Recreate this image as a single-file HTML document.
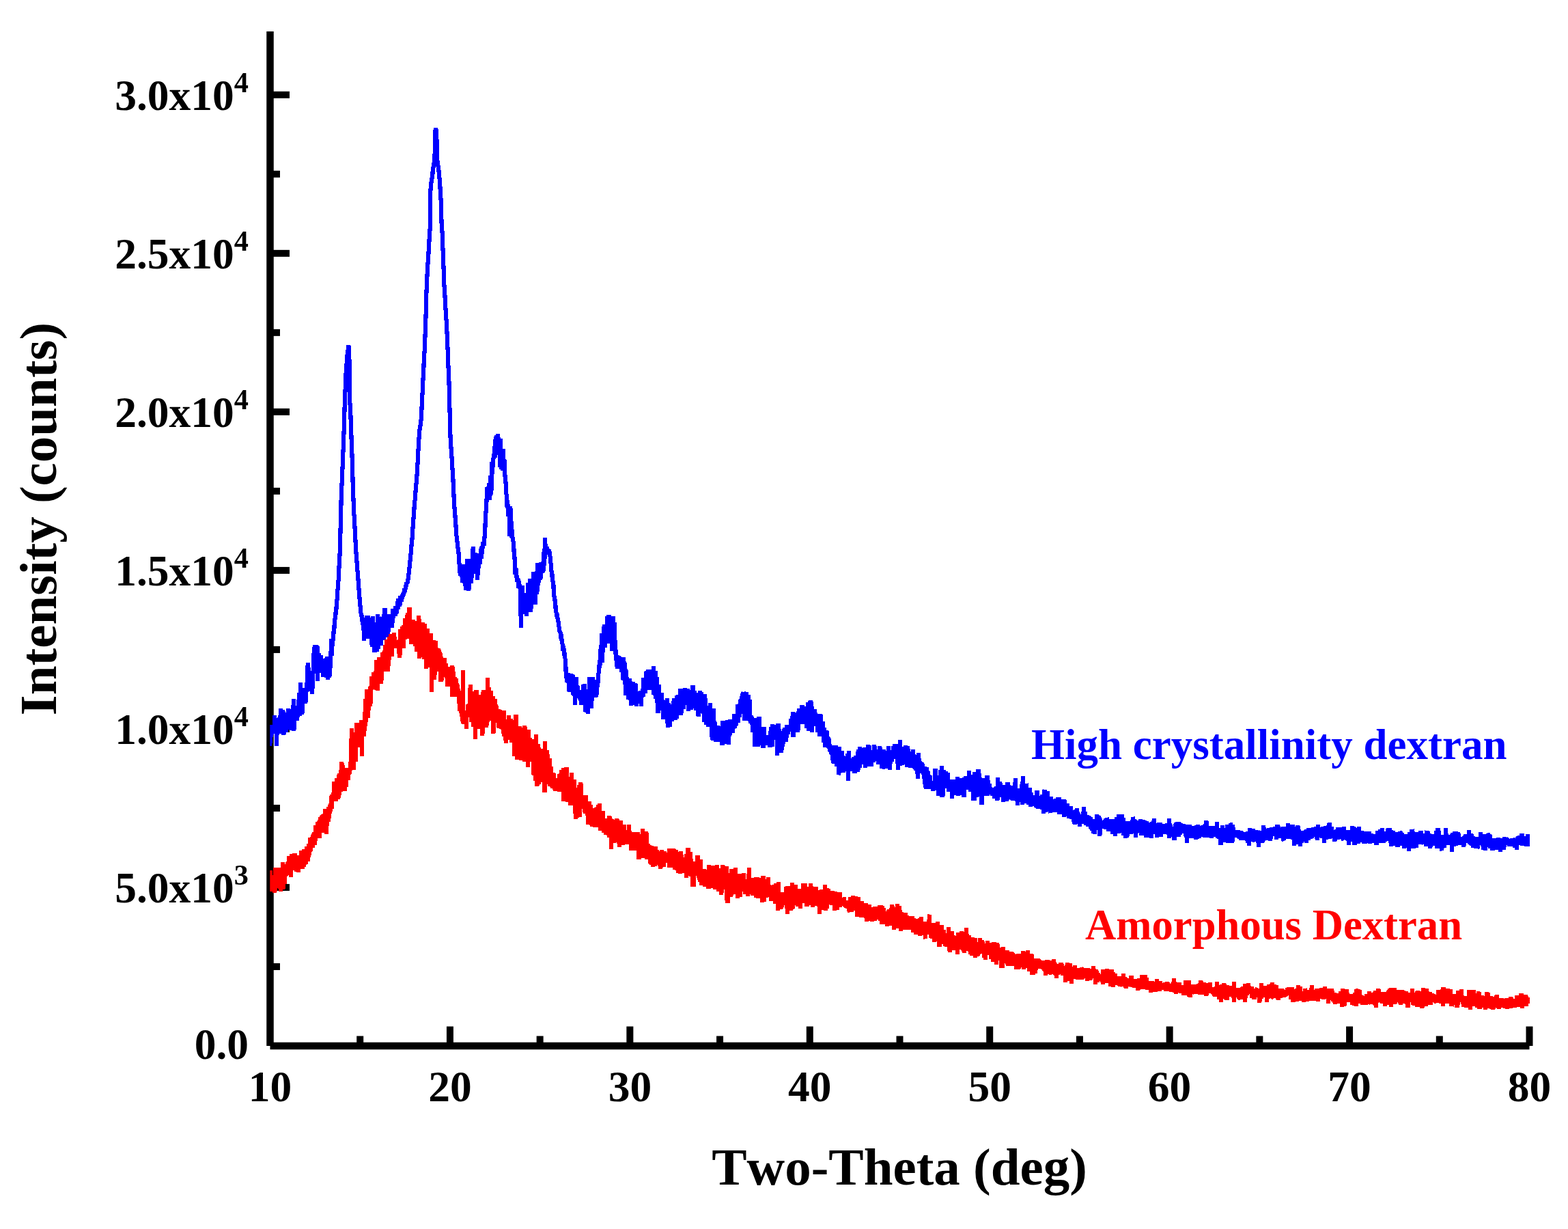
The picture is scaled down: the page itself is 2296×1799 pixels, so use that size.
<!DOCTYPE html>
<html><head><meta charset="utf-8"><title>XRD</title>
<style>
html,body{margin:0;padding:0;background:#fff;}
body{width:2296px;height:1799px;overflow:hidden;}
svg{display:block;}
text{font-family:"Liberation Serif","Times New Roman",serif;font-weight:bold;font-kerning:none;}
</style></head><body>
<svg width="2296" height="1799" viewBox="0 0 2296 1799">
<rect width="2296" height="1799" fill="#fff"/>

<g fill="#000">
<rect x="390.25" y="46" width="10.5" height="1485.00"/>
<rect x="395.50" y="1525.75" width="1844.00" height="10.5"/>
<rect x="395.50" y="1409.98" width="14.5" height="10.0"/>
<rect x="395.50" y="1293.97" width="28.5" height="10.0"/>
<rect x="395.50" y="1177.95" width="14.5" height="10.0"/>
<rect x="395.50" y="1061.94" width="28.5" height="10.0"/>
<rect x="395.50" y="945.92" width="14.5" height="10.0"/>
<rect x="395.50" y="829.91" width="28.5" height="10.0"/>
<rect x="395.50" y="713.89" width="14.5" height="10.0"/>
<rect x="395.50" y="597.87" width="28.5" height="10.0"/>
<rect x="395.50" y="481.86" width="14.5" height="10.0"/>
<rect x="395.50" y="365.84" width="28.5" height="10.0"/>
<rect x="395.50" y="249.83" width="14.5" height="10.0"/>
<rect x="395.50" y="133.81" width="28.5" height="10.0"/>
<rect x="522.21" y="1516.50" width="10.0" height="14.5"/>
<rect x="653.93" y="1502.50" width="10.0" height="28.5"/>
<rect x="785.64" y="1516.50" width="10.0" height="14.5"/>
<rect x="917.36" y="1502.50" width="10.0" height="28.5"/>
<rect x="1049.07" y="1516.50" width="10.0" height="14.5"/>
<rect x="1180.79" y="1502.50" width="10.0" height="28.5"/>
<rect x="1312.50" y="1516.50" width="10.0" height="14.5"/>
<rect x="1444.21" y="1502.50" width="10.0" height="28.5"/>
<rect x="1575.93" y="1516.50" width="10.0" height="14.5"/>
<rect x="1707.64" y="1502.50" width="10.0" height="28.5"/>
<rect x="1839.36" y="1516.50" width="10.0" height="14.5"/>
<rect x="1971.07" y="1502.50" width="10.0" height="28.5"/>
<rect x="2102.79" y="1516.50" width="10.0" height="14.5"/>
<rect x="2234.50" y="1502.50" width="10.0" height="28.5"/>
</g>
<defs><clipPath id="pc"><rect x="395.3" y="0" width="1844.7" height="1799"/></clipPath></defs><g clip-path="url(#pc)">
<path d="M395.0 1081.7L395.3 1092.2L395.6 1080.1L395.9 1061.5L396.1 1085.0L396.4 1079.3L396.7 1068.6L397.0 1079.2L397.3 1076.4L397.6 1075.0L397.9 1071.9L398.1 1075.9L398.4 1064.2L398.7 1068.6L399.0 1065.5L399.3 1073.4L399.6 1068.4L399.9 1065.4L400.1 1061.5L400.4 1064.6L400.7 1065.8L401.0 1063.5L401.3 1072.2L401.6 1073.0L401.9 1048.9L402.1 1047.6L402.4 1061.4L402.7 1059.7L403.0 1062.0L403.3 1061.3L403.6 1067.8L403.9 1055.4L404.1 1057.5L404.4 1066.8L404.7 1060.2L405.0 1058.5L405.3 1091.9L405.6 1051.9L405.9 1057.6L406.1 1057.6L406.4 1051.6L406.7 1053.9L407.0 1057.4L407.3 1051.8L407.6 1057.5L407.9 1059.2L408.1 1058.9L408.4 1054.3L408.7 1064.7L409.0 1068.2L409.3 1062.9L409.6 1050.4L409.9 1068.5L410.1 1053.8L410.4 1071.8L410.7 1037.1L411.0 1073.7L411.3 1060.6L411.6 1042.5L411.9 1056.3L412.1 1061.6L412.4 1064.7L412.7 1047.1L413.0 1045.5L413.3 1063.5L413.6 1054.5L413.9 1063.9L414.1 1070.8L414.4 1039.3L414.7 1064.0L415.0 1076.2L415.3 1057.0L415.6 1050.7L415.9 1075.3L416.1 1063.7L416.4 1071.3L416.7 1054.2L417.0 1043.7L417.3 1059.4L417.6 1055.7L417.9 1069.1L418.1 1062.7L418.4 1043.3L418.7 1048.1L419.0 1069.6L419.3 1071.5L419.6 1054.2L419.9 1060.5L420.1 1064.8L420.4 1064.9L420.7 1068.3L421.0 1062.0L421.3 1058.3L421.6 1056.3L421.9 1068.3L422.1 1036.6L422.4 1056.2L422.7 1057.4L423.0 1043.1L423.3 1061.2L423.6 1049.6L423.9 1063.5L424.1 1053.7L424.4 1060.9L424.7 1065.6L425.0 1057.3L425.3 1044.9L425.6 1038.4L425.9 1069.1L426.1 1050.9L426.4 1045.0L426.7 1052.5L427.0 1048.8L427.3 1063.2L427.6 1050.1L427.9 1049.5L428.1 1042.2L428.4 1053.0L428.7 1038.2L429.0 1054.1L429.3 1061.8L429.6 1032.3L429.9 1023.2L430.1 1052.3L430.4 1070.1L430.7 1036.8L431.0 1034.3L431.3 1051.1L431.6 1037.8L431.9 1040.7L432.1 1042.0L432.4 1049.6L432.7 1041.1L433.0 1046.9L433.3 1042.8L433.6 1036.9L433.9 1041.2L434.1 1035.7L434.4 1043.6L434.7 1034.0L435.0 1034.2L435.3 1054.9L435.6 1042.4L435.9 1041.4L436.1 1045.4L436.4 1036.3L436.7 1036.8L437.0 1041.8L437.3 1039.5L437.6 1024.1L437.9 1048.2L438.1 1023.6L438.4 1014.2L438.7 1021.4L439.0 1023.2L439.3 1048.2L439.6 1014.1L439.9 1029.1L440.1 999.2L440.4 1024.9L440.7 1035.7L441.0 1019.6L441.3 1013.1L441.6 1023.9L441.9 1029.7L442.1 1028.9L442.4 1045.5L442.7 1022.7L443.0 1009.2L443.3 1019.0L443.6 1019.8L443.9 1021.7L444.1 1020.5L444.4 1022.4L444.7 1007.5L445.0 1027.3L445.3 1017.3L445.6 1014.0L445.9 1025.1L446.1 1028.3L446.4 1023.9L446.7 1022.5L447.0 1018.9L447.3 1029.8L447.6 1024.1L447.9 1019.5L448.1 1015.7L448.4 1013.4L448.7 1004.4L449.0 1005.5L449.3 999.0L449.6 1002.1L449.9 997.2L450.1 974.2L450.4 984.6L450.7 970.2L451.0 985.2L451.3 981.0L451.6 985.1L451.9 977.3L452.1 1002.2L452.4 998.5L452.7 983.2L453.0 992.8L453.3 989.1L453.6 994.3L453.9 986.4L454.1 1012.0L454.4 995.4L454.7 999.6L455.0 1005.6L455.3 1002.6L455.6 1006.1L455.9 1006.8L456.1 1010.2L456.4 1008.5L456.7 1012.9L457.0 1015.5L457.3 1009.2L457.6 1004.6L457.9 997.6L458.1 995.4L458.4 985.8L458.7 980.6L459.0 972.8L459.3 967.5L459.6 955.8L459.9 959.9L460.1 947.4L460.4 952.5L460.7 960.4L461.0 960.6L461.3 956.1L461.6 944.1L461.9 966.4L462.1 964.0L462.4 948.6L462.7 971.5L463.0 956.4L463.3 943.8L463.6 967.3L463.9 964.6L464.1 970.7L464.4 945.3L464.7 997.4L465.0 960.9L465.3 945.8L465.6 983.1L465.9 966.8L466.1 980.0L466.4 968.1L466.7 973.2L467.0 978.4L467.3 955.8L467.6 984.8L467.9 968.1L468.1 963.1L468.4 976.0L468.7 980.5L469.0 972.6L469.3 966.2L469.6 981.6L469.9 959.3L470.1 966.9L470.4 976.2L470.7 966.3L471.0 976.4L471.3 975.7L471.6 980.8L471.9 972.6L472.1 974.4L472.4 977.9L472.7 964.5L473.0 990.6L473.3 973.7L473.6 973.4L473.9 982.4L474.1 977.3L474.4 966.0L474.7 982.3L475.0 984.3L475.3 974.7L475.6 976.0L475.9 982.6L476.1 970.4L476.4 982.9L476.7 980.9L477.0 972.1L477.3 964.3L477.6 976.8L477.9 963.4L478.1 991.5L478.4 981.1L478.7 987.8L479.0 979.2L479.3 979.9L479.6 961.3L479.9 982.8L480.1 994.7L480.4 969.9L480.7 965.8L481.0 969.9L481.3 965.5L481.6 962.3L481.9 970.6L482.1 965.2L482.4 992.1L482.7 966.6L483.0 971.2L483.3 974.8L483.6 961.0L483.9 977.8L484.1 956.0L484.4 953.3L484.7 955.8L485.0 956.2L485.3 934.9L485.6 952.9L485.9 937.0L486.1 960.4L486.4 946.4L486.7 940.1L487.0 936.3L487.3 938.2L487.6 936.6L487.9 928.5L488.1 926.4L488.4 927.4L488.7 922.7L489.0 928.3L489.3 923.0L489.6 915.5L489.9 913.6L490.1 905.8L490.4 907.0L490.7 903.7L491.0 902.8L491.3 902.5L491.6 896.1L491.9 897.3L492.1 894.5L492.4 892.3L492.7 886.4L493.0 883.7L493.3 880.4L493.6 876.8L493.9 872.5L494.1 867.9L494.4 864.1L494.7 861.5L495.0 856.8L495.3 851.5L495.6 849.4L495.9 843.5L496.1 838.4L496.4 831.9L496.7 827.4L497.0 820.3L497.3 816.5L497.6 809.8L497.9 805.3L498.1 796.5L498.4 781.7L498.7 769.8L499.0 757.1L499.3 745.2L499.6 731.9L499.9 722.8L500.1 717.4L500.4 710.8L500.7 705.1L501.0 694.9L501.3 689.1L501.6 683.9L501.9 674.6L502.1 667.9L502.4 662.6L502.7 655.7L503.0 646.2L503.3 639.3L503.6 630.9L503.9 622.9L504.1 612.2L504.4 603.6L504.7 592.6L505.0 583.7L505.3 576.4L505.6 570.1L505.9 562.1L506.1 553.1L506.4 548.8L506.7 545.0L507.0 540.4L507.3 536.3L507.6 532.5L507.9 527.3L508.1 525.0L508.4 521.3L508.7 517.8L509.0 517.3L509.3 513.5L509.6 512.3L509.9 510.4L510.1 510.6L510.4 505.6L510.7 509.1L511.0 516.3L511.3 522.7L511.6 530.3L511.9 556.9L512.1 582.8L512.4 590.4L512.7 593.7L513.0 599.5L513.3 603.7L513.6 613.5L513.9 621.2L514.1 627.8L514.4 637.2L514.7 644.5L515.0 652.3L515.3 660.9L515.6 670.0L515.9 680.0L516.1 689.3L516.4 697.9L516.7 708.4L517.0 716.4L517.3 726.5L517.6 733.9L517.9 740.3L518.1 744.5L518.4 752.7L518.7 756.4L519.0 761.9L519.3 767.2L519.6 773.9L519.9 779.2L520.1 784.0L520.4 789.7L520.7 795.9L521.0 801.5L521.3 806.6L521.6 810.7L521.9 814.1L522.1 817.5L522.4 820.7L522.7 824.9L523.0 829.7L523.3 834.1L523.6 837.0L523.9 839.9L524.1 843.9L524.4 847.4L524.7 850.9L525.0 855.0L525.3 858.9L525.6 863.7L525.9 866.1L526.1 870.6L526.4 874.5L526.7 877.1L527.0 881.7L527.3 884.8L527.6 887.7L527.9 891.9L528.1 895.3L528.4 896.9L528.7 898.2L529.0 900.0L529.3 902.6L529.6 900.3L529.9 903.8L530.1 900.2L530.4 907.6L530.7 910.5L531.0 910.0L531.3 912.1L531.6 915.2L531.9 909.5L532.1 913.3L532.4 919.4L532.7 924.4L533.0 921.7L533.3 937.7L533.6 917.6L533.9 926.1L534.1 928.1L534.4 917.5L534.7 912.1L535.0 903.8L535.3 919.5L535.6 926.8L535.9 920.3L536.1 920.3L536.4 915.0L536.7 925.1L537.0 900.8L537.3 919.7L537.6 918.0L537.9 906.5L538.1 935.4L538.4 906.2L538.7 908.6L539.0 901.5L539.3 926.6L539.6 909.8L539.9 922.9L540.1 925.2L540.4 919.3L540.7 905.8L541.0 911.7L541.3 931.4L541.6 905.6L541.9 905.1L542.1 915.3L542.4 924.5L542.7 920.1L543.0 929.6L543.3 908.7L543.6 928.9L543.9 925.9L544.1 904.5L544.4 937.6L544.7 946.5L545.0 914.3L545.3 923.9L545.6 939.7L545.9 907.4L546.1 901.8L546.4 910.2L546.7 919.4L547.0 919.8L547.3 935.2L547.6 931.6L547.9 912.6L548.1 936.9L548.4 955.2L548.7 946.9L549.0 944.9L549.3 932.1L549.6 946.5L549.9 919.0L550.1 944.7L550.4 932.9L550.7 952.0L551.0 942.6L551.3 919.1L551.6 937.6L551.9 953.5L552.1 917.8L552.4 925.9L552.7 922.5L553.0 899.2L553.3 946.0L553.6 950.0L553.9 942.3L554.1 936.2L554.4 929.9L554.7 933.1L555.0 914.9L555.3 940.0L555.6 941.1L555.9 939.0L556.1 921.4L556.4 927.9L556.7 923.6L557.0 945.4L557.3 927.4L557.6 905.4L557.9 929.2L558.1 944.7L558.4 931.9L558.7 933.8L559.0 924.8L559.3 903.5L559.6 905.0L559.9 902.9L560.1 922.4L560.4 926.8L560.7 930.7L561.0 919.7L561.3 933.2L561.6 918.2L561.9 915.4L562.1 937.0L562.4 912.8L562.7 893.5L563.0 911.0L563.3 923.0L563.6 890.2L563.9 917.9L564.1 918.0L564.4 906.3L564.7 905.5L565.0 916.1L565.3 911.2L565.6 932.2L565.9 922.5L566.1 903.0L566.4 909.4L566.7 923.0L567.0 932.6L567.3 918.5L567.6 917.0L567.9 928.7L568.1 912.8L568.4 908.5L568.7 901.1L569.0 907.1L569.3 924.9L569.6 900.0L569.9 909.3L570.1 899.5L570.4 909.3L570.7 913.8L571.0 906.0L571.3 911.9L571.6 911.4L571.9 909.2L572.1 916.6L572.4 910.4L572.7 903.4L573.0 900.7L573.3 899.4L573.6 906.8L573.9 901.7L574.1 918.9L574.4 913.3L574.7 901.2L575.0 900.2L575.3 910.9L575.6 891.0L575.9 896.9L576.1 905.4L576.4 895.3L576.7 897.2L577.0 897.4L577.3 902.1L577.6 899.1L577.9 899.9L578.1 900.4L578.4 897.4L578.7 901.9L579.0 893.1L579.3 889.6L579.6 887.7L579.9 888.2L580.1 892.3L580.4 898.3L580.7 894.0L581.0 890.1L581.3 887.5L581.6 889.1L581.9 888.9L582.1 887.6L582.4 880.2L582.7 886.6L583.0 891.6L583.3 875.8L583.6 885.4L583.9 877.9L584.1 885.6L584.4 881.6L584.7 876.3L585.0 883.4L585.3 888.3L585.6 882.0L585.9 884.6L586.1 879.9L586.4 872.6L586.7 880.2L587.0 876.7L587.3 872.9L587.6 880.3L587.9 876.8L588.1 873.8L588.4 876.9L588.7 871.6L589.0 874.8L589.3 870.2L589.6 873.1L589.9 868.6L590.1 873.8L590.4 870.3L590.7 872.1L591.0 866.7L591.3 866.8L591.6 868.6L591.9 861.3L592.1 863.7L592.4 866.6L592.7 864.8L593.0 864.8L593.3 861.9L593.6 862.5L593.9 859.7L594.1 858.1L594.4 856.9L594.7 857.7L595.0 856.9L595.3 856.0L595.6 852.6L595.9 853.0L596.1 853.8L596.4 853.9L596.7 852.3L597.0 851.2L597.3 847.7L597.6 849.0L597.9 844.2L598.1 843.9L598.4 841.5L598.7 838.2L599.0 835.3L599.3 833.5L599.6 830.4L599.9 828.4L600.1 825.2L600.4 822.4L600.7 819.8L601.0 816.9L601.3 812.6L601.6 810.3L601.9 806.1L602.1 802.7L602.4 800.0L602.7 796.4L603.0 794.7L603.3 791.6L603.6 787.4L603.9 782.6L604.1 778.7L604.4 774.1L604.7 769.6L605.0 766.5L605.3 762.3L605.6 757.3L605.9 754.4L606.1 748.7L606.4 745.7L606.7 741.3L607.0 737.7L607.3 733.9L607.6 732.0L607.9 728.2L608.1 725.8L608.4 721.1L608.7 716.6L609.0 713.8L609.3 709.8L609.6 707.6L609.9 704.7L610.1 700.6L610.4 696.5L610.7 693.1L611.0 688.2L611.3 681.5L611.6 677.3L611.9 671.9L612.1 666.0L612.4 660.6L612.7 655.7L613.0 649.5L613.3 644.1L613.6 639.9L613.9 634.8L614.1 633.9L614.4 629.5L614.7 627.3L615.0 627.4L615.3 625.5L615.6 622.2L615.9 619.7L616.1 618.8L616.4 615.5L616.7 614.4L617.0 607.0L617.3 602.5L617.6 595.1L617.9 590.5L618.1 585.8L618.4 578.5L618.7 573.3L619.0 566.2L619.3 560.0L619.6 552.9L619.9 549.5L620.1 542.8L620.4 538.0L620.7 530.0L621.0 524.6L621.3 519.0L621.6 514.0L621.9 508.3L622.1 500.5L622.4 494.2L622.7 486.8L623.0 480.3L623.3 469.6L623.6 459.6L623.9 450.4L624.1 438.9L624.4 429.9L624.7 422.3L625.0 412.3L625.3 407.3L625.6 401.6L625.9 398.0L626.1 394.1L626.4 387.0L626.7 383.2L627.0 378.0L627.3 373.8L627.6 368.8L627.9 363.8L628.1 358.5L628.4 354.3L628.7 349.1L629.0 344.6L629.3 339.9L629.6 335.6L629.9 315.0L630.1 292.3L630.4 279.3L630.7 275.0L631.0 271.6L631.3 269.1L631.6 265.8L631.9 264.4L632.1 263.2L632.4 260.8L632.7 260.8L633.0 259.6L633.3 256.5L633.6 251.5L633.9 251.0L634.1 247.1L634.4 245.4L634.7 243.7L635.0 240.8L635.3 241.4L635.6 238.0L635.9 236.7L636.1 234.8L636.4 233.4L636.7 221.5L637.0 204.4L637.3 194.3L637.6 190.4L637.9 189.2L638.1 188.0L638.4 189.5L638.7 192.1L639.0 193.1L639.3 199.2L639.6 212.2L639.9 226.3L640.1 234.2L640.4 234.8L640.7 239.4L641.0 239.2L641.3 241.0L641.6 243.7L641.9 245.9L642.1 247.8L642.4 249.0L642.7 253.2L643.0 255.0L643.3 259.0L643.6 262.0L643.9 263.9L644.1 268.1L644.4 272.5L644.7 278.6L645.0 283.5L645.3 288.8L645.6 293.1L645.9 301.9L646.1 312.8L646.4 320.9L646.7 329.4L647.0 333.5L647.3 337.0L647.6 340.7L647.9 346.9L648.1 354.7L648.4 362.4L648.7 369.0L649.0 379.7L649.3 386.4L649.6 393.7L649.9 402.0L650.1 410.0L650.4 417.5L650.7 421.0L651.0 425.8L651.3 429.0L651.6 436.1L651.9 439.7L652.1 444.6L652.4 450.8L652.7 454.6L653.0 460.8L653.3 465.9L653.6 468.6L653.9 474.8L654.1 478.6L654.4 484.7L654.7 490.4L655.0 496.1L655.3 505.8L655.6 511.6L655.9 517.8L656.1 526.5L656.4 534.5L656.7 540.3L657.0 548.7L657.3 555.0L657.6 564.3L657.9 573.2L658.1 584.2L658.4 597.1L658.7 606.4L659.0 619.3L659.3 632.6L659.6 641.0L659.9 646.5L660.1 650.0L660.4 653.7L660.7 658.3L661.0 663.1L661.3 667.1L661.6 671.1L661.9 675.6L662.1 679.4L662.4 685.0L662.7 689.6L663.0 694.2L663.3 698.1L663.6 706.3L663.9 711.1L664.1 715.9L664.4 722.8L664.7 729.2L665.0 734.8L665.3 740.7L665.6 744.8L665.9 748.6L666.1 751.8L666.4 754.0L666.7 758.9L667.0 763.5L667.3 766.7L667.6 771.4L667.9 775.3L668.1 778.6L668.4 783.8L668.7 785.5L669.0 789.8L669.3 791.1L669.6 793.2L669.9 796.8L670.1 797.6L670.4 801.9L670.7 802.2L671.0 805.8L671.3 807.2L671.6 810.3L671.9 814.2L672.1 816.8L672.4 824.0L672.7 826.1L673.0 830.7L673.3 837.2L673.6 838.2L673.9 839.0L674.1 838.3L674.4 842.9L674.7 835.6L675.0 836.9L675.3 836.4L675.6 842.5L675.9 841.1L676.1 844.6L676.4 844.7L676.7 840.5L677.0 838.2L677.3 837.7L677.6 853.4L677.9 848.0L678.1 846.7L678.4 842.0L678.7 843.2L679.0 842.7L679.3 843.1L679.6 826.0L679.9 845.6L680.1 842.1L680.4 849.0L680.7 849.7L681.0 858.3L681.3 848.0L681.6 855.1L681.9 827.2L682.1 833.9L682.4 864.3L682.7 837.6L683.0 845.4L683.3 853.7L683.6 838.8L683.9 856.6L684.1 832.6L684.4 817.7L684.7 832.3L685.0 828.6L685.3 843.2L685.6 839.8L685.9 845.3L686.1 831.9L686.4 865.1L686.7 839.6L687.0 839.5L687.3 843.7L687.6 836.4L687.9 832.1L688.1 838.5L688.4 846.0L688.7 843.0L689.0 845.2L689.3 829.8L689.6 827.1L689.9 854.2L690.1 831.3L690.4 840.7L690.7 840.0L691.0 846.3L691.3 817.7L691.6 822.9L691.9 825.8L692.1 824.7L692.4 803.3L692.7 828.2L693.0 800.0L693.3 831.9L693.6 834.1L693.9 834.6L694.1 817.1L694.4 837.6L694.7 820.3L695.0 816.9L695.3 819.2L695.6 820.4L695.9 830.4L696.1 835.1L696.4 809.4L696.7 822.9L697.0 839.7L697.3 829.1L697.6 831.5L697.9 814.9L698.1 834.7L698.4 814.5L698.7 828.3L699.0 837.2L699.3 849.4L699.6 830.3L699.9 832.9L700.1 821.3L700.4 821.1L700.7 832.1L701.0 822.4L701.3 820.3L701.6 809.7L701.9 820.1L702.1 822.6L702.4 810.9L702.7 811.9L703.0 826.2L703.3 815.5L703.6 810.1L703.9 802.7L704.1 805.4L704.4 805.9L704.7 817.8L705.0 803.0L705.3 818.0L705.6 799.9L705.9 802.7L706.1 808.5L706.4 801.9L706.7 798.4L707.0 800.9L707.3 802.5L707.6 793.5L707.9 797.7L708.1 797.9L708.4 796.4L708.7 798.3L709.0 794.7L709.3 789.9L709.6 785.4L709.9 781.6L710.1 774.5L710.4 772.7L710.7 762.8L711.0 761.8L711.3 752.4L711.6 748.6L711.9 744.4L712.1 742.4L712.4 736.0L712.7 727.2L713.0 725.3L713.3 717.2L713.6 713.5L713.9 718.6L714.1 716.4L714.4 722.3L714.7 712.0L715.0 719.9L715.3 723.1L715.6 720.0L715.9 716.6L716.1 707.3L716.4 731.1L716.7 719.7L717.0 731.8L717.3 711.1L717.6 718.2L717.9 695.7L718.1 716.2L718.4 725.7L718.7 710.2L719.0 719.4L719.3 707.2L719.6 718.1L719.9 694.3L720.1 675.7L720.4 694.9L720.7 686.3L721.0 677.7L721.3 685.7L721.6 680.8L721.9 677.4L722.1 672.1L722.4 670.9L722.7 670.0L723.0 672.1L723.3 664.4L723.6 664.9L723.9 665.6L724.1 655.2L724.4 653.6L724.7 669.5L725.0 643.2L725.3 659.6L725.6 649.9L725.9 645.8L726.1 638.9L726.4 644.3L726.7 655.1L727.0 637.0L727.3 651.4L727.6 647.7L727.9 661.8L728.1 640.2L728.4 657.2L728.7 655.1L729.0 645.8L729.3 634.8L729.6 664.4L729.9 640.1L730.1 649.3L730.4 662.6L730.7 665.9L731.0 650.0L731.3 658.4L731.6 657.7L731.9 671.5L732.1 684.3L732.4 648.0L732.7 673.0L733.0 641.8L733.3 667.8L733.6 658.9L733.9 686.7L734.1 671.0L734.4 663.3L734.7 665.9L735.0 665.6L735.3 674.5L735.6 670.5L735.9 679.3L736.1 689.0L736.4 685.4L736.7 661.1L737.0 657.0L737.3 666.9L737.6 687.5L737.9 672.4L738.1 672.1L738.4 684.5L738.7 672.9L739.0 679.9L739.3 698.3L739.6 695.2L739.9 697.9L740.1 707.0L740.4 704.9L740.7 708.4L741.0 713.5L741.3 722.0L741.6 723.2L741.9 723.0L742.1 729.6L742.4 734.7L742.7 744.4L743.0 731.8L743.3 739.7L743.6 738.3L743.9 746.6L744.1 746.2L744.4 756.3L744.7 750.9L745.0 742.9L745.3 744.2L745.6 755.8L745.9 757.7L746.1 784.7L746.4 778.6L746.7 741.5L747.0 767.7L747.3 745.0L747.6 744.4L747.9 774.8L748.1 774.4L748.4 760.9L748.7 787.3L749.0 767.5L749.3 769.1L749.6 783.5L749.9 782.8L750.1 783.1L750.4 785.7L750.7 788.8L751.0 790.0L751.3 792.4L751.6 792.3L751.9 795.9L752.1 803.3L752.4 802.9L752.7 809.6L753.0 815.1L753.3 812.7L753.6 818.9L753.9 829.0L754.1 826.3L754.4 840.7L754.7 837.2L755.0 836.4L755.3 834.6L755.6 833.1L755.9 833.4L756.1 844.2L756.4 845.0L756.7 842.4L757.0 848.9L757.3 842.4L757.6 851.9L757.9 847.7L758.1 848.3L758.4 849.6L758.7 850.2L759.0 861.1L759.3 846.9L759.6 854.3L759.9 858.7L760.1 857.9L760.4 856.0L760.7 862.2L761.0 856.4L761.3 857.2L761.6 862.0L761.9 859.6L762.1 859.6L762.4 865.2L762.7 919.2L763.0 866.6L763.3 864.6L763.6 866.8L763.9 864.2L764.1 873.1L764.4 870.9L764.7 871.6L765.0 857.4L765.3 873.6L765.6 877.6L765.9 880.8L766.1 876.0L766.4 872.5L766.7 871.2L767.0 877.4L767.3 876.8L767.6 876.6L767.9 873.5L768.1 895.6L768.4 868.2L768.7 877.3L769.0 870.7L769.3 887.3L769.6 899.1L769.9 891.1L770.1 887.5L770.4 867.9L770.7 902.2L771.0 887.7L771.3 881.6L771.6 882.5L771.9 878.3L772.1 885.8L772.4 884.1L772.7 876.7L773.0 852.9L773.3 879.1L773.6 884.1L773.9 887.5L774.1 876.5L774.4 882.5L774.7 888.3L775.0 868.6L775.3 892.2L775.6 854.5L775.9 861.5L776.1 864.9L776.4 847.4L776.7 862.9L777.0 895.7L777.3 886.9L777.6 873.6L777.9 891.4L778.1 873.9L778.4 864.8L778.7 872.2L779.0 867.1L779.3 875.9L779.6 850.3L779.9 877.0L780.1 860.1L780.4 873.6L780.7 836.6L781.0 858.0L781.3 862.5L781.6 870.4L781.9 846.9L782.1 876.8L782.4 863.3L782.7 848.4L783.0 869.2L783.3 856.6L783.6 866.8L783.9 885.0L784.1 860.9L784.4 846.6L784.7 847.0L785.0 856.7L785.3 853.2L785.6 841.8L785.9 843.1L786.1 855.1L786.4 869.8L786.7 824.5L787.0 853.8L787.3 845.2L787.6 856.9L787.9 853.1L788.1 846.0L788.4 837.2L788.7 834.0L789.0 830.2L789.3 852.5L789.6 841.7L789.9 839.0L790.1 840.4L790.4 833.1L790.7 843.2L791.0 848.8L791.3 847.0L791.6 830.9L791.9 846.9L792.1 834.8L792.4 823.0L792.7 831.8L793.0 832.8L793.3 836.9L793.6 831.5L793.9 822.9L794.1 830.8L794.4 839.3L794.7 822.3L795.0 828.3L795.3 824.3L795.6 836.2L795.9 809.2L796.1 823.9L796.4 808.2L796.7 810.1L797.0 811.0L797.3 828.2L797.6 802.7L797.9 793.2L798.1 787.1L798.4 796.0L798.7 800.4L799.0 802.1L799.3 803.2L799.6 802.0L799.9 804.7L800.1 805.6L800.4 810.7L800.7 802.3L801.0 801.3L801.3 800.5L801.6 807.6L801.9 805.4L802.1 807.8L802.4 808.0L802.7 811.5L803.0 807.5L803.3 809.1L803.6 805.1L803.9 805.9L804.1 807.8L804.4 807.0L804.7 810.7L805.0 810.7L805.3 815.0L805.6 814.1L805.9 818.5L806.1 822.1L806.4 824.8L806.7 824.8L807.0 830.6L807.3 834.7L807.6 836.7L807.9 836.8L808.1 839.4L808.4 839.3L808.7 847.1L809.0 851.5L809.3 849.8L809.6 850.0L809.9 856.7L810.1 860.4L810.4 855.9L810.7 864.5L811.0 872.9L811.3 871.1L811.6 873.2L811.9 875.6L812.1 879.5L812.4 877.2L812.7 881.1L813.0 886.1L813.3 886.8L813.6 890.9L813.9 886.5L814.1 894.9L814.4 896.7L814.7 896.8L815.0 898.6L815.3 902.8L815.6 898.3L815.9 901.4L816.1 902.6L816.4 904.9L816.7 905.9L817.0 909.4L817.3 909.7L817.6 909.9L817.9 911.3L818.1 917.8L818.4 917.1L818.7 918.4L819.0 920.4L819.3 921.7L819.6 924.9L819.9 926.1L820.1 925.6L820.4 926.5L820.7 926.0L821.0 928.1L821.3 934.6L821.6 931.3L821.9 928.3L822.1 933.9L822.4 935.2L822.7 938.9L823.0 937.5L823.3 941.9L823.6 942.8L823.9 946.1L824.1 949.5L824.4 952.5L824.7 950.3L825.0 945.4L825.3 948.5L825.6 951.4L825.9 957.4L826.1 955.1L826.4 959.7L826.7 955.1L827.0 959.7L827.3 964.1L827.6 964.0L827.9 972.3L828.1 977.6L828.4 976.1L828.7 985.6L829.0 993.1L829.3 988.5L829.6 991.9L829.9 993.8L830.1 993.4L830.4 998.5L830.7 994.4L831.0 994.9L831.3 991.2L831.6 984.9L831.9 989.3L832.1 999.6L832.4 986.5L832.7 990.9L833.0 1011.7L833.3 1007.2L833.6 989.6L833.9 1002.3L834.1 989.5L834.4 1013.2L834.7 989.7L835.0 996.8L835.3 1011.4L835.6 986.1L835.9 1011.0L836.1 985.6L836.4 998.4L836.7 992.5L837.0 995.7L837.3 999.3L837.6 997.2L837.9 987.1L838.1 1009.0L838.4 1007.9L838.7 1014.6L839.0 1016.0L839.3 987.8L839.6 1015.8L839.9 1016.3L840.1 998.5L840.4 1014.6L840.7 1019.1L841.0 1000.7L841.3 993.7L841.6 1003.8L841.9 1032.4L842.1 1011.6L842.4 998.6L842.7 1007.5L843.0 1002.0L843.3 1007.2L843.6 1011.5L843.9 991.0L844.1 1014.1L844.4 1022.4L844.7 1010.5L845.0 1009.4L845.3 1020.5L845.6 1003.8L845.9 1004.4L846.1 1003.8L846.4 1012.7L846.7 1016.8L847.0 1013.8L847.3 1018.3L847.6 1020.4L847.9 1018.5L848.1 1010.6L848.4 1014.3L848.7 1023.7L849.0 1010.4L849.3 1014.6L849.6 1014.8L849.9 1016.5L850.1 1012.0L850.4 1010.9L850.7 1032.0L851.0 1023.7L851.3 1012.1L851.6 1018.4L851.9 1023.0L852.1 1016.9L852.4 1023.1L852.7 1015.2L853.0 1017.0L853.3 1018.9L853.6 1016.4L853.9 1001.8L854.1 1020.1L854.4 1022.0L854.7 1023.9L855.0 1012.3L855.3 1023.3L855.6 1022.4L855.9 1005.5L856.1 1001.5L856.4 1025.2L856.7 1012.4L857.0 1030.5L857.3 1041.6L857.6 1012.5L857.9 1014.8L858.1 1021.6L858.4 1028.7L858.7 1010.2L859.0 1042.6L859.3 1032.4L859.6 1029.0L859.9 1016.3L860.1 1032.0L860.4 1031.5L860.7 1009.1L861.0 1045.4L861.3 1019.0L861.6 1026.6L861.9 1016.5L862.1 1027.0L862.4 1036.0L862.7 1013.2L863.0 991.5L863.3 1017.4L863.6 1007.0L863.9 1012.7L864.1 1019.0L864.4 1018.6L864.7 1032.2L865.0 1006.6L865.3 1019.8L865.6 1010.1L865.9 1027.3L866.1 1036.9L866.4 1014.7L866.7 1025.8L867.0 1005.3L867.3 995.4L867.6 991.3L867.9 994.3L868.1 998.4L868.4 1002.8L868.7 1012.2L869.0 1009.4L869.3 1008.1L869.6 1002.2L869.9 1000.5L870.1 1006.2L870.4 1007.4L870.7 1008.6L871.0 1009.7L871.3 1006.8L871.6 994.7L871.9 1000.7L872.1 1003.1L872.4 1020.7L872.7 1006.6L873.0 1014.5L873.3 1020.2L873.6 1012.9L873.9 1007.9L874.1 1006.1L874.4 999.4L874.7 1005.5L875.0 1006.0L875.3 1000.3L875.6 998.4L875.9 995.3L876.1 997.1L876.4 985.3L876.7 985.2L877.0 983.9L877.3 982.2L877.6 972.9L877.9 973.4L878.1 971.6L878.4 966.0L878.7 973.5L879.0 966.2L879.3 960.3L879.6 949.6L879.9 948.3L880.1 947.6L880.4 957.0L880.7 939.3L881.0 927.4L881.3 930.2L881.6 937.2L881.9 961.7L882.1 969.7L882.4 936.0L882.7 950.5L883.0 954.4L883.3 952.1L883.6 936.6L883.9 923.6L884.1 931.1L884.4 916.6L884.7 936.6L885.0 941.0L885.3 914.4L885.6 931.2L885.9 935.1L886.1 948.3L886.4 941.5L886.7 939.6L887.0 920.9L887.3 922.4L887.6 934.3L887.9 918.1L888.1 921.2L888.4 932.5L888.7 920.2L889.0 901.9L889.3 914.5L889.6 919.8L889.9 912.8L890.1 920.3L890.4 919.6L890.7 906.3L891.0 906.0L891.3 907.1L891.6 899.8L891.9 908.0L892.1 907.1L892.4 917.4L892.7 907.3L893.0 905.7L893.3 941.6L893.6 908.0L893.9 913.8L894.1 912.9L894.4 922.2L894.7 912.0L895.0 931.8L895.3 919.1L895.6 927.5L895.9 946.9L896.1 953.2L896.4 946.0L896.7 919.3L897.0 941.3L897.3 930.1L897.6 929.3L897.9 902.1L898.1 939.0L898.4 925.8L898.7 948.3L899.0 932.8L899.3 912.6L899.6 911.4L899.9 944.3L900.1 924.5L900.4 940.6L900.7 936.9L901.0 956.3L901.3 946.9L901.6 958.1L901.9 960.1L902.1 955.6L902.4 960.0L902.7 969.2L903.0 968.6L903.3 970.7L903.6 975.6L903.9 978.9L904.1 972.7L904.4 976.9L904.7 971.5L905.0 977.3L905.3 970.4L905.6 977.8L905.9 973.8L906.1 969.4L906.4 971.6L906.7 966.1L907.0 961.3L907.3 961.0L907.6 969.2L907.9 961.7L908.1 974.0L908.4 975.2L908.7 977.8L909.0 967.9L909.3 973.4L909.6 972.6L909.9 984.3L910.1 967.0L910.4 970.9L910.7 972.7L911.0 973.9L911.3 969.1L911.6 970.5L911.9 985.4L912.1 971.3L912.4 990.8L912.7 996.1L913.0 989.8L913.3 962.3L913.6 986.2L913.9 984.7L914.1 987.1L914.4 968.2L914.7 992.7L915.0 970.4L915.3 1001.5L915.6 1001.2L915.9 1018.0L916.1 989.8L916.4 979.5L916.7 1008.2L917.0 1008.1L917.3 996.3L917.6 1017.1L917.9 1011.5L918.1 991.0L918.4 1003.2L918.7 1003.8L919.0 1009.3L919.3 1014.5L919.6 1005.7L919.9 1013.2L920.1 1024.1L920.4 1015.8L920.7 1013.1L921.0 1012.4L921.3 1014.5L921.6 992.7L921.9 1017.0L922.1 1002.7L922.4 1015.7L922.7 997.0L923.0 1024.5L923.3 1016.2L923.6 997.6L923.9 1015.5L924.1 999.1L924.4 1032.6L924.7 1021.2L925.0 1002.6L925.3 1015.7L925.6 1010.8L925.9 1023.9L926.1 1014.2L926.4 1015.6L926.7 997.9L927.0 1024.2L927.3 1032.4L927.6 1017.8L927.9 1011.6L928.1 1014.0L928.4 1004.4L928.7 1015.1L929.0 1004.8L929.3 1014.8L929.6 1012.0L929.9 1009.3L930.1 1020.1L930.4 1000.5L930.7 1016.7L931.0 1009.2L931.3 1028.7L931.6 1029.5L931.9 1023.4L932.1 1034.0L932.4 1022.7L932.7 1022.8L933.0 1019.2L933.3 1017.1L933.6 1021.3L933.9 1018.5L934.1 1018.8L934.4 1023.9L934.7 1020.0L935.0 1013.5L935.3 1019.5L935.6 1016.9L935.9 1019.0L936.1 1012.2L936.4 1026.2L936.7 1029.7L937.0 1014.7L937.3 1023.5L937.6 1025.3L937.9 1011.4L938.1 1020.6L938.4 1027.5L938.7 1024.5L939.0 1034.2L939.3 1013.4L939.6 1015.4L939.9 1020.1L940.1 1019.4L940.4 1016.3L940.7 1012.7L941.0 1010.0L941.3 1008.9L941.6 1014.5L941.9 992.4L942.1 1020.0L942.4 1002.7L942.7 997.2L943.0 1009.7L943.3 994.8L943.6 1006.4L943.9 999.5L944.1 1005.8L944.4 1006.2L944.7 1015.2L945.0 994.1L945.3 994.5L945.6 995.5L945.9 982.9L946.1 998.9L946.4 994.7L946.7 982.6L947.0 1002.6L947.3 1003.4L947.6 982.0L947.9 996.4L948.1 1001.3L948.4 1001.7L948.7 983.5L949.0 980.0L949.3 989.3L949.6 986.2L949.9 989.5L950.1 988.4L950.4 992.6L950.7 984.4L951.0 987.0L951.3 1010.2L951.6 987.6L951.9 994.5L952.1 991.3L952.4 991.0L952.7 981.6L953.0 994.2L953.3 989.2L953.6 997.5L953.9 1009.5L954.1 992.2L954.4 998.1L954.7 980.5L955.0 992.2L955.3 1007.6L955.6 990.6L955.9 984.7L956.1 994.2L956.4 990.0L956.7 989.5L957.0 975.1L957.3 1016.8L957.6 982.4L957.9 989.3L958.1 988.4L958.4 1013.6L958.7 994.7L959.0 1017.8L959.3 1003.4L959.6 1002.0L959.9 982.2L960.1 1023.1L960.4 1019.7L960.7 1013.9L961.0 1007.1L961.3 1003.5L961.6 990.7L961.9 1028.6L962.1 1018.7L962.4 1009.3L962.7 1005.6L963.0 1019.0L963.3 1016.1L963.6 1043.6L963.9 1030.3L964.1 1010.6L964.4 1004.5L964.7 1017.2L965.0 1002.5L965.3 1022.3L965.6 1026.7L965.9 1029.5L966.1 1027.4L966.4 1021.7L966.7 1029.8L967.0 1016.9L967.3 1024.6L967.6 1032.1L967.9 1028.4L968.1 1013.7L968.4 1020.5L968.7 1014.0L969.0 1037.4L969.3 1021.6L969.6 1028.9L969.9 1040.1L970.1 1036.9L970.4 1039.1L970.7 1028.8L971.0 1037.2L971.3 1052.9L971.6 1033.3L971.9 1037.1L972.1 1031.0L972.4 1035.1L972.7 1038.8L973.0 1047.8L973.3 1029.2L973.6 1024.8L973.9 1038.2L974.1 1040.5L974.4 1052.7L974.7 1046.8L975.0 1030.3L975.3 1046.7L975.6 1053.3L975.9 1045.0L976.1 1038.6L976.4 1050.8L976.7 1037.2L977.0 1021.9L977.3 1059.4L977.6 1029.3L977.9 1040.4L978.1 1064.9L978.4 1038.7L978.7 1041.5L979.0 1029.1L979.3 1050.5L979.6 1045.7L979.9 1045.5L980.1 1056.4L980.4 1056.7L980.7 1059.1L981.0 1064.2L981.3 1050.3L981.6 1030.9L981.9 1048.1L982.1 1046.3L982.4 1047.0L982.7 1040.9L983.0 1038.5L983.3 1053.9L983.6 1055.5L983.9 1037.2L984.1 1051.8L984.4 1045.9L984.7 1043.6L985.0 1052.1L985.3 1045.2L985.6 1040.3L985.9 1044.9L986.1 1026.4L986.4 1038.0L986.7 1038.7L987.0 1022.3L987.3 1042.9L987.6 1043.2L987.9 1034.7L988.1 1038.0L988.4 1045.0L988.7 1053.8L989.0 1030.7L989.3 1040.2L989.6 1046.0L989.9 1035.5L990.1 1028.0L990.4 1027.4L990.7 1030.9L991.0 1017.8L991.3 1051.8L991.6 1026.7L991.9 1035.1L992.1 1032.6L992.4 1036.5L992.7 1026.3L993.0 1017.3L993.3 1044.8L993.6 1028.2L993.9 1029.6L994.1 1030.1L994.4 1039.5L994.7 1034.6L995.0 1037.9L995.3 1034.3L995.6 1027.8L995.9 1028.3L996.1 1019.0L996.4 1007.9L996.7 1022.8L997.0 1015.0L997.3 1047.1L997.6 1037.6L997.9 1039.9L998.1 1018.3L998.4 1040.7L998.7 1007.7L999.0 1011.7L999.3 1015.0L999.6 1013.2L999.9 1022.1L1000.1 1022.6L1000.4 1037.9L1000.7 1030.4L1001.0 1032.9L1001.3 1026.1L1001.6 1021.2L1001.9 1016.4L1002.1 1008.7L1002.4 1015.1L1002.7 1020.1L1003.0 1031.9L1003.3 1007.3L1003.6 1010.7L1003.9 1027.5L1004.1 1014.3L1004.4 1029.5L1004.7 1021.6L1005.0 1013.1L1005.3 1011.7L1005.6 1026.0L1005.9 1013.9L1006.1 1016.2L1006.4 1015.9L1006.7 1030.7L1007.0 1030.5L1007.3 1007.8L1007.6 1027.3L1007.9 1034.1L1008.1 1041.2L1008.4 1037.1L1008.7 1029.6L1009.0 1013.4L1009.3 1017.2L1009.6 1035.1L1009.9 1017.0L1010.1 1034.4L1010.4 1035.9L1010.7 1012.1L1011.0 1026.0L1011.3 1020.1L1011.6 1038.6L1011.9 1027.1L1012.1 1014.8L1012.4 1021.8L1012.7 1010.5L1013.0 1016.0L1013.3 1017.9L1013.6 1016.8L1013.9 1017.2L1014.1 1008.5L1014.4 1002.9L1014.7 1013.6L1015.0 1010.9L1015.3 1013.1L1015.6 1033.8L1015.9 1028.1L1016.1 1019.5L1016.4 1011.3L1016.7 1013.1L1017.0 1026.3L1017.3 1032.7L1017.6 1023.3L1017.9 1027.5L1018.1 1029.4L1018.4 1036.9L1018.7 1014.1L1019.0 1031.6L1019.3 1034.6L1019.6 1040.1L1019.9 1036.5L1020.1 1024.6L1020.4 1030.0L1020.7 1022.3L1021.0 1037.1L1021.3 1037.0L1021.6 1039.6L1021.9 1026.9L1022.1 1025.4L1022.4 1047.5L1022.7 1036.2L1023.0 1048.9L1023.3 1038.1L1023.6 1022.6L1023.9 1040.7L1024.1 1043.9L1024.4 1030.5L1024.7 1010.6L1025.0 1042.0L1025.3 1032.6L1025.6 1035.7L1025.9 1013.3L1026.1 1036.7L1026.4 1012.9L1026.7 1026.7L1027.0 1039.4L1027.3 1019.8L1027.6 1019.5L1027.9 1029.5L1028.1 1044.0L1028.4 1043.5L1028.7 1028.1L1029.0 1038.9L1029.3 1035.9L1029.6 1033.6L1029.9 1035.0L1030.1 1028.1L1030.4 1040.0L1030.7 1043.0L1031.0 1057.2L1031.3 1043.9L1031.6 1016.1L1031.9 1027.2L1032.1 1043.4L1032.4 1040.0L1032.7 1022.1L1033.0 1039.4L1033.3 1037.9L1033.6 1041.8L1033.9 1041.8L1034.1 1054.0L1034.4 1061.2L1034.7 1053.3L1035.0 1032.9L1035.3 1036.3L1035.6 1039.4L1035.9 1047.6L1036.1 1043.4L1036.4 1044.8L1036.7 1037.7L1037.0 1062.5L1037.3 1061.6L1037.6 1063.4L1037.9 1050.2L1038.1 1057.6L1038.4 1039.9L1038.7 1038.9L1039.0 1041.1L1039.3 1061.0L1039.6 1051.5L1039.9 1029.1L1040.1 1055.6L1040.4 1060.5L1040.7 1057.3L1041.0 1046.3L1041.3 1056.7L1041.6 1050.4L1041.9 1052.1L1042.1 1055.7L1042.4 1068.0L1042.7 1083.2L1043.0 1079.9L1043.3 1073.1L1043.6 1056.5L1043.9 1056.7L1044.1 1060.5L1044.4 1084.3L1044.7 1037.4L1045.0 1069.2L1045.3 1049.4L1045.6 1068.7L1045.9 1080.7L1046.1 1063.8L1046.4 1055.4L1046.7 1081.7L1047.0 1083.4L1047.3 1077.9L1047.6 1082.7L1047.9 1073.4L1048.1 1083.2L1048.4 1085.7L1048.7 1082.4L1049.0 1081.7L1049.3 1084.7L1049.6 1084.1L1049.9 1076.8L1050.1 1084.9L1050.4 1082.2L1050.7 1079.3L1051.0 1084.6L1051.3 1085.4L1051.6 1081.4L1051.9 1074.1L1052.1 1084.6L1052.4 1069.3L1052.7 1075.0L1053.0 1063.9L1053.3 1063.0L1053.6 1077.9L1053.9 1073.6L1054.1 1074.9L1054.4 1078.3L1054.7 1076.1L1055.0 1065.0L1055.3 1073.0L1055.6 1071.3L1055.9 1066.6L1056.1 1069.9L1056.4 1067.1L1056.7 1063.7L1057.0 1066.9L1057.3 1072.7L1057.6 1091.3L1057.9 1062.0L1058.1 1078.6L1058.4 1055.5L1058.7 1086.0L1059.0 1066.8L1059.3 1071.5L1059.6 1082.6L1059.9 1079.7L1060.1 1055.4L1060.4 1075.4L1060.7 1067.7L1061.0 1075.8L1061.3 1071.3L1061.6 1076.8L1061.9 1089.4L1062.1 1068.4L1062.4 1080.8L1062.7 1055.3L1063.0 1065.6L1063.3 1060.8L1063.6 1068.3L1063.9 1065.6L1064.1 1068.2L1064.4 1065.0L1064.7 1065.0L1065.0 1054.4L1065.3 1068.4L1065.6 1071.2L1065.9 1063.2L1066.1 1062.5L1066.4 1062.4L1066.7 1090.1L1067.0 1068.9L1067.3 1070.3L1067.6 1064.5L1067.9 1062.7L1068.1 1055.3L1068.4 1078.3L1068.7 1052.8L1069.0 1068.0L1069.3 1065.3L1069.6 1063.3L1069.9 1053.4L1070.1 1055.7L1070.4 1071.7L1070.7 1059.4L1071.0 1070.3L1071.3 1068.6L1071.6 1070.0L1071.9 1068.6L1072.1 1055.0L1072.4 1059.5L1072.7 1066.8L1073.0 1053.2L1073.3 1072.7L1073.6 1057.0L1073.9 1060.0L1074.1 1052.9L1074.4 1062.0L1074.7 1054.0L1075.0 1056.9L1075.3 1045.5L1075.6 1066.0L1075.9 1045.9L1076.1 1061.8L1076.4 1058.0L1076.7 1058.9L1077.0 1048.2L1077.3 1062.2L1077.6 1061.3L1077.9 1055.2L1078.1 1055.8L1078.4 1052.0L1078.7 1057.3L1079.0 1046.4L1079.3 1055.7L1079.6 1054.2L1079.9 1040.7L1080.1 1031.5L1080.4 1049.1L1080.7 1048.3L1081.0 1057.9L1081.3 1048.5L1081.6 1043.2L1081.9 1036.0L1082.1 1043.5L1082.4 1038.9L1082.7 1029.9L1083.0 1039.4L1083.3 1049.5L1083.6 1038.1L1083.9 1029.9L1084.1 1036.8L1084.4 1027.2L1084.7 1023.4L1085.0 1033.7L1085.3 1026.7L1085.6 1034.2L1085.9 1028.6L1086.1 1019.2L1086.4 1025.5L1086.7 1029.2L1087.0 1020.9L1087.3 1015.7L1087.6 1016.2L1087.9 1015.9L1088.1 1014.3L1088.4 1013.9L1088.7 1025.9L1089.0 1032.3L1089.3 1022.1L1089.6 1033.0L1089.9 1035.6L1090.1 1055.2L1090.4 1027.1L1090.7 1026.2L1091.0 1036.2L1091.3 1033.4L1091.6 1039.6L1091.9 1052.2L1092.1 1029.1L1092.4 1039.6L1092.7 1021.8L1093.0 1012.6L1093.3 1028.1L1093.6 1027.7L1093.9 1034.7L1094.1 1034.0L1094.4 1046.1L1094.7 1052.1L1095.0 1023.0L1095.3 1054.5L1095.6 1017.4L1095.9 1046.1L1096.1 1051.1L1096.4 1038.1L1096.7 1042.7L1097.0 1038.7L1097.3 1052.8L1097.6 1024.5L1097.9 1036.4L1098.1 1029.0L1098.4 1048.8L1098.7 1058.4L1099.0 1053.8L1099.3 1051.6L1099.6 1050.4L1099.9 1047.1L1100.1 1054.3L1100.4 1052.6L1100.7 1050.5L1101.0 1049.8L1101.3 1052.6L1101.6 1060.6L1101.9 1063.2L1102.1 1072.4L1102.4 1054.8L1102.7 1058.2L1103.0 1071.8L1103.3 1064.6L1103.6 1070.5L1103.9 1053.2L1104.1 1062.8L1104.4 1067.3L1104.7 1062.5L1105.0 1065.0L1105.3 1051.2L1105.6 1092.7L1105.9 1075.2L1106.1 1054.2L1106.4 1089.5L1106.7 1075.1L1107.0 1083.9L1107.3 1071.0L1107.6 1062.6L1107.9 1062.7L1108.1 1077.6L1108.4 1089.7L1108.7 1079.0L1109.0 1080.8L1109.3 1088.1L1109.6 1075.4L1109.9 1093.1L1110.1 1085.9L1110.4 1077.2L1110.7 1069.5L1111.0 1061.2L1111.3 1054.0L1111.6 1049.1L1111.9 1086.8L1112.1 1069.0L1112.4 1061.7L1112.7 1089.3L1113.0 1081.1L1113.3 1068.9L1113.6 1089.2L1113.9 1066.7L1114.1 1073.9L1114.4 1090.9L1114.7 1082.4L1115.0 1068.6L1115.3 1079.0L1115.6 1083.9L1115.9 1072.2L1116.1 1070.3L1116.4 1089.7L1116.7 1072.8L1117.0 1066.2L1117.3 1077.3L1117.6 1095.3L1117.9 1081.2L1118.1 1083.3L1118.4 1063.6L1118.7 1076.9L1119.0 1087.9L1119.3 1079.2L1119.6 1085.2L1119.9 1083.0L1120.1 1083.1L1120.4 1085.7L1120.7 1082.1L1121.0 1081.9L1121.3 1083.1L1121.6 1083.3L1121.9 1078.0L1122.1 1086.4L1122.4 1083.4L1122.7 1081.9L1123.0 1084.9L1123.3 1080.8L1123.6 1091.2L1123.9 1082.6L1124.1 1088.3L1124.4 1077.6L1124.7 1080.6L1125.0 1085.9L1125.3 1076.4L1125.6 1077.9L1125.9 1081.5L1126.1 1089.3L1126.4 1087.0L1126.7 1088.2L1127.0 1083.9L1127.3 1088.5L1127.6 1093.8L1127.9 1082.7L1128.1 1084.7L1128.4 1085.7L1128.7 1064.1L1129.0 1079.6L1129.3 1083.7L1129.6 1086.3L1129.9 1077.0L1130.1 1087.8L1130.4 1073.8L1130.7 1077.6L1131.0 1093.3L1131.3 1060.5L1131.6 1077.7L1131.9 1076.7L1132.1 1077.1L1132.4 1073.0L1132.7 1083.2L1133.0 1062.5L1133.3 1065.1L1133.6 1081.0L1133.9 1065.7L1134.1 1079.7L1134.4 1076.2L1134.7 1069.5L1135.0 1072.7L1135.3 1075.6L1135.6 1081.5L1135.9 1071.8L1136.1 1075.8L1136.4 1065.1L1136.7 1077.2L1137.0 1061.0L1137.3 1080.8L1137.6 1077.2L1137.9 1104.8L1138.1 1105.8L1138.4 1082.3L1138.7 1095.1L1139.0 1088.5L1139.3 1073.0L1139.6 1058.9L1139.9 1100.2L1140.1 1092.5L1140.4 1065.5L1140.7 1097.0L1141.0 1101.1L1141.3 1082.3L1141.6 1101.2L1141.9 1070.4L1142.1 1089.2L1142.4 1091.6L1142.7 1099.8L1143.0 1094.3L1143.3 1091.4L1143.6 1094.3L1143.9 1080.2L1144.1 1102.3L1144.4 1082.3L1144.7 1098.0L1145.0 1084.2L1145.3 1081.1L1145.6 1088.2L1145.9 1086.0L1146.1 1093.0L1146.4 1089.6L1146.7 1075.0L1147.0 1082.9L1147.3 1079.5L1147.6 1071.5L1147.9 1068.7L1148.1 1077.6L1148.4 1071.6L1148.7 1065.5L1149.0 1073.0L1149.3 1075.1L1149.6 1073.2L1149.9 1065.5L1150.1 1068.8L1150.4 1079.2L1150.7 1067.4L1151.0 1069.4L1151.3 1085.9L1151.6 1072.3L1151.9 1067.8L1152.1 1060.8L1152.4 1071.0L1152.7 1063.1L1153.0 1068.9L1153.3 1065.0L1153.6 1061.5L1153.9 1074.7L1154.1 1067.4L1154.4 1071.0L1154.7 1069.9L1155.0 1064.3L1155.3 1066.9L1155.6 1065.1L1155.9 1069.1L1156.1 1067.0L1156.4 1064.3L1156.7 1070.9L1157.0 1066.9L1157.3 1066.6L1157.6 1060.9L1157.9 1066.1L1158.1 1051.7L1158.4 1066.1L1158.7 1057.9L1159.0 1064.2L1159.3 1061.0L1159.6 1065.1L1159.9 1064.9L1160.1 1061.6L1160.4 1061.3L1160.7 1042.0L1161.0 1045.0L1161.3 1078.9L1161.6 1066.0L1161.9 1046.3L1162.1 1079.1L1162.4 1048.3L1162.7 1065.1L1163.0 1064.1L1163.3 1060.4L1163.6 1065.8L1163.9 1042.9L1164.1 1057.1L1164.4 1054.4L1164.7 1057.5L1165.0 1053.2L1165.3 1049.0L1165.6 1043.4L1165.9 1062.8L1166.1 1045.8L1166.4 1056.5L1166.7 1055.7L1167.0 1051.2L1167.3 1055.0L1167.6 1055.3L1167.9 1046.0L1168.1 1052.3L1168.4 1071.7L1168.7 1040.8L1169.0 1045.9L1169.3 1042.2L1169.6 1059.9L1169.9 1037.4L1170.1 1045.8L1170.4 1050.6L1170.7 1039.8L1171.0 1044.2L1171.3 1040.8L1171.6 1036.9L1171.9 1044.9L1172.1 1048.6L1172.4 1042.9L1172.7 1046.8L1173.0 1050.5L1173.3 1054.2L1173.6 1037.3L1173.9 1050.6L1174.1 1038.9L1174.4 1032.2L1174.7 1040.6L1175.0 1054.6L1175.3 1049.2L1175.6 1038.1L1175.9 1060.1L1176.1 1052.4L1176.4 1046.6L1176.7 1042.7L1177.0 1051.1L1177.3 1044.2L1177.6 1057.8L1177.9 1050.7L1178.1 1053.7L1178.4 1045.3L1178.7 1034.2L1179.0 1053.6L1179.3 1038.7L1179.6 1047.7L1179.9 1048.8L1180.1 1041.0L1180.4 1058.6L1180.7 1034.2L1181.0 1065.8L1181.3 1043.3L1181.6 1060.7L1181.9 1064.7L1182.1 1040.3L1182.4 1041.8L1182.7 1061.7L1183.0 1053.0L1183.3 1051.9L1183.6 1028.5L1183.9 1030.7L1184.1 1058.1L1184.4 1069.9L1184.7 1042.5L1185.0 1040.5L1185.3 1056.4L1185.6 1062.1L1185.9 1060.0L1186.1 1046.4L1186.4 1025.6L1186.7 1028.7L1187.0 1045.9L1187.3 1068.7L1187.6 1027.2L1187.9 1056.4L1188.1 1045.9L1188.4 1032.4L1188.7 1061.4L1189.0 1071.6L1189.3 1045.2L1189.6 1056.4L1189.9 1041.3L1190.1 1045.2L1190.4 1048.1L1190.7 1045.8L1191.0 1053.6L1191.3 1037.8L1191.6 1054.2L1191.9 1053.5L1192.1 1047.7L1192.4 1043.7L1192.7 1038.3L1193.0 1050.2L1193.3 1047.3L1193.6 1052.7L1193.9 1042.7L1194.1 1053.0L1194.4 1053.2L1194.7 1054.3L1195.0 1057.8L1195.3 1057.4L1195.6 1062.8L1195.9 1051.1L1196.1 1062.6L1196.4 1059.1L1196.7 1055.3L1197.0 1051.2L1197.3 1071.7L1197.6 1062.4L1197.9 1056.6L1198.1 1062.3L1198.4 1062.3L1198.7 1058.1L1199.0 1050.5L1199.3 1065.6L1199.6 1062.5L1199.9 1061.3L1200.1 1078.2L1200.4 1045.0L1200.7 1055.3L1201.0 1065.0L1201.3 1070.5L1201.6 1068.5L1201.9 1069.2L1202.1 1045.7L1202.4 1067.0L1202.7 1066.2L1203.0 1068.1L1203.3 1057.8L1203.6 1066.4L1203.9 1069.7L1204.1 1074.6L1204.4 1066.5L1204.7 1056.1L1205.0 1067.7L1205.3 1073.7L1205.6 1074.2L1205.9 1087.3L1206.1 1071.0L1206.4 1065.1L1206.7 1069.6L1207.0 1082.7L1207.3 1070.5L1207.6 1069.3L1207.9 1072.5L1208.1 1094.2L1208.4 1085.8L1208.7 1081.2L1209.0 1094.1L1209.3 1092.6L1209.6 1076.6L1209.9 1094.2L1210.1 1089.0L1210.4 1069.3L1210.7 1077.6L1211.0 1090.0L1211.3 1092.0L1211.6 1086.5L1211.9 1081.9L1212.1 1091.0L1212.4 1078.0L1212.7 1093.4L1213.0 1089.5L1213.3 1090.6L1213.6 1087.8L1213.9 1095.4L1214.1 1081.6L1214.4 1088.7L1214.7 1094.7L1215.0 1090.6L1215.3 1099.6L1215.6 1096.5L1215.9 1092.6L1216.1 1100.9L1216.4 1096.8L1216.7 1100.5L1217.0 1096.2L1217.3 1097.0L1217.6 1103.7L1217.9 1101.7L1218.1 1098.5L1218.4 1098.6L1218.7 1106.9L1219.0 1113.3L1219.3 1101.0L1219.6 1109.6L1219.9 1091.5L1220.1 1100.2L1220.4 1112.2L1220.7 1118.1L1221.0 1109.3L1221.3 1112.0L1221.6 1110.0L1221.9 1115.0L1222.1 1099.9L1222.4 1112.3L1222.7 1103.7L1223.0 1104.1L1223.3 1106.5L1223.6 1104.4L1223.9 1094.8L1224.1 1103.2L1224.4 1090.6L1224.7 1120.3L1225.0 1112.2L1225.3 1099.9L1225.6 1122.1L1225.9 1118.8L1226.1 1109.4L1226.4 1096.7L1226.7 1106.2L1227.0 1110.1L1227.3 1120.9L1227.6 1099.6L1227.9 1093.9L1228.1 1133.8L1228.4 1133.1L1228.7 1110.7L1229.0 1092.8L1229.3 1115.1L1229.6 1119.2L1229.9 1115.3L1230.1 1116.5L1230.4 1108.5L1230.7 1128.2L1231.0 1103.3L1231.3 1105.8L1231.6 1103.5L1231.9 1105.6L1232.1 1129.3L1232.4 1098.7L1232.7 1115.5L1233.0 1106.7L1233.3 1100.7L1233.6 1116.4L1233.9 1106.1L1234.1 1116.6L1234.4 1131.4L1234.7 1117.9L1235.0 1121.6L1235.3 1114.5L1235.6 1121.1L1235.9 1110.6L1236.1 1119.0L1236.4 1117.1L1236.7 1128.5L1237.0 1116.6L1237.3 1114.9L1237.6 1113.6L1237.9 1110.1L1238.1 1119.8L1238.4 1122.9L1238.7 1113.4L1239.0 1118.5L1239.3 1112.9L1239.6 1116.4L1239.9 1116.3L1240.1 1106.6L1240.4 1109.6L1240.7 1117.8L1241.0 1103.4L1241.3 1112.6L1241.6 1110.5L1241.9 1107.4L1242.1 1142.9L1242.4 1113.3L1242.7 1114.6L1243.0 1099.3L1243.3 1120.7L1243.6 1110.4L1243.9 1118.0L1244.1 1112.3L1244.4 1110.6L1244.7 1113.4L1245.0 1128.5L1245.3 1121.8L1245.6 1112.7L1245.9 1115.7L1246.1 1120.3L1246.4 1117.9L1246.7 1115.8L1247.0 1114.7L1247.3 1110.6L1247.6 1119.7L1247.9 1121.6L1248.1 1127.3L1248.4 1114.2L1248.7 1122.1L1249.0 1117.1L1249.3 1123.6L1249.6 1116.7L1249.9 1113.7L1250.1 1108.0L1250.4 1120.0L1250.7 1116.8L1251.0 1121.7L1251.3 1112.3L1251.6 1131.7L1251.9 1110.6L1252.1 1117.3L1252.4 1116.4L1252.7 1120.3L1253.0 1111.7L1253.3 1107.4L1253.6 1106.5L1253.9 1117.6L1254.1 1112.7L1254.4 1114.0L1254.7 1106.0L1255.0 1112.0L1255.3 1112.2L1255.6 1114.7L1255.9 1099.8L1256.1 1104.3L1256.4 1129.5L1256.7 1106.2L1257.0 1107.8L1257.3 1105.5L1257.6 1096.7L1257.9 1099.7L1258.1 1110.8L1258.4 1102.7L1258.7 1123.5L1259.0 1096.3L1259.3 1092.8L1259.6 1104.7L1259.9 1098.4L1260.1 1118.3L1260.4 1104.3L1260.7 1111.5L1261.0 1096.6L1261.3 1112.6L1261.6 1112.3L1261.9 1116.9L1262.1 1109.0L1262.4 1111.3L1262.7 1108.5L1263.0 1118.6L1263.3 1103.9L1263.6 1111.3L1263.9 1100.0L1264.1 1112.5L1264.4 1104.8L1264.7 1101.9L1265.0 1101.6L1265.3 1118.2L1265.6 1094.7L1265.9 1095.3L1266.1 1111.7L1266.4 1099.1L1266.7 1103.2L1267.0 1103.1L1267.3 1124.3L1267.6 1101.8L1267.9 1101.5L1268.1 1102.3L1268.4 1108.8L1268.7 1110.9L1269.0 1096.1L1269.3 1110.5L1269.6 1121.8L1269.9 1094.0L1270.1 1111.6L1270.4 1113.0L1270.7 1108.5L1271.0 1105.1L1271.3 1090.3L1271.6 1121.5L1271.9 1105.2L1272.1 1105.2L1272.4 1116.5L1272.7 1090.9L1273.0 1107.2L1273.3 1112.0L1273.6 1112.9L1273.9 1112.1L1274.1 1122.3L1274.4 1109.9L1274.7 1119.4L1275.0 1113.4L1275.3 1097.7L1275.6 1102.7L1275.9 1122.3L1276.1 1106.1L1276.4 1107.4L1276.7 1099.0L1277.0 1105.5L1277.3 1099.1L1277.6 1103.7L1277.9 1113.2L1278.1 1099.0L1278.4 1103.5L1278.7 1115.6L1279.0 1110.1L1279.3 1110.3L1279.6 1113.0L1279.9 1103.8L1280.1 1104.7L1280.4 1089.6L1280.7 1111.0L1281.0 1105.6L1281.3 1106.6L1281.6 1100.6L1281.9 1109.9L1282.1 1109.8L1282.4 1107.3L1282.7 1098.0L1283.0 1099.3L1283.3 1106.0L1283.6 1101.9L1283.9 1107.9L1284.1 1110.8L1284.4 1102.3L1284.7 1104.9L1285.0 1102.5L1285.3 1113.6L1285.6 1110.2L1285.9 1119.4L1286.1 1106.0L1286.4 1100.9L1286.7 1108.4L1287.0 1104.8L1287.3 1107.4L1287.6 1118.6L1287.9 1104.6L1288.1 1111.2L1288.4 1092.4L1288.7 1113.9L1289.0 1107.6L1289.3 1105.0L1289.6 1103.1L1289.9 1117.6L1290.1 1100.7L1290.4 1117.1L1290.7 1103.0L1291.0 1107.6L1291.3 1110.3L1291.6 1124.8L1291.9 1109.6L1292.1 1109.7L1292.4 1107.0L1292.7 1104.9L1293.0 1102.0L1293.3 1125.4L1293.6 1122.3L1293.9 1101.5L1294.1 1109.9L1294.4 1097.4L1294.7 1117.6L1295.0 1119.2L1295.3 1110.2L1295.6 1102.1L1295.9 1116.4L1296.1 1118.6L1296.4 1108.4L1296.7 1116.5L1297.0 1098.9L1297.3 1105.5L1297.6 1102.9L1297.9 1112.5L1298.1 1124.6L1298.4 1111.7L1298.7 1120.5L1299.0 1111.5L1299.3 1108.8L1299.6 1124.4L1299.9 1116.3L1300.1 1122.9L1300.4 1119.7L1300.7 1107.1L1301.0 1092.0L1301.3 1114.2L1301.6 1105.5L1301.9 1104.3L1302.1 1104.1L1302.4 1109.9L1302.7 1113.0L1303.0 1114.5L1303.3 1126.5L1303.6 1105.4L1303.9 1112.2L1304.1 1103.8L1304.4 1100.9L1304.7 1110.5L1305.0 1112.0L1305.3 1100.6L1305.6 1115.0L1305.9 1097.9L1306.1 1112.4L1306.4 1105.4L1306.7 1110.6L1307.0 1107.8L1307.3 1101.7L1307.6 1105.8L1307.9 1093.7L1308.1 1093.2L1308.4 1098.4L1308.7 1108.4L1309.0 1094.5L1309.3 1092.4L1309.6 1108.1L1309.9 1097.4L1310.1 1096.2L1310.4 1088.9L1310.7 1095.1L1311.0 1097.7L1311.3 1093.0L1311.6 1101.2L1311.9 1096.3L1312.1 1101.9L1312.4 1101.3L1312.7 1095.1L1313.0 1103.3L1313.3 1111.4L1313.6 1100.5L1313.9 1088.8L1314.1 1102.0L1314.4 1098.4L1314.7 1127.2L1315.0 1108.3L1315.3 1091.9L1315.6 1101.0L1315.9 1117.7L1316.1 1092.6L1316.4 1099.8L1316.7 1105.5L1317.0 1104.6L1317.3 1100.4L1317.6 1108.9L1317.9 1082.7L1318.1 1102.1L1318.4 1102.4L1318.7 1106.0L1319.0 1106.0L1319.3 1109.4L1319.6 1105.4L1319.9 1104.6L1320.1 1113.3L1320.4 1119.1L1320.7 1119.6L1321.0 1096.6L1321.3 1113.1L1321.6 1116.9L1321.9 1106.1L1322.1 1113.7L1322.4 1106.5L1322.7 1112.6L1323.0 1093.3L1323.3 1113.2L1323.6 1100.9L1323.9 1101.4L1324.1 1105.6L1324.4 1117.9L1324.7 1117.3L1325.0 1110.7L1325.3 1116.3L1325.6 1104.5L1325.9 1097.0L1326.1 1091.5L1326.4 1107.8L1326.7 1106.8L1327.0 1108.3L1327.3 1108.5L1327.6 1118.1L1327.9 1100.2L1328.1 1101.5L1328.4 1123.1L1328.7 1113.8L1329.0 1105.4L1329.3 1092.3L1329.6 1101.4L1329.9 1103.3L1330.1 1107.0L1330.4 1108.9L1330.7 1106.0L1331.0 1119.5L1331.3 1099.8L1331.6 1105.6L1331.9 1103.2L1332.1 1112.0L1332.4 1108.9L1332.7 1111.8L1333.0 1107.7L1333.3 1123.5L1333.6 1111.0L1333.9 1103.4L1334.1 1107.2L1334.4 1104.0L1334.7 1112.6L1335.0 1111.4L1335.3 1108.7L1335.6 1105.8L1335.9 1104.4L1336.1 1116.7L1336.4 1111.1L1336.7 1096.8L1337.0 1107.3L1337.3 1104.3L1337.6 1105.8L1337.9 1114.0L1338.1 1104.5L1338.4 1105.4L1338.7 1124.5L1339.0 1108.1L1339.3 1112.3L1339.6 1123.1L1339.9 1112.2L1340.1 1116.7L1340.4 1119.6L1340.7 1127.6L1341.0 1104.7L1341.3 1110.9L1341.6 1116.4L1341.9 1124.3L1342.1 1112.9L1342.4 1121.2L1342.7 1114.2L1343.0 1115.3L1343.3 1133.1L1343.6 1116.8L1343.9 1140.2L1344.1 1121.4L1344.4 1126.9L1344.7 1124.4L1345.0 1108.4L1345.3 1102.3L1345.6 1123.0L1345.9 1112.2L1346.1 1116.2L1346.4 1117.8L1346.7 1114.1L1347.0 1128.4L1347.3 1125.8L1347.6 1122.6L1347.9 1126.8L1348.1 1115.1L1348.4 1126.9L1348.7 1115.9L1349.0 1131.6L1349.3 1117.4L1349.6 1116.2L1349.9 1129.5L1350.1 1126.9L1350.4 1117.4L1350.7 1127.9L1351.0 1124.7L1351.3 1125.5L1351.6 1129.9L1351.9 1130.6L1352.1 1133.8L1352.4 1131.0L1352.7 1131.9L1353.0 1128.5L1353.3 1139.5L1353.6 1122.4L1353.9 1143.6L1354.1 1146.0L1354.4 1146.6L1354.7 1131.6L1355.0 1153.4L1355.3 1141.9L1355.6 1142.1L1355.9 1155.4L1356.1 1138.4L1356.4 1140.7L1356.7 1129.2L1357.0 1123.4L1357.3 1140.8L1357.6 1142.4L1357.9 1144.9L1358.1 1142.8L1358.4 1128.0L1358.7 1144.6L1359.0 1150.3L1359.3 1154.0L1359.6 1133.7L1359.9 1138.4L1360.1 1140.1L1360.4 1140.8L1360.7 1134.9L1361.0 1141.2L1361.3 1155.4L1361.6 1139.7L1361.9 1135.4L1362.1 1145.0L1362.4 1144.0L1362.7 1150.8L1363.0 1143.4L1363.3 1146.7L1363.6 1143.6L1363.9 1143.3L1364.1 1150.2L1364.4 1149.3L1364.7 1148.7L1365.0 1151.5L1365.3 1146.0L1365.6 1149.8L1365.9 1150.9L1366.1 1157.7L1366.4 1143.5L1366.7 1149.6L1367.0 1152.7L1367.3 1149.4L1367.6 1152.0L1367.9 1155.3L1368.1 1153.6L1368.4 1144.6L1368.7 1149.5L1369.0 1145.7L1369.3 1154.9L1369.6 1125.0L1369.9 1156.7L1370.1 1153.1L1370.4 1149.4L1370.7 1155.6L1371.0 1147.8L1371.3 1151.7L1371.6 1150.7L1371.9 1154.1L1372.1 1154.4L1372.4 1148.7L1372.7 1147.0L1373.0 1149.5L1373.3 1146.8L1373.6 1156.8L1373.9 1150.9L1374.1 1156.1L1374.4 1164.8L1374.7 1140.1L1375.0 1144.1L1375.3 1150.3L1375.6 1149.6L1375.9 1144.5L1376.1 1135.0L1376.4 1163.5L1376.7 1146.4L1377.0 1137.1L1377.3 1127.4L1377.6 1155.6L1377.9 1147.1L1378.1 1144.3L1378.4 1135.4L1378.7 1142.8L1379.0 1140.0L1379.3 1121.1L1379.6 1166.6L1379.9 1148.8L1380.1 1136.9L1380.4 1132.5L1380.7 1135.6L1381.0 1165.1L1381.3 1144.8L1381.6 1126.8L1381.9 1149.5L1382.1 1145.4L1382.4 1146.0L1382.7 1139.5L1383.0 1139.5L1383.3 1143.7L1383.6 1138.6L1383.9 1128.8L1384.1 1133.2L1384.4 1143.0L1384.7 1128.8L1385.0 1142.4L1385.3 1141.2L1385.6 1150.7L1385.9 1146.1L1386.1 1142.6L1386.4 1143.0L1386.7 1149.2L1387.0 1153.4L1387.3 1138.2L1387.6 1135.3L1387.9 1141.6L1388.1 1130.9L1388.4 1142.3L1388.7 1153.9L1389.0 1155.1L1389.3 1158.9L1389.6 1149.6L1389.9 1151.1L1390.1 1146.3L1390.4 1145.3L1390.7 1152.3L1391.0 1156.1L1391.3 1153.6L1391.6 1140.9L1391.9 1154.5L1392.1 1152.1L1392.4 1149.0L1392.7 1152.9L1393.0 1157.0L1393.3 1153.0L1393.6 1148.4L1393.9 1168.7L1394.1 1148.9L1394.4 1155.0L1394.7 1159.6L1395.0 1147.6L1395.3 1155.7L1395.6 1147.6L1395.9 1151.1L1396.1 1148.2L1396.4 1163.3L1396.7 1144.5L1397.0 1156.0L1397.3 1153.1L1397.6 1140.6L1397.9 1163.8L1398.1 1149.4L1398.4 1151.4L1398.7 1154.5L1399.0 1147.2L1399.3 1145.0L1399.6 1153.0L1399.9 1147.4L1400.1 1154.3L1400.4 1161.9L1400.7 1146.5L1401.0 1142.6L1401.3 1152.6L1401.6 1157.9L1401.9 1158.3L1402.1 1145.8L1402.4 1136.8L1402.7 1160.0L1403.0 1158.9L1403.3 1164.8L1403.6 1146.7L1403.9 1158.0L1404.1 1161.4L1404.4 1140.1L1404.7 1161.7L1405.0 1164.3L1405.3 1157.8L1405.6 1157.4L1405.9 1158.8L1406.1 1151.2L1406.4 1142.3L1406.7 1146.0L1407.0 1151.4L1407.3 1146.3L1407.6 1160.1L1407.9 1149.3L1408.1 1151.4L1408.4 1139.0L1408.7 1154.9L1409.0 1146.6L1409.3 1162.8L1409.6 1138.9L1409.9 1153.8L1410.1 1148.3L1410.4 1148.5L1410.7 1163.5L1411.0 1157.9L1411.3 1144.6L1411.6 1166.9L1411.9 1145.8L1412.1 1156.2L1412.4 1137.6L1412.7 1147.8L1413.0 1147.9L1413.3 1147.5L1413.6 1138.2L1413.9 1135.9L1414.1 1149.4L1414.4 1156.3L1414.7 1149.5L1415.0 1146.7L1415.3 1138.1L1415.6 1146.9L1415.9 1144.7L1416.1 1143.4L1416.4 1149.8L1416.7 1149.6L1417.0 1151.1L1417.3 1146.3L1417.6 1138.3L1417.9 1145.5L1418.1 1145.5L1418.4 1135.8L1418.7 1145.0L1419.0 1128.3L1419.3 1133.1L1419.6 1141.3L1419.9 1142.6L1420.1 1152.7L1420.4 1145.1L1420.7 1151.8L1421.0 1159.3L1421.3 1148.7L1421.6 1151.0L1421.9 1142.0L1422.1 1155.0L1422.4 1148.5L1422.7 1148.6L1423.0 1137.9L1423.3 1139.6L1423.6 1142.0L1423.9 1149.3L1424.1 1158.9L1424.4 1133.7L1424.7 1144.9L1425.0 1143.4L1425.3 1171.9L1425.6 1146.6L1425.9 1143.1L1426.1 1156.8L1426.4 1137.0L1426.7 1154.9L1427.0 1130.5L1427.3 1171.8L1427.6 1148.6L1427.9 1144.3L1428.1 1134.0L1428.4 1146.3L1428.7 1150.4L1429.0 1140.7L1429.3 1164.1L1429.6 1142.9L1429.9 1150.9L1430.1 1153.4L1430.4 1167.2L1430.7 1145.0L1431.0 1150.9L1431.3 1156.1L1431.6 1158.3L1431.9 1125.9L1432.1 1165.1L1432.4 1148.5L1432.7 1140.9L1433.0 1149.6L1433.3 1126.5L1433.6 1140.7L1433.9 1152.1L1434.1 1165.7L1434.4 1148.9L1434.7 1154.3L1435.0 1146.5L1435.3 1159.1L1435.6 1145.4L1435.9 1154.5L1436.1 1146.2L1436.4 1139.8L1436.7 1139.7L1437.0 1143.3L1437.3 1167.1L1437.6 1177.6L1437.9 1147.6L1438.1 1142.8L1438.4 1154.0L1438.7 1153.5L1439.0 1144.8L1439.3 1165.0L1439.6 1156.2L1439.9 1156.5L1440.1 1149.6L1440.4 1150.1L1440.7 1156.1L1441.0 1139.3L1441.3 1143.5L1441.6 1149.6L1441.9 1139.6L1442.1 1160.2L1442.4 1145.6L1442.7 1147.1L1443.0 1152.1L1443.3 1159.6L1443.6 1150.2L1443.9 1146.0L1444.1 1145.2L1444.4 1152.4L1444.7 1147.8L1445.0 1165.2L1445.3 1158.8L1445.6 1134.8L1445.9 1146.8L1446.1 1154.2L1446.4 1165.0L1446.7 1141.8L1447.0 1150.5L1447.3 1159.3L1447.6 1149.6L1447.9 1153.8L1448.1 1151.1L1448.4 1157.1L1448.7 1148.7L1449.0 1154.3L1449.3 1147.5L1449.6 1159.1L1449.9 1157.6L1450.1 1154.8L1450.4 1155.4L1450.7 1155.5L1451.0 1154.0L1451.3 1156.4L1451.6 1157.5L1451.9 1155.9L1452.1 1154.0L1452.4 1155.0L1452.7 1155.0L1453.0 1158.7L1453.3 1157.7L1453.6 1164.6L1453.9 1157.0L1454.1 1157.9L1454.4 1155.3L1454.7 1158.1L1455.0 1155.9L1455.3 1154.2L1455.6 1158.5L1455.9 1169.1L1456.1 1153.9L1456.4 1154.8L1456.7 1157.7L1457.0 1159.2L1457.3 1164.5L1457.6 1152.6L1457.9 1157.3L1458.1 1153.7L1458.4 1153.2L1458.7 1155.4L1459.0 1151.6L1459.3 1160.8L1459.6 1164.5L1459.9 1153.0L1460.1 1153.7L1460.4 1171.8L1460.7 1156.8L1461.0 1168.2L1461.3 1138.5L1461.6 1157.1L1461.9 1151.1L1462.1 1154.5L1462.4 1164.2L1462.7 1166.4L1463.0 1157.1L1463.3 1165.6L1463.6 1149.6L1463.9 1160.6L1464.1 1157.2L1464.4 1144.5L1464.7 1166.0L1465.0 1152.9L1465.3 1162.3L1465.6 1151.9L1465.9 1160.2L1466.1 1164.2L1466.4 1158.7L1466.7 1154.6L1467.0 1164.2L1467.3 1160.8L1467.6 1155.5L1467.9 1159.6L1468.1 1158.6L1468.4 1156.5L1468.7 1167.0L1469.0 1173.9L1469.3 1155.4L1469.6 1158.7L1469.9 1152.2L1470.1 1149.3L1470.4 1168.9L1470.7 1154.8L1471.0 1162.8L1471.3 1149.8L1471.6 1155.4L1471.9 1163.9L1472.1 1164.0L1472.4 1162.3L1472.7 1163.6L1473.0 1162.3L1473.3 1167.9L1473.6 1172.9L1473.9 1164.9L1474.1 1160.3L1474.4 1154.1L1474.7 1157.9L1475.0 1159.1L1475.3 1170.9L1475.6 1145.2L1475.9 1156.4L1476.1 1151.0L1476.4 1167.1L1476.7 1157.4L1477.0 1150.5L1477.3 1149.4L1477.6 1163.8L1477.9 1152.3L1478.1 1168.6L1478.4 1168.4L1478.7 1155.7L1479.0 1160.2L1479.3 1162.2L1479.6 1153.1L1479.9 1154.5L1480.1 1158.0L1480.4 1161.6L1480.7 1163.4L1481.0 1150.0L1481.3 1163.1L1481.6 1160.8L1481.9 1159.8L1482.1 1158.4L1482.4 1167.9L1482.7 1171.4L1483.0 1158.2L1483.3 1160.0L1483.6 1150.4L1483.9 1156.5L1484.1 1165.6L1484.4 1160.2L1484.7 1163.3L1485.0 1160.0L1485.3 1161.4L1485.6 1165.4L1485.9 1166.0L1486.1 1146.6L1486.4 1159.0L1486.7 1139.4L1487.0 1160.6L1487.3 1156.4L1487.6 1156.0L1487.9 1172.0L1488.1 1163.0L1488.4 1168.8L1488.7 1165.0L1489.0 1173.1L1489.3 1158.2L1489.6 1158.1L1489.9 1159.3L1490.1 1179.3L1490.4 1156.4L1490.7 1160.0L1491.0 1170.9L1491.3 1171.7L1491.6 1155.9L1491.9 1174.0L1492.1 1163.9L1492.4 1171.8L1492.7 1165.0L1493.0 1166.5L1493.3 1154.1L1493.6 1171.8L1493.9 1154.5L1494.1 1160.9L1494.4 1169.3L1494.7 1157.6L1495.0 1161.4L1495.3 1160.6L1495.6 1161.8L1495.9 1165.5L1496.1 1148.2L1496.4 1156.3L1496.7 1177.9L1497.0 1144.5L1497.3 1155.5L1497.6 1167.5L1497.9 1136.3L1498.1 1153.8L1498.4 1154.3L1498.7 1174.2L1499.0 1149.4L1499.3 1166.4L1499.6 1155.9L1499.9 1161.3L1500.1 1151.7L1500.4 1148.9L1500.7 1157.4L1501.0 1149.8L1501.3 1160.0L1501.6 1162.5L1501.9 1165.0L1502.1 1174.6L1502.4 1173.7L1502.7 1146.6L1503.0 1155.3L1503.3 1176.2L1503.6 1161.5L1503.9 1159.0L1504.1 1171.5L1504.4 1157.7L1504.7 1170.8L1505.0 1161.0L1505.3 1174.2L1505.6 1162.9L1505.9 1170.8L1506.1 1172.9L1506.4 1177.4L1506.7 1159.1L1507.0 1162.6L1507.3 1155.1L1507.6 1153.3L1507.9 1162.7L1508.1 1167.9L1508.4 1176.0L1508.7 1164.3L1509.0 1181.1L1509.3 1169.1L1509.6 1174.3L1509.9 1165.6L1510.1 1160.2L1510.4 1179.6L1510.7 1167.4L1511.0 1176.9L1511.3 1167.5L1511.6 1174.0L1511.9 1169.5L1512.1 1168.6L1512.4 1170.2L1512.7 1175.5L1513.0 1164.4L1513.3 1166.2L1513.6 1178.0L1513.9 1168.3L1514.1 1173.9L1514.4 1165.6L1514.7 1172.2L1515.0 1179.7L1515.3 1174.5L1515.6 1175.4L1515.9 1172.5L1516.1 1175.1L1516.4 1164.9L1516.7 1165.5L1517.0 1176.8L1517.3 1164.5L1517.6 1181.9L1517.9 1179.3L1518.1 1167.4L1518.4 1156.8L1518.7 1159.9L1519.0 1176.2L1519.3 1173.8L1519.6 1182.7L1519.9 1177.3L1520.1 1184.2L1520.4 1179.9L1520.7 1168.2L1521.0 1173.1L1521.3 1168.7L1521.6 1172.1L1521.9 1170.7L1522.1 1172.6L1522.4 1183.6L1522.7 1170.3L1523.0 1165.8L1523.3 1169.7L1523.6 1170.7L1523.9 1169.9L1524.1 1172.9L1524.4 1168.9L1524.7 1182.4L1525.0 1181.0L1525.3 1164.7L1525.6 1181.7L1525.9 1184.9L1526.1 1174.1L1526.4 1163.4L1526.7 1177.6L1527.0 1173.5L1527.3 1176.8L1527.6 1165.4L1527.9 1191.4L1528.1 1172.5L1528.4 1178.6L1528.7 1169.5L1529.0 1175.7L1529.3 1156.3L1529.6 1164.4L1529.9 1155.6L1530.1 1187.0L1530.4 1164.5L1530.7 1163.5L1531.0 1188.5L1531.3 1171.8L1531.6 1174.3L1531.9 1187.7L1532.1 1179.1L1532.4 1178.0L1532.7 1180.3L1533.0 1163.1L1533.3 1184.6L1533.6 1184.8L1533.9 1188.1L1534.1 1157.6L1534.4 1171.3L1534.7 1173.3L1535.0 1187.0L1535.3 1182.3L1535.6 1187.2L1535.9 1179.7L1536.1 1173.7L1536.4 1166.0L1536.7 1172.6L1537.0 1184.9L1537.3 1173.2L1537.6 1168.7L1537.9 1180.2L1538.1 1188.7L1538.4 1189.7L1538.7 1184.0L1539.0 1182.7L1539.3 1165.6L1539.6 1176.8L1539.9 1177.0L1540.1 1179.2L1540.4 1175.0L1540.7 1182.0L1541.0 1187.2L1541.3 1179.2L1541.6 1177.4L1541.9 1179.4L1542.1 1180.3L1542.4 1184.4L1542.7 1172.1L1543.0 1185.2L1543.3 1178.5L1543.6 1177.5L1543.9 1181.7L1544.1 1174.7L1544.4 1182.7L1544.7 1189.2L1545.0 1180.4L1545.3 1179.1L1545.6 1175.4L1545.9 1186.1L1546.1 1184.2L1546.4 1169.3L1546.7 1183.4L1547.0 1171.6L1547.3 1170.8L1547.6 1177.2L1547.9 1173.6L1548.1 1184.6L1548.4 1169.7L1548.7 1169.4L1549.0 1171.4L1549.3 1176.4L1549.6 1181.1L1549.9 1170.1L1550.1 1172.4L1550.4 1166.7L1550.7 1175.8L1551.0 1170.1L1551.3 1192.0L1551.6 1190.4L1551.9 1170.3L1552.1 1177.8L1552.4 1179.8L1552.7 1172.8L1553.0 1174.0L1553.3 1181.7L1553.6 1175.3L1553.9 1175.4L1554.1 1177.5L1554.4 1186.6L1554.7 1175.3L1555.0 1181.1L1555.3 1180.3L1555.6 1186.6L1555.9 1177.9L1556.1 1176.2L1556.4 1175.2L1556.7 1181.4L1557.0 1181.0L1557.3 1178.8L1557.6 1182.0L1557.9 1195.5L1558.1 1185.9L1558.4 1170.2L1558.7 1189.4L1559.0 1182.7L1559.3 1176.1L1559.6 1194.7L1559.9 1182.1L1560.1 1192.0L1560.4 1177.5L1560.7 1189.1L1561.0 1181.0L1561.3 1192.0L1561.6 1188.3L1561.9 1178.1L1562.1 1186.4L1562.4 1187.1L1562.7 1184.6L1563.0 1176.2L1563.3 1186.8L1563.6 1184.1L1563.9 1191.6L1564.1 1181.0L1564.4 1191.0L1564.7 1187.2L1565.0 1198.4L1565.3 1182.5L1565.6 1191.7L1565.9 1185.2L1566.1 1183.5L1566.4 1193.2L1566.7 1191.3L1567.0 1193.7L1567.3 1181.3L1567.6 1180.1L1567.9 1192.4L1568.1 1185.7L1568.4 1196.6L1568.7 1198.6L1569.0 1190.1L1569.3 1191.1L1569.6 1191.4L1569.9 1190.1L1570.1 1191.6L1570.4 1190.9L1570.7 1194.6L1571.0 1190.9L1571.3 1188.6L1571.6 1191.6L1571.9 1190.2L1572.1 1193.3L1572.4 1197.0L1572.7 1205.5L1573.0 1185.7L1573.3 1187.3L1573.6 1194.8L1573.9 1195.6L1574.1 1195.5L1574.4 1206.6L1574.7 1185.9L1575.0 1195.7L1575.3 1189.5L1575.6 1195.4L1575.9 1200.4L1576.1 1189.2L1576.4 1204.0L1576.7 1190.2L1577.0 1192.3L1577.3 1183.0L1577.6 1194.8L1577.9 1194.7L1578.1 1204.0L1578.4 1189.6L1578.7 1200.1L1579.0 1203.7L1579.3 1197.1L1579.6 1203.0L1579.9 1194.4L1580.1 1200.7L1580.4 1196.3L1580.7 1210.4L1581.0 1196.4L1581.3 1195.2L1581.6 1200.0L1581.9 1194.7L1582.1 1196.5L1582.4 1199.3L1582.7 1202.1L1583.0 1194.0L1583.3 1197.5L1583.6 1196.1L1583.9 1200.6L1584.1 1201.2L1584.4 1198.8L1584.7 1198.0L1585.0 1205.8L1585.3 1191.9L1585.6 1204.7L1585.9 1198.9L1586.1 1188.3L1586.4 1197.0L1586.7 1188.8L1587.0 1194.8L1587.3 1180.8L1587.6 1201.3L1587.9 1191.6L1588.1 1203.3L1588.4 1191.7L1588.7 1195.4L1589.0 1188.6L1589.3 1194.3L1589.6 1195.0L1589.9 1197.1L1590.1 1206.1L1590.4 1207.5L1590.7 1199.3L1591.0 1194.5L1591.3 1195.1L1591.6 1195.5L1591.9 1193.2L1592.1 1201.2L1592.4 1198.1L1592.7 1201.5L1593.0 1198.0L1593.3 1201.7L1593.6 1209.4L1593.9 1202.5L1594.1 1209.1L1594.4 1194.5L1594.7 1201.3L1595.0 1200.5L1595.3 1205.8L1595.6 1205.2L1595.9 1200.2L1596.1 1206.4L1596.4 1205.6L1596.7 1196.5L1597.0 1205.7L1597.3 1213.3L1597.6 1201.6L1597.9 1213.8L1598.1 1212.0L1598.4 1209.3L1598.7 1211.4L1599.0 1201.3L1599.3 1215.7L1599.6 1199.8L1599.9 1201.4L1600.1 1211.2L1600.4 1201.1L1600.7 1219.6L1601.0 1209.4L1601.3 1212.6L1601.6 1212.7L1601.9 1204.4L1602.1 1206.7L1602.4 1209.1L1602.7 1206.1L1603.0 1221.2L1603.3 1211.8L1603.6 1208.0L1603.9 1212.8L1604.1 1205.5L1604.4 1209.4L1604.7 1205.6L1605.0 1202.9L1605.3 1198.9L1605.6 1200.3L1605.9 1204.9L1606.1 1207.2L1606.4 1192.1L1606.7 1202.4L1607.0 1208.4L1607.3 1204.1L1607.6 1194.9L1607.9 1199.1L1608.1 1215.4L1608.4 1195.8L1608.7 1203.5L1609.0 1210.5L1609.3 1193.6L1609.6 1209.8L1609.9 1196.4L1610.1 1212.1L1610.4 1223.8L1610.7 1198.5L1611.0 1205.8L1611.3 1208.6L1611.6 1203.0L1611.9 1209.9L1612.1 1202.3L1612.4 1203.3L1612.7 1201.8L1613.0 1206.6L1613.3 1210.0L1613.6 1213.2L1613.9 1206.6L1614.1 1200.7L1614.4 1204.5L1614.7 1204.4L1615.0 1205.2L1615.3 1211.4L1615.6 1207.0L1615.9 1209.1L1616.1 1208.4L1616.4 1207.6L1616.7 1205.3L1617.0 1212.9L1617.3 1207.9L1617.6 1207.8L1617.9 1201.5L1618.1 1204.2L1618.4 1205.0L1618.7 1212.5L1619.0 1197.8L1619.3 1213.7L1619.6 1209.9L1619.9 1204.7L1620.1 1203.9L1620.4 1212.7L1620.7 1210.8L1621.0 1196.6L1621.3 1204.9L1621.6 1203.4L1621.9 1208.7L1622.1 1205.2L1622.4 1212.3L1622.7 1205.9L1623.0 1207.5L1623.3 1217.4L1623.6 1206.9L1623.9 1204.2L1624.1 1209.5L1624.4 1200.8L1624.7 1198.9L1625.0 1209.0L1625.3 1205.4L1625.6 1199.9L1625.9 1215.2L1626.1 1213.6L1626.4 1210.6L1626.7 1205.6L1627.0 1207.8L1627.3 1205.3L1627.6 1214.7L1627.9 1199.6L1628.1 1210.8L1628.4 1209.2L1628.7 1201.6L1629.0 1213.1L1629.3 1206.8L1629.6 1221.3L1629.9 1216.8L1630.1 1208.6L1630.4 1206.5L1630.7 1204.5L1631.0 1204.2L1631.3 1211.1L1631.6 1199.5L1631.9 1215.4L1632.1 1213.6L1632.4 1208.1L1632.7 1213.9L1633.0 1224.2L1633.3 1210.9L1633.6 1220.4L1633.9 1207.0L1634.1 1204.9L1634.4 1215.6L1634.7 1196.1L1635.0 1215.3L1635.3 1208.9L1635.6 1205.7L1635.9 1209.6L1636.1 1209.8L1636.4 1217.4L1636.7 1214.8L1637.0 1210.5L1637.3 1207.8L1637.6 1203.0L1637.9 1210.7L1638.1 1192.2L1638.4 1219.8L1638.7 1209.5L1639.0 1191.8L1639.3 1213.4L1639.6 1203.7L1639.9 1206.6L1640.1 1197.8L1640.4 1204.8L1640.7 1210.9L1641.0 1209.4L1641.3 1211.9L1641.6 1205.1L1641.9 1213.8L1642.1 1194.3L1642.4 1206.4L1642.7 1192.5L1643.0 1208.2L1643.3 1206.6L1643.6 1209.0L1643.9 1214.2L1644.1 1219.2L1644.4 1202.6L1644.7 1208.9L1645.0 1197.5L1645.3 1222.9L1645.6 1219.4L1645.9 1213.8L1646.1 1218.9L1646.4 1216.6L1646.7 1206.7L1647.0 1215.8L1647.3 1218.9L1647.6 1216.5L1647.9 1210.6L1648.1 1208.6L1648.4 1227.2L1648.7 1213.2L1649.0 1215.1L1649.3 1202.1L1649.6 1216.1L1649.9 1213.2L1650.1 1202.4L1650.4 1225.5L1650.7 1211.7L1651.0 1216.0L1651.3 1214.7L1651.6 1206.9L1651.9 1213.4L1652.1 1220.6L1652.4 1204.1L1652.7 1204.6L1653.0 1205.4L1653.3 1216.1L1653.6 1208.2L1653.9 1213.1L1654.1 1218.6L1654.4 1203.8L1654.7 1220.6L1655.0 1211.2L1655.3 1209.9L1655.6 1220.8L1655.9 1213.8L1656.1 1202.4L1656.4 1210.4L1656.7 1205.9L1657.0 1212.4L1657.3 1207.7L1657.6 1208.5L1657.9 1220.2L1658.1 1199.9L1658.4 1212.3L1658.7 1209.0L1659.0 1212.4L1659.3 1195.6L1659.6 1204.4L1659.9 1206.2L1660.1 1220.4L1660.4 1202.5L1660.7 1199.1L1661.0 1208.9L1661.3 1212.0L1661.6 1206.3L1661.9 1210.5L1662.1 1200.0L1662.4 1220.1L1662.7 1207.8L1663.0 1210.6L1663.3 1226.0L1663.6 1206.3L1663.9 1202.3L1664.1 1203.7L1664.4 1219.5L1664.7 1207.7L1665.0 1202.1L1665.3 1209.2L1665.6 1209.1L1665.9 1215.3L1666.1 1213.7L1666.4 1211.7L1666.7 1212.3L1667.0 1202.1L1667.3 1202.3L1667.6 1211.9L1667.9 1212.6L1668.1 1210.6L1668.4 1211.3L1668.7 1213.3L1669.0 1203.2L1669.3 1207.8L1669.6 1204.9L1669.9 1199.3L1670.1 1212.8L1670.4 1208.6L1670.7 1212.1L1671.0 1213.4L1671.3 1204.9L1671.6 1223.2L1671.9 1211.6L1672.1 1215.5L1672.4 1219.3L1672.7 1207.5L1673.0 1206.7L1673.3 1211.1L1673.6 1216.1L1673.9 1216.3L1674.1 1199.6L1674.4 1217.9L1674.7 1207.9L1675.0 1212.9L1675.3 1203.3L1675.6 1202.9L1675.9 1212.3L1676.1 1201.0L1676.4 1214.6L1676.7 1207.6L1677.0 1211.9L1677.3 1211.2L1677.6 1207.7L1677.9 1217.3L1678.1 1225.9L1678.4 1213.8L1678.7 1201.9L1679.0 1211.2L1679.3 1208.8L1679.6 1215.3L1679.9 1211.0L1680.1 1225.7L1680.4 1214.2L1680.7 1213.7L1681.0 1208.1L1681.3 1206.5L1681.6 1210.5L1681.9 1212.0L1682.1 1213.4L1682.4 1212.1L1682.7 1209.8L1683.0 1211.5L1683.3 1209.0L1683.6 1206.5L1683.9 1204.6L1684.1 1215.4L1684.4 1215.1L1684.7 1210.5L1685.0 1211.0L1685.3 1214.4L1685.6 1211.1L1685.9 1226.6L1686.1 1212.5L1686.4 1209.3L1686.7 1203.0L1687.0 1213.1L1687.3 1217.1L1687.6 1211.9L1687.9 1218.3L1688.1 1209.3L1688.4 1211.8L1688.7 1211.4L1689.0 1208.7L1689.3 1200.8L1689.6 1207.8L1689.9 1197.8L1690.1 1218.6L1690.4 1211.9L1690.7 1212.2L1691.0 1210.0L1691.3 1217.6L1691.6 1208.7L1691.9 1221.3L1692.1 1218.4L1692.4 1209.6L1692.7 1212.2L1693.0 1216.3L1693.3 1219.4L1693.6 1209.4L1693.9 1210.9L1694.1 1225.8L1694.4 1218.0L1694.7 1218.0L1695.0 1223.1L1695.3 1215.9L1695.6 1211.5L1695.9 1205.2L1696.1 1218.1L1696.4 1208.2L1696.7 1217.1L1697.0 1204.0L1697.3 1211.4L1697.6 1213.7L1697.9 1207.6L1698.1 1211.0L1698.4 1209.6L1698.7 1214.4L1699.0 1203.8L1699.3 1212.4L1699.6 1224.5L1699.9 1220.6L1700.1 1223.0L1700.4 1215.7L1700.7 1210.4L1701.0 1215.3L1701.3 1217.1L1701.6 1215.8L1701.9 1220.8L1702.1 1210.3L1702.4 1212.6L1702.7 1206.1L1703.0 1210.2L1703.3 1219.7L1703.6 1213.8L1703.9 1219.4L1704.1 1215.6L1704.4 1218.3L1704.7 1209.4L1705.0 1216.1L1705.3 1216.8L1705.6 1219.2L1705.9 1220.4L1706.1 1211.0L1706.4 1206.4L1706.7 1210.3L1707.0 1220.0L1707.3 1208.5L1707.6 1206.6L1707.9 1206.9L1708.1 1207.0L1708.4 1219.1L1708.7 1207.3L1709.0 1210.3L1709.3 1219.0L1709.6 1220.7L1709.9 1220.3L1710.1 1209.6L1710.4 1204.9L1710.7 1215.1L1711.0 1222.0L1711.3 1211.6L1711.6 1212.0L1711.9 1198.5L1712.1 1227.3L1712.4 1212.5L1712.7 1204.9L1713.0 1213.2L1713.3 1210.7L1713.6 1216.9L1713.9 1224.6L1714.1 1207.3L1714.4 1214.7L1714.7 1212.0L1715.0 1210.6L1715.3 1216.4L1715.6 1221.9L1715.9 1216.4L1716.1 1212.0L1716.4 1216.9L1716.7 1216.2L1717.0 1218.5L1717.3 1211.5L1717.6 1215.1L1717.9 1223.0L1718.1 1214.6L1718.4 1219.6L1718.7 1214.6L1719.0 1215.0L1719.3 1210.8L1719.6 1229.6L1719.9 1224.8L1720.1 1221.0L1720.4 1221.0L1720.7 1209.6L1721.0 1211.0L1721.3 1214.1L1721.6 1206.2L1721.9 1210.4L1722.1 1219.6L1722.4 1203.9L1722.7 1210.5L1723.0 1214.8L1723.3 1214.9L1723.6 1215.3L1723.9 1211.4L1724.1 1220.4L1724.4 1202.9L1724.7 1217.9L1725.0 1207.5L1725.3 1211.8L1725.6 1215.4L1725.9 1224.6L1726.1 1210.9L1726.4 1203.3L1726.7 1221.3L1727.0 1215.3L1727.3 1216.1L1727.6 1219.2L1727.9 1221.7L1728.1 1217.1L1728.4 1204.7L1728.7 1215.2L1729.0 1216.5L1729.3 1210.0L1729.6 1210.8L1729.9 1220.0L1730.1 1217.9L1730.4 1208.6L1730.7 1219.8L1731.0 1217.5L1731.3 1209.6L1731.6 1214.4L1731.9 1209.6L1732.1 1212.1L1732.4 1218.6L1732.7 1206.1L1733.0 1210.1L1733.3 1219.2L1733.6 1211.5L1733.9 1214.8L1734.1 1215.8L1734.4 1215.8L1734.7 1219.5L1735.0 1215.0L1735.3 1213.1L1735.6 1214.9L1735.9 1224.1L1736.1 1222.8L1736.4 1217.3L1736.7 1224.6L1737.0 1221.7L1737.3 1211.8L1737.6 1226.4L1737.9 1233.7L1738.1 1220.0L1738.4 1208.8L1738.7 1226.5L1739.0 1221.5L1739.3 1217.5L1739.6 1206.7L1739.9 1217.6L1740.1 1216.6L1740.4 1215.5L1740.7 1216.0L1741.0 1223.9L1741.3 1216.1L1741.6 1220.9L1741.9 1207.6L1742.1 1212.8L1742.4 1218.3L1742.7 1210.2L1743.0 1218.5L1743.3 1218.0L1743.6 1220.0L1743.9 1216.3L1744.1 1221.8L1744.4 1210.4L1744.7 1215.8L1745.0 1226.8L1745.3 1215.7L1745.6 1226.8L1745.9 1220.0L1746.1 1216.6L1746.4 1218.4L1746.7 1227.0L1747.0 1216.1L1747.3 1211.5L1747.6 1220.6L1747.9 1224.3L1748.1 1222.6L1748.4 1209.0L1748.7 1219.9L1749.0 1218.0L1749.3 1216.2L1749.6 1214.9L1749.9 1220.2L1750.1 1217.1L1750.4 1217.2L1750.7 1228.8L1751.0 1217.7L1751.3 1210.7L1751.6 1212.0L1751.9 1212.9L1752.1 1208.0L1752.4 1223.4L1752.7 1227.7L1753.0 1213.5L1753.3 1222.2L1753.6 1210.2L1753.9 1213.1L1754.1 1207.0L1754.4 1216.6L1754.7 1223.9L1755.0 1224.0L1755.3 1219.8L1755.6 1215.3L1755.9 1223.6L1756.1 1226.6L1756.4 1212.3L1756.7 1218.2L1757.0 1216.4L1757.3 1213.1L1757.6 1210.1L1757.9 1212.1L1758.1 1217.5L1758.4 1219.2L1758.7 1217.7L1759.0 1224.2L1759.3 1213.1L1759.6 1209.9L1759.9 1210.4L1760.1 1219.3L1760.4 1214.1L1760.7 1207.8L1761.0 1222.3L1761.3 1225.0L1761.6 1218.2L1761.9 1220.8L1762.1 1209.4L1762.4 1209.4L1762.7 1218.2L1763.0 1218.5L1763.3 1216.3L1763.6 1215.8L1763.9 1211.8L1764.1 1225.5L1764.4 1212.7L1764.7 1216.8L1765.0 1223.3L1765.3 1211.9L1765.6 1218.9L1765.9 1217.0L1766.1 1221.1L1766.4 1201.1L1766.7 1216.1L1767.0 1213.4L1767.3 1223.8L1767.6 1217.5L1767.9 1214.7L1768.1 1225.6L1768.4 1221.4L1768.7 1223.5L1769.0 1223.9L1769.3 1222.2L1769.6 1214.9L1769.9 1219.6L1770.1 1219.7L1770.4 1220.0L1770.7 1219.9L1771.0 1218.6L1771.3 1215.9L1771.6 1217.8L1771.9 1212.9L1772.1 1213.4L1772.4 1222.3L1772.7 1216.6L1773.0 1219.2L1773.3 1215.5L1773.6 1209.6L1773.9 1216.4L1774.1 1227.4L1774.4 1218.1L1774.7 1215.0L1775.0 1222.5L1775.3 1216.1L1775.6 1215.5L1775.9 1210.3L1776.1 1209.5L1776.4 1221.3L1776.7 1219.8L1777.0 1219.3L1777.3 1222.9L1777.6 1216.6L1777.9 1219.4L1778.1 1214.5L1778.4 1214.6L1778.7 1215.2L1779.0 1224.7L1779.3 1223.4L1779.6 1213.9L1779.9 1217.8L1780.1 1220.3L1780.4 1215.2L1780.7 1223.4L1781.0 1215.4L1781.3 1217.9L1781.6 1218.0L1781.9 1203.4L1782.1 1210.2L1782.4 1215.1L1782.7 1226.6L1783.0 1223.3L1783.3 1222.6L1783.6 1216.6L1783.9 1217.6L1784.1 1220.5L1784.4 1221.8L1784.7 1211.8L1785.0 1216.4L1785.3 1216.1L1785.6 1227.8L1785.9 1215.6L1786.1 1216.0L1786.4 1225.2L1786.7 1218.2L1787.0 1225.9L1787.3 1215.2L1787.6 1237.4L1787.9 1219.7L1788.1 1221.2L1788.4 1219.1L1788.7 1220.1L1789.0 1220.4L1789.3 1218.4L1789.6 1227.0L1789.9 1207.8L1790.1 1213.4L1790.4 1218.0L1790.7 1219.3L1791.0 1227.8L1791.3 1222.9L1791.6 1219.9L1791.9 1215.5L1792.1 1230.4L1792.4 1224.4L1792.7 1233.4L1793.0 1211.6L1793.3 1228.8L1793.6 1219.0L1793.9 1212.2L1794.1 1220.1L1794.4 1220.0L1794.7 1217.7L1795.0 1211.7L1795.3 1217.4L1795.6 1212.5L1795.9 1219.6L1796.1 1212.0L1796.4 1220.2L1796.7 1216.9L1797.0 1224.0L1797.3 1214.9L1797.6 1207.6L1797.9 1211.6L1798.1 1220.1L1798.4 1234.2L1798.7 1211.6L1799.0 1215.4L1799.3 1231.1L1799.6 1221.8L1799.9 1224.9L1800.1 1219.9L1800.4 1220.8L1800.7 1218.5L1801.0 1212.6L1801.3 1219.2L1801.6 1213.2L1801.9 1221.2L1802.1 1204.6L1802.4 1208.0L1802.7 1217.0L1803.0 1218.9L1803.3 1227.5L1803.6 1214.6L1803.9 1221.7L1804.1 1210.2L1804.4 1233.5L1804.7 1206.8L1805.0 1226.2L1805.3 1217.5L1805.6 1210.9L1805.9 1216.8L1806.1 1223.5L1806.4 1219.0L1806.7 1215.9L1807.0 1220.6L1807.3 1219.9L1807.6 1224.1L1807.9 1223.2L1808.1 1216.6L1808.4 1217.1L1808.7 1220.7L1809.0 1220.0L1809.3 1221.9L1809.6 1216.6L1809.9 1221.5L1810.1 1217.8L1810.4 1223.6L1810.7 1222.5L1811.0 1220.5L1811.3 1215.4L1811.6 1226.3L1811.9 1218.6L1812.1 1220.2L1812.4 1221.9L1812.7 1223.9L1813.0 1220.4L1813.3 1220.6L1813.6 1217.4L1813.9 1226.7L1814.1 1221.2L1814.4 1220.0L1814.7 1215.7L1815.0 1221.2L1815.3 1226.6L1815.6 1227.4L1815.9 1220.1L1816.1 1224.1L1816.4 1227.2L1816.7 1216.1L1817.0 1223.0L1817.3 1226.7L1817.6 1230.1L1817.9 1219.3L1818.1 1220.5L1818.4 1228.4L1818.7 1222.9L1819.0 1225.6L1819.3 1220.1L1819.6 1228.5L1819.9 1225.7L1820.1 1229.5L1820.4 1220.7L1820.7 1222.2L1821.0 1219.6L1821.3 1219.5L1821.6 1219.0L1821.9 1224.8L1822.1 1220.4L1822.4 1223.9L1822.7 1221.1L1823.0 1225.3L1823.3 1227.2L1823.6 1227.1L1823.9 1229.0L1824.1 1223.2L1824.4 1226.8L1824.7 1222.7L1825.0 1220.3L1825.3 1218.5L1825.6 1223.6L1825.9 1225.0L1826.1 1230.9L1826.4 1221.7L1826.7 1230.3L1827.0 1216.9L1827.3 1223.4L1827.6 1234.4L1827.9 1222.3L1828.1 1219.7L1828.4 1219.2L1828.7 1238.4L1829.0 1229.7L1829.3 1219.3L1829.6 1221.7L1829.9 1212.0L1830.1 1223.0L1830.4 1231.3L1830.7 1214.5L1831.0 1229.1L1831.3 1226.9L1831.6 1231.7L1831.9 1221.2L1832.1 1225.3L1832.4 1230.7L1832.7 1226.4L1833.0 1227.5L1833.3 1222.3L1833.6 1223.0L1833.9 1220.9L1834.1 1224.5L1834.4 1224.0L1834.7 1222.5L1835.0 1212.8L1835.3 1216.5L1835.6 1223.4L1835.9 1229.8L1836.1 1219.1L1836.4 1220.9L1836.7 1223.4L1837.0 1228.7L1837.3 1232.3L1837.6 1225.1L1837.9 1223.6L1838.1 1219.4L1838.4 1225.6L1838.7 1220.8L1839.0 1224.3L1839.3 1218.7L1839.6 1229.2L1839.9 1221.3L1840.1 1215.2L1840.4 1222.8L1840.7 1217.4L1841.0 1226.2L1841.3 1230.5L1841.6 1226.2L1841.9 1222.4L1842.1 1215.8L1842.4 1218.7L1842.7 1240.0L1843.0 1229.0L1843.3 1217.7L1843.6 1218.0L1843.9 1225.3L1844.1 1223.7L1844.4 1223.8L1844.7 1226.6L1845.0 1217.2L1845.3 1218.7L1845.6 1228.8L1845.9 1225.0L1846.1 1221.8L1846.4 1222.6L1846.7 1226.8L1847.0 1224.9L1847.3 1219.3L1847.6 1216.5L1847.9 1227.4L1848.1 1216.1L1848.4 1234.2L1848.7 1216.3L1849.0 1219.2L1849.3 1228.6L1849.6 1230.5L1849.9 1222.8L1850.1 1207.7L1850.4 1221.6L1850.7 1210.7L1851.0 1219.4L1851.3 1226.7L1851.6 1226.3L1851.9 1222.6L1852.1 1223.2L1852.4 1225.1L1852.7 1219.5L1853.0 1218.3L1853.3 1228.0L1853.6 1225.5L1853.9 1227.8L1854.1 1224.7L1854.4 1223.3L1854.7 1225.5L1855.0 1224.8L1855.3 1230.0L1855.6 1224.0L1855.9 1218.3L1856.1 1218.7L1856.4 1215.7L1856.7 1221.8L1857.0 1214.6L1857.3 1213.6L1857.6 1223.7L1857.9 1227.9L1858.1 1211.9L1858.4 1225.1L1858.7 1221.1L1859.0 1214.6L1859.3 1216.3L1859.6 1218.8L1859.9 1231.4L1860.1 1220.8L1860.4 1227.6L1860.7 1214.5L1861.0 1227.9L1861.3 1223.4L1861.6 1215.8L1861.9 1216.2L1862.1 1221.5L1862.4 1211.1L1862.7 1218.8L1863.0 1212.4L1863.3 1218.9L1863.6 1221.0L1863.9 1222.3L1864.1 1220.8L1864.4 1217.9L1864.7 1216.1L1865.0 1214.5L1865.3 1215.7L1865.6 1216.6L1865.9 1216.1L1866.1 1219.6L1866.4 1215.2L1866.7 1210.6L1867.0 1224.1L1867.3 1214.8L1867.6 1210.0L1867.9 1213.8L1868.1 1216.8L1868.4 1217.4L1868.7 1219.6L1869.0 1228.5L1869.3 1211.7L1869.6 1226.8L1869.9 1219.8L1870.1 1216.8L1870.4 1206.7L1870.7 1216.9L1871.0 1221.8L1871.3 1212.8L1871.6 1210.3L1871.9 1211.4L1872.1 1219.2L1872.4 1218.5L1872.7 1226.7L1873.0 1215.7L1873.3 1222.5L1873.6 1211.7L1873.9 1217.0L1874.1 1224.0L1874.4 1216.6L1874.7 1220.9L1875.0 1211.3L1875.3 1213.0L1875.6 1215.1L1875.9 1211.9L1876.1 1215.5L1876.4 1225.9L1876.7 1216.7L1877.0 1219.4L1877.3 1226.5L1877.6 1218.1L1877.9 1217.2L1878.1 1215.4L1878.4 1224.2L1878.7 1226.1L1879.0 1229.4L1879.3 1229.6L1879.6 1210.1L1879.9 1222.6L1880.1 1230.0L1880.4 1220.2L1880.7 1219.4L1881.0 1212.2L1881.3 1224.9L1881.6 1213.0L1881.9 1219.7L1882.1 1216.9L1882.4 1222.9L1882.7 1216.4L1883.0 1216.5L1883.3 1224.7L1883.6 1218.7L1883.9 1224.1L1884.1 1215.3L1884.4 1227.4L1884.7 1222.0L1885.0 1226.0L1885.3 1223.5L1885.6 1210.3L1885.9 1204.7L1886.1 1225.3L1886.4 1216.5L1886.7 1217.0L1887.0 1214.6L1887.3 1216.2L1887.6 1221.1L1887.9 1227.5L1888.1 1217.8L1888.4 1207.0L1888.7 1222.9L1889.0 1221.2L1889.3 1216.0L1889.6 1212.2L1889.9 1211.9L1890.1 1226.9L1890.4 1216.2L1890.7 1226.7L1891.0 1218.3L1891.3 1224.9L1891.6 1214.5L1891.9 1212.5L1892.1 1218.7L1892.4 1209.8L1892.7 1207.5L1893.0 1222.8L1893.3 1229.2L1893.6 1221.2L1893.9 1210.6L1894.1 1214.3L1894.4 1221.3L1894.7 1219.5L1895.0 1234.3L1895.3 1237.7L1895.6 1218.8L1895.9 1232.7L1896.1 1215.2L1896.4 1212.0L1896.7 1229.0L1897.0 1214.8L1897.3 1217.7L1897.6 1235.6L1897.9 1218.6L1898.1 1228.8L1898.4 1227.6L1898.7 1218.8L1899.0 1224.9L1899.3 1227.7L1899.6 1226.1L1899.9 1216.6L1900.1 1226.8L1900.4 1208.3L1900.7 1219.8L1901.0 1221.8L1901.3 1226.9L1901.6 1229.4L1901.9 1214.1L1902.1 1218.6L1902.4 1221.1L1902.7 1219.2L1903.0 1224.0L1903.3 1225.6L1903.6 1225.8L1903.9 1220.1L1904.1 1238.8L1904.4 1215.7L1904.7 1221.1L1905.0 1231.0L1905.3 1227.0L1905.6 1226.9L1905.9 1233.8L1906.1 1221.6L1906.4 1223.3L1906.7 1229.0L1907.0 1231.8L1907.3 1215.9L1907.6 1220.2L1907.9 1223.2L1908.1 1228.1L1908.4 1216.3L1908.7 1228.1L1909.0 1219.2L1909.3 1227.0L1909.6 1225.2L1909.9 1230.9L1910.1 1217.1L1910.4 1225.8L1910.7 1220.3L1911.0 1218.7L1911.3 1227.6L1911.6 1217.1L1911.9 1226.3L1912.1 1216.6L1912.4 1215.8L1912.7 1225.8L1913.0 1233.7L1913.3 1224.5L1913.6 1213.8L1913.9 1223.6L1914.1 1219.2L1914.4 1218.0L1914.7 1222.7L1915.0 1226.2L1915.3 1225.8L1915.6 1215.8L1915.9 1230.0L1916.1 1219.6L1916.4 1212.5L1916.7 1216.5L1917.0 1221.6L1917.3 1213.6L1917.6 1221.9L1917.9 1213.0L1918.1 1226.1L1918.4 1221.5L1918.7 1219.1L1919.0 1225.7L1919.3 1215.3L1919.6 1219.4L1919.9 1223.3L1920.1 1222.1L1920.4 1220.4L1920.7 1227.4L1921.0 1217.2L1921.3 1219.8L1921.6 1215.1L1921.9 1219.4L1922.1 1213.5L1922.4 1213.4L1922.7 1219.4L1923.0 1214.0L1923.3 1223.4L1923.6 1224.4L1923.9 1222.3L1924.1 1223.1L1924.4 1221.8L1924.7 1211.1L1925.0 1213.2L1925.3 1220.6L1925.6 1213.2L1925.9 1215.2L1926.1 1218.5L1926.4 1220.3L1926.7 1210.4L1927.0 1218.7L1927.3 1222.9L1927.6 1220.4L1927.9 1226.2L1928.1 1215.9L1928.4 1224.9L1928.7 1229.4L1929.0 1221.9L1929.3 1223.3L1929.6 1223.3L1929.9 1206.7L1930.1 1214.3L1930.4 1223.5L1930.7 1211.2L1931.0 1219.3L1931.3 1220.5L1931.6 1224.1L1931.9 1216.8L1932.1 1224.6L1932.4 1217.3L1932.7 1225.5L1933.0 1214.0L1933.3 1214.5L1933.6 1219.2L1933.9 1225.8L1934.1 1218.6L1934.4 1217.2L1934.7 1214.2L1935.0 1222.8L1935.3 1214.0L1935.6 1216.3L1935.9 1216.1L1936.1 1226.7L1936.4 1213.3L1936.7 1213.4L1937.0 1218.8L1937.3 1218.1L1937.6 1210.3L1937.9 1213.4L1938.1 1214.7L1938.4 1218.2L1938.7 1213.8L1939.0 1233.7L1939.3 1220.3L1939.6 1228.1L1939.9 1220.0L1940.1 1219.6L1940.4 1222.2L1940.7 1216.7L1941.0 1209.2L1941.3 1220.8L1941.6 1214.8L1941.9 1229.3L1942.1 1214.1L1942.4 1219.6L1942.7 1219.0L1943.0 1216.0L1943.3 1217.0L1943.6 1218.1L1943.9 1220.0L1944.1 1220.4L1944.4 1219.4L1944.7 1219.1L1945.0 1207.8L1945.3 1226.4L1945.6 1222.9L1945.9 1212.9L1946.1 1215.2L1946.4 1208.6L1946.7 1204.4L1947.0 1217.2L1947.3 1228.2L1947.6 1220.5L1947.9 1221.5L1948.1 1220.4L1948.4 1222.9L1948.7 1219.8L1949.0 1215.8L1949.3 1217.1L1949.6 1223.7L1949.9 1218.2L1950.1 1210.5L1950.4 1223.1L1950.7 1221.5L1951.0 1227.3L1951.3 1221.0L1951.6 1220.6L1951.9 1219.7L1952.1 1216.6L1952.4 1222.1L1952.7 1218.1L1953.0 1215.5L1953.3 1220.3L1953.6 1221.4L1953.9 1222.8L1954.1 1224.4L1954.4 1232.3L1954.7 1219.7L1955.0 1228.1L1955.3 1221.2L1955.6 1221.9L1955.9 1225.5L1956.1 1217.0L1956.4 1221.0L1956.7 1227.1L1957.0 1214.1L1957.3 1216.7L1957.6 1217.8L1957.9 1221.3L1958.1 1225.4L1958.4 1214.9L1958.7 1228.6L1959.0 1225.1L1959.3 1224.6L1959.6 1211.5L1959.9 1224.2L1960.1 1217.6L1960.4 1225.3L1960.7 1221.1L1961.0 1219.4L1961.3 1216.9L1961.6 1219.6L1961.9 1225.0L1962.1 1213.3L1962.4 1215.5L1962.7 1220.3L1963.0 1220.6L1963.3 1219.2L1963.6 1223.1L1963.9 1222.0L1964.1 1211.1L1964.4 1226.7L1964.7 1214.5L1965.0 1227.5L1965.3 1225.5L1965.6 1212.8L1965.9 1222.2L1966.1 1228.5L1966.4 1228.6L1966.7 1222.6L1967.0 1217.8L1967.3 1227.7L1967.6 1214.2L1967.9 1209.8L1968.1 1227.9L1968.4 1215.7L1968.7 1224.5L1969.0 1216.4L1969.3 1218.6L1969.6 1227.5L1969.9 1221.4L1970.1 1226.9L1970.4 1220.3L1970.7 1219.6L1971.0 1218.4L1971.3 1217.3L1971.6 1223.8L1971.9 1224.1L1972.1 1230.1L1972.4 1224.1L1972.7 1220.6L1973.0 1224.4L1973.3 1229.0L1973.6 1214.9L1973.9 1230.1L1974.1 1218.0L1974.4 1218.0L1974.7 1236.6L1975.0 1227.3L1975.3 1219.3L1975.6 1226.2L1975.9 1228.6L1976.1 1225.3L1976.4 1227.3L1976.7 1223.8L1977.0 1224.5L1977.3 1216.5L1977.6 1217.0L1977.9 1223.0L1978.1 1215.5L1978.4 1225.3L1978.7 1221.7L1979.0 1227.8L1979.3 1229.0L1979.6 1220.1L1979.9 1209.1L1980.1 1215.1L1980.4 1222.1L1980.7 1232.0L1981.0 1222.3L1981.3 1225.1L1981.6 1222.2L1981.9 1209.6L1982.1 1225.3L1982.4 1221.3L1982.7 1211.0L1983.0 1225.9L1983.3 1222.4L1983.6 1236.9L1983.9 1212.0L1984.1 1218.9L1984.4 1223.1L1984.7 1221.0L1985.0 1226.1L1985.3 1227.3L1985.6 1226.7L1985.9 1223.4L1986.1 1219.8L1986.4 1224.0L1986.7 1227.5L1987.0 1223.9L1987.3 1213.2L1987.6 1231.5L1987.9 1221.0L1988.1 1227.7L1988.4 1221.1L1988.7 1228.8L1989.0 1221.1L1989.3 1235.2L1989.6 1230.0L1989.9 1220.7L1990.1 1209.8L1990.4 1226.6L1990.7 1219.2L1991.0 1228.7L1991.3 1225.8L1991.6 1222.3L1991.9 1219.5L1992.1 1220.1L1992.4 1231.3L1992.7 1228.9L1993.0 1223.3L1993.3 1226.9L1993.6 1228.8L1993.9 1223.6L1994.1 1215.8L1994.4 1232.6L1994.7 1222.1L1995.0 1221.7L1995.3 1224.8L1995.6 1220.2L1995.9 1219.6L1996.1 1225.9L1996.4 1219.5L1996.7 1228.3L1997.0 1227.0L1997.3 1234.6L1997.6 1223.8L1997.9 1225.6L1998.1 1222.6L1998.4 1231.0L1998.7 1227.7L1999.0 1227.2L1999.3 1234.5L1999.6 1226.9L1999.9 1226.8L2000.1 1219.3L2000.4 1217.2L2000.7 1223.2L2001.0 1226.2L2001.3 1220.5L2001.6 1221.2L2001.9 1229.5L2002.1 1223.2L2002.4 1223.2L2002.7 1224.4L2003.0 1220.8L2003.3 1230.3L2003.6 1233.1L2003.9 1231.2L2004.1 1233.6L2004.4 1216.6L2004.7 1230.5L2005.0 1225.1L2005.3 1232.7L2005.6 1222.9L2005.9 1230.0L2006.1 1234.6L2006.4 1229.0L2006.7 1226.7L2007.0 1225.2L2007.3 1230.2L2007.6 1224.7L2007.9 1220.4L2008.1 1229.0L2008.4 1234.0L2008.7 1227.8L2009.0 1231.1L2009.3 1231.8L2009.6 1226.1L2009.9 1225.6L2010.1 1222.0L2010.4 1226.9L2010.7 1229.9L2011.0 1221.3L2011.3 1224.4L2011.6 1230.8L2011.9 1222.5L2012.1 1229.3L2012.4 1227.5L2012.7 1224.2L2013.0 1229.9L2013.3 1228.6L2013.6 1225.3L2013.9 1226.0L2014.1 1227.4L2014.4 1229.5L2014.7 1227.6L2015.0 1231.1L2015.3 1223.0L2015.6 1237.0L2015.9 1224.9L2016.1 1224.5L2016.4 1231.6L2016.7 1230.1L2017.0 1216.3L2017.3 1225.2L2017.6 1228.9L2017.9 1227.8L2018.1 1217.1L2018.4 1221.8L2018.7 1221.4L2019.0 1228.1L2019.3 1229.3L2019.6 1226.8L2019.9 1224.9L2020.1 1221.1L2020.4 1233.5L2020.7 1214.3L2021.0 1229.3L2021.3 1227.8L2021.6 1226.3L2021.9 1224.8L2022.1 1225.5L2022.4 1228.0L2022.7 1221.6L2023.0 1228.3L2023.3 1224.9L2023.6 1225.1L2023.9 1211.8L2024.1 1218.2L2024.4 1223.5L2024.7 1221.4L2025.0 1228.9L2025.3 1217.3L2025.6 1233.9L2025.9 1228.3L2026.1 1225.4L2026.4 1220.8L2026.7 1218.7L2027.0 1218.5L2027.3 1220.9L2027.6 1224.5L2027.9 1229.8L2028.1 1228.0L2028.4 1229.9L2028.7 1229.7L2029.0 1221.3L2029.3 1222.2L2029.6 1230.2L2029.9 1220.9L2030.1 1230.1L2030.4 1225.3L2030.7 1218.2L2031.0 1227.4L2031.3 1226.4L2031.6 1219.0L2031.9 1213.2L2032.1 1226.9L2032.4 1227.8L2032.7 1229.8L2033.0 1227.8L2033.3 1222.0L2033.6 1212.1L2033.9 1224.9L2034.1 1230.9L2034.4 1225.4L2034.7 1219.6L2035.0 1217.3L2035.3 1212.3L2035.6 1227.2L2035.9 1228.6L2036.1 1214.8L2036.4 1223.1L2036.7 1238.8L2037.0 1215.1L2037.3 1234.6L2037.6 1236.9L2037.9 1231.4L2038.1 1229.5L2038.4 1229.6L2038.7 1230.4L2039.0 1236.0L2039.3 1221.0L2039.6 1217.4L2039.9 1216.2L2040.1 1228.5L2040.4 1233.0L2040.7 1223.4L2041.0 1229.8L2041.3 1229.7L2041.6 1238.3L2041.9 1231.8L2042.1 1230.1L2042.4 1224.0L2042.7 1225.7L2043.0 1233.0L2043.3 1228.9L2043.6 1235.6L2043.9 1224.5L2044.1 1233.6L2044.4 1227.1L2044.7 1230.7L2045.0 1218.3L2045.3 1232.4L2045.6 1223.2L2045.9 1239.8L2046.1 1233.6L2046.4 1224.9L2046.7 1237.4L2047.0 1237.7L2047.3 1239.2L2047.6 1236.3L2047.9 1226.9L2048.1 1237.8L2048.4 1221.7L2048.7 1227.3L2049.0 1231.4L2049.3 1219.7L2049.6 1236.8L2049.9 1233.3L2050.1 1228.8L2050.4 1216.6L2050.7 1225.5L2051.0 1234.5L2051.3 1236.2L2051.6 1223.9L2051.9 1221.5L2052.1 1229.5L2052.4 1222.2L2052.7 1219.3L2053.0 1238.1L2053.3 1229.2L2053.6 1231.3L2053.9 1227.5L2054.1 1234.9L2054.4 1234.9L2054.7 1227.9L2055.0 1226.2L2055.3 1226.3L2055.6 1234.3L2055.9 1229.5L2056.1 1221.2L2056.4 1242.1L2056.7 1228.7L2057.0 1231.6L2057.3 1237.4L2057.6 1231.6L2057.9 1233.5L2058.1 1227.8L2058.4 1234.6L2058.7 1233.9L2059.0 1230.7L2059.3 1227.5L2059.6 1227.0L2059.9 1226.4L2060.1 1230.8L2060.4 1225.0L2060.7 1233.8L2061.0 1225.0L2061.3 1234.1L2061.6 1228.5L2061.9 1223.7L2062.1 1230.4L2062.4 1220.8L2062.7 1246.2L2063.0 1220.8L2063.3 1226.6L2063.6 1236.3L2063.9 1223.9L2064.1 1218.3L2064.4 1221.1L2064.7 1234.4L2065.0 1220.0L2065.3 1237.8L2065.6 1231.0L2065.9 1226.2L2066.1 1234.2L2066.4 1226.9L2066.7 1225.1L2067.0 1214.2L2067.3 1217.6L2067.6 1229.4L2067.9 1213.7L2068.1 1216.6L2068.4 1216.7L2068.7 1226.0L2069.0 1217.4L2069.3 1225.0L2069.6 1242.3L2069.9 1226.2L2070.1 1237.2L2070.4 1226.9L2070.7 1218.7L2071.0 1222.1L2071.3 1221.4L2071.6 1228.4L2071.9 1229.9L2072.1 1226.6L2072.4 1222.8L2072.7 1220.3L2073.0 1222.6L2073.3 1219.4L2073.6 1220.0L2073.9 1241.2L2074.1 1234.3L2074.4 1218.4L2074.7 1225.4L2075.0 1227.5L2075.3 1224.7L2075.6 1221.0L2075.9 1227.8L2076.1 1226.4L2076.4 1228.7L2076.7 1232.9L2077.0 1222.1L2077.3 1227.0L2077.6 1222.7L2077.9 1220.2L2078.1 1222.4L2078.4 1227.3L2078.7 1222.3L2079.0 1219.8L2079.3 1221.4L2079.6 1227.1L2079.9 1235.5L2080.1 1234.7L2080.4 1216.2L2080.7 1224.5L2081.0 1230.3L2081.3 1223.9L2081.6 1225.7L2081.9 1220.7L2082.1 1227.8L2082.4 1226.0L2082.7 1221.3L2083.0 1230.4L2083.3 1233.8L2083.6 1230.3L2083.9 1219.8L2084.1 1229.0L2084.4 1232.4L2084.7 1234.6L2085.0 1235.2L2085.3 1233.6L2085.6 1226.4L2085.9 1231.0L2086.1 1232.2L2086.4 1228.5L2086.7 1229.9L2087.0 1221.3L2087.3 1231.0L2087.6 1225.1L2087.9 1227.1L2088.1 1239.2L2088.4 1229.6L2088.7 1230.2L2089.0 1224.2L2089.3 1218.8L2089.6 1215.8L2089.9 1226.3L2090.1 1227.0L2090.4 1216.9L2090.7 1224.3L2091.0 1228.7L2091.3 1223.5L2091.6 1226.3L2091.9 1229.6L2092.1 1236.8L2092.4 1232.3L2092.7 1238.8L2093.0 1220.2L2093.3 1237.5L2093.6 1228.0L2093.9 1235.7L2094.1 1242.2L2094.4 1235.5L2094.7 1232.2L2095.0 1239.8L2095.3 1226.5L2095.6 1236.4L2095.9 1232.2L2096.1 1232.3L2096.4 1225.9L2096.7 1233.3L2097.0 1232.3L2097.3 1229.9L2097.6 1232.1L2097.9 1221.1L2098.1 1236.1L2098.4 1228.4L2098.7 1231.6L2099.0 1226.0L2099.3 1227.8L2099.6 1223.4L2099.9 1238.1L2100.1 1224.8L2100.4 1225.3L2100.7 1229.0L2101.0 1222.3L2101.3 1223.6L2101.6 1231.4L2101.9 1232.0L2102.1 1234.9L2102.4 1233.0L2102.7 1224.6L2103.0 1223.5L2103.3 1236.7L2103.6 1216.3L2103.9 1231.1L2104.1 1234.4L2104.4 1241.9L2104.7 1238.8L2105.0 1237.0L2105.3 1242.2L2105.6 1211.9L2105.9 1228.3L2106.1 1232.4L2106.4 1216.0L2106.7 1225.4L2107.0 1237.6L2107.3 1226.1L2107.6 1236.6L2107.9 1234.3L2108.1 1237.7L2108.4 1235.5L2108.7 1233.7L2109.0 1234.6L2109.3 1224.9L2109.6 1240.8L2109.9 1229.0L2110.1 1222.4L2110.4 1233.3L2110.7 1221.8L2111.0 1243.4L2111.3 1245.2L2111.6 1237.9L2111.9 1224.8L2112.1 1233.4L2112.4 1232.4L2112.7 1227.4L2113.0 1228.9L2113.3 1233.5L2113.6 1227.7L2113.9 1230.6L2114.1 1231.1L2114.4 1223.1L2114.7 1228.8L2115.0 1228.3L2115.3 1240.9L2115.6 1231.8L2115.9 1233.6L2116.1 1232.5L2116.4 1231.0L2116.7 1231.6L2117.0 1230.4L2117.3 1212.1L2117.6 1231.3L2117.9 1227.3L2118.1 1229.3L2118.4 1225.3L2118.7 1225.6L2119.0 1231.2L2119.3 1228.3L2119.6 1231.5L2119.9 1232.6L2120.1 1231.3L2120.4 1231.8L2120.7 1227.5L2121.0 1229.8L2121.3 1234.9L2121.6 1230.0L2121.9 1234.5L2122.1 1231.3L2122.4 1237.0L2122.7 1222.0L2123.0 1232.5L2123.3 1235.8L2123.6 1226.3L2123.9 1231.6L2124.1 1232.7L2124.4 1229.8L2124.7 1236.0L2125.0 1232.6L2125.3 1229.2L2125.6 1235.3L2125.9 1232.6L2126.1 1246.5L2126.4 1221.5L2126.7 1231.3L2127.0 1230.1L2127.3 1230.2L2127.6 1219.0L2127.9 1230.7L2128.1 1227.0L2128.4 1234.0L2128.7 1224.0L2129.0 1239.3L2129.3 1229.6L2129.6 1227.1L2129.9 1232.5L2130.1 1217.2L2130.4 1224.0L2130.7 1232.7L2131.0 1227.9L2131.3 1229.9L2131.6 1217.4L2131.9 1222.1L2132.1 1220.3L2132.4 1237.9L2132.7 1228.3L2133.0 1235.7L2133.3 1227.6L2133.6 1237.4L2133.9 1226.1L2134.1 1226.4L2134.4 1228.0L2134.7 1229.2L2135.0 1218.4L2135.3 1228.5L2135.6 1220.6L2135.9 1222.7L2136.1 1227.0L2136.4 1226.4L2136.7 1228.0L2137.0 1233.7L2137.3 1233.8L2137.6 1236.9L2137.9 1225.0L2138.1 1227.7L2138.4 1226.8L2138.7 1226.1L2139.0 1232.8L2139.3 1231.8L2139.6 1227.8L2139.9 1229.0L2140.1 1234.2L2140.4 1227.6L2140.7 1233.5L2141.0 1228.3L2141.3 1230.5L2141.6 1236.9L2141.9 1225.8L2142.1 1230.0L2142.4 1234.1L2142.7 1228.9L2143.0 1234.3L2143.3 1239.9L2143.6 1234.7L2143.9 1228.0L2144.1 1224.7L2144.4 1229.3L2144.7 1226.0L2145.0 1223.2L2145.3 1231.8L2145.6 1231.6L2145.9 1221.3L2146.1 1226.4L2146.4 1224.1L2146.7 1233.8L2147.0 1230.6L2147.3 1233.2L2147.6 1228.8L2147.9 1231.4L2148.1 1232.2L2148.4 1228.9L2148.7 1233.1L2149.0 1221.1L2149.3 1233.8L2149.6 1223.2L2149.9 1227.7L2150.1 1230.4L2150.4 1230.5L2150.7 1223.2L2151.0 1229.6L2151.3 1215.5L2151.6 1228.4L2151.9 1226.2L2152.1 1236.2L2152.4 1228.1L2152.7 1224.2L2153.0 1226.3L2153.3 1223.5L2153.6 1229.5L2153.9 1230.6L2154.1 1236.9L2154.4 1220.4L2154.7 1232.3L2155.0 1223.5L2155.3 1228.5L2155.6 1237.9L2155.9 1235.4L2156.1 1233.8L2156.4 1227.5L2156.7 1234.3L2157.0 1241.0L2157.3 1224.0L2157.6 1227.7L2157.9 1230.7L2158.1 1231.4L2158.4 1231.8L2158.7 1229.5L2159.0 1227.5L2159.3 1232.9L2159.6 1227.3L2159.9 1229.9L2160.1 1232.8L2160.4 1234.0L2160.7 1234.7L2161.0 1235.0L2161.3 1234.0L2161.6 1242.0L2161.9 1225.0L2162.1 1232.0L2162.4 1232.1L2162.7 1230.2L2163.0 1231.2L2163.3 1233.0L2163.6 1229.8L2163.9 1240.6L2164.1 1240.5L2164.4 1229.4L2164.7 1236.3L2165.0 1235.5L2165.3 1232.8L2165.6 1230.9L2165.9 1234.1L2166.1 1232.6L2166.4 1229.5L2166.7 1235.9L2167.0 1232.8L2167.3 1237.1L2167.6 1226.3L2167.9 1228.6L2168.1 1218.2L2168.4 1230.3L2168.7 1227.0L2169.0 1234.8L2169.3 1236.7L2169.6 1232.7L2169.9 1236.3L2170.1 1227.4L2170.4 1223.6L2170.7 1238.5L2171.0 1236.8L2171.3 1237.7L2171.6 1230.9L2171.9 1237.0L2172.1 1235.2L2172.4 1244.2L2172.7 1220.7L2173.0 1227.1L2173.3 1236.4L2173.6 1235.9L2173.9 1235.1L2174.1 1231.5L2174.4 1229.8L2174.7 1244.5L2175.0 1241.0L2175.3 1234.3L2175.6 1234.7L2175.9 1240.4L2176.1 1228.5L2176.4 1227.9L2176.7 1232.5L2177.0 1225.8L2177.3 1236.9L2177.6 1236.2L2177.9 1236.3L2178.1 1232.1L2178.4 1230.6L2178.7 1235.1L2179.0 1219.6L2179.3 1226.5L2179.6 1228.8L2179.9 1227.2L2180.1 1233.4L2180.4 1228.3L2180.7 1236.3L2181.0 1232.9L2181.3 1221.8L2181.6 1222.6L2181.9 1241.6L2182.1 1234.8L2182.4 1235.4L2182.7 1231.3L2183.0 1229.2L2183.3 1239.4L2183.6 1228.4L2183.9 1231.8L2184.1 1233.6L2184.4 1229.8L2184.7 1231.3L2185.0 1231.3L2185.3 1231.6L2185.6 1244.5L2185.9 1234.1L2186.1 1238.2L2186.4 1227.7L2186.7 1231.5L2187.0 1231.2L2187.3 1227.0L2187.6 1234.0L2187.9 1227.8L2188.1 1228.9L2188.4 1234.0L2188.7 1235.4L2189.0 1228.5L2189.3 1234.8L2189.6 1239.4L2189.9 1244.3L2190.1 1238.2L2190.4 1233.0L2190.7 1239.9L2191.0 1233.1L2191.3 1233.0L2191.6 1240.9L2191.9 1236.8L2192.1 1236.4L2192.4 1230.5L2192.7 1233.0L2193.0 1235.5L2193.3 1236.4L2193.6 1237.9L2193.9 1226.3L2194.1 1243.8L2194.4 1237.5L2194.7 1230.4L2195.0 1239.1L2195.3 1233.3L2195.6 1232.2L2195.9 1241.0L2196.1 1229.0L2196.4 1229.4L2196.7 1227.7L2197.0 1231.2L2197.3 1246.8L2197.6 1231.7L2197.9 1229.2L2198.1 1234.4L2198.4 1238.9L2198.7 1242.4L2199.0 1229.8L2199.3 1242.1L2199.6 1234.3L2199.9 1229.7L2200.1 1230.0L2200.4 1235.5L2200.7 1233.5L2201.0 1231.4L2201.3 1233.9L2201.6 1243.5L2201.9 1239.6L2202.1 1229.8L2202.4 1230.0L2202.7 1240.2L2203.0 1228.4L2203.3 1224.9L2203.6 1228.7L2203.9 1227.1L2204.1 1226.3L2204.4 1231.7L2204.7 1227.1L2205.0 1231.2L2205.3 1234.2L2205.6 1230.3L2205.9 1226.1L2206.1 1228.4L2206.4 1236.2L2206.7 1227.7L2207.0 1227.4L2207.3 1234.2L2207.6 1228.2L2207.9 1228.2L2208.1 1233.4L2208.4 1231.7L2208.7 1229.7L2209.0 1230.4L2209.3 1236.9L2209.6 1234.5L2209.9 1229.0L2210.1 1230.2L2210.4 1239.1L2210.7 1231.0L2211.0 1233.5L2211.3 1234.2L2211.6 1229.7L2211.9 1232.7L2212.1 1227.7L2212.4 1230.7L2212.7 1237.0L2213.0 1231.1L2213.3 1238.6L2213.6 1232.7L2213.9 1234.0L2214.1 1232.3L2214.4 1227.8L2214.7 1236.4L2215.0 1238.0L2215.3 1233.1L2215.6 1231.7L2215.9 1230.6L2216.1 1233.9L2216.4 1236.4L2216.7 1235.7L2217.0 1232.9L2217.3 1231.8L2217.6 1232.3L2217.9 1231.0L2218.1 1226.9L2218.4 1240.6L2218.7 1228.1L2219.0 1227.4L2219.3 1238.0L2219.6 1233.8L2219.9 1234.0L2220.1 1229.3L2220.4 1231.6L2220.7 1235.1L2221.0 1243.8L2221.3 1235.5L2221.6 1232.2L2221.9 1234.6L2222.1 1231.8L2222.4 1228.1L2222.7 1223.7L2223.0 1233.8L2223.3 1225.1L2223.6 1236.8L2223.9 1229.2L2224.1 1229.4L2224.4 1226.2L2224.7 1223.8L2225.0 1228.5L2225.3 1232.7L2225.6 1229.2L2225.9 1230.6L2226.1 1228.9L2226.4 1233.5L2226.7 1233.9L2227.0 1233.3L2227.3 1226.7L2227.6 1227.7L2227.9 1225.4L2228.1 1236.0L2228.4 1219.6L2228.7 1237.9L2229.0 1229.8L2229.3 1228.3L2229.6 1231.9L2229.9 1230.0L2230.1 1229.6L2230.4 1232.8L2230.7 1233.7L2231.0 1228.8L2231.3 1238.2L2231.6 1225.4L2231.9 1234.9L2232.1 1232.3L2232.4 1226.6L2232.7 1234.9L2233.0 1236.9L2233.3 1224.2L2233.6 1233.7L2233.9 1230.7L2234.1 1232.1L2234.4 1223.8L2234.7 1233.8L2235.0 1239.2L2235.3 1232.4L2235.6 1228.2L2235.9 1229.6L2236.1 1232.5L2236.4 1230.3L2236.7 1221.4L2237.0 1225.9L2237.3 1224.6L2237.6 1231.2L2237.9 1239.2L2238.1 1236.9L2238.4 1230.1L2238.7 1230.2L2239.0 1235.2L2239.3 1234.1" fill="none" stroke="#0000ff" stroke-width="6.2" stroke-linejoin="bevel" shape-rendering="crispEdges"/>
<path d="M395.0 1291.4L395.3 1287.6L395.6 1288.0L395.9 1274.3L396.1 1305.2L396.4 1295.9L396.7 1287.9L397.0 1293.8L397.3 1291.0L397.6 1286.2L397.9 1294.7L398.1 1287.3L398.4 1287.0L398.7 1284.1L399.0 1291.4L399.3 1288.0L399.6 1291.7L399.9 1284.6L400.1 1289.4L400.4 1282.5L400.7 1293.3L401.0 1289.0L401.3 1291.1L401.6 1290.2L401.9 1280.8L402.1 1292.5L402.4 1307.3L402.7 1276.0L403.0 1275.1L403.3 1270.2L403.6 1292.6L403.9 1287.5L404.1 1294.1L404.4 1291.5L404.7 1287.7L405.0 1288.2L405.3 1284.7L405.6 1292.4L405.9 1277.5L406.1 1282.7L406.4 1287.7L406.7 1299.5L407.0 1276.3L407.3 1277.3L407.6 1281.2L407.9 1293.2L408.1 1283.7L408.4 1296.1L408.7 1270.4L409.0 1294.5L409.3 1298.9L409.6 1273.7L409.9 1286.6L410.1 1301.4L410.4 1285.9L410.7 1293.6L411.0 1305.3L411.3 1288.8L411.6 1282.6L411.9 1278.3L412.1 1290.6L412.4 1282.1L412.7 1283.3L413.0 1283.9L413.3 1290.6L413.6 1275.1L413.9 1270.8L414.1 1262.4L414.4 1302.1L414.7 1284.6L415.0 1296.9L415.3 1282.5L415.6 1275.4L415.9 1285.5L416.1 1280.0L416.4 1269.1L416.7 1271.8L417.0 1293.8L417.3 1282.9L417.6 1280.9L417.9 1274.5L418.1 1270.4L418.4 1282.8L418.7 1274.0L419.0 1268.1L419.3 1272.5L419.6 1265.8L419.9 1273.7L420.1 1280.3L420.4 1264.6L420.7 1281.1L421.0 1264.6L421.3 1270.2L421.6 1262.2L421.9 1266.1L422.1 1267.4L422.4 1263.3L422.7 1260.8L423.0 1260.4L423.3 1258.8L423.6 1253.2L423.9 1262.1L424.1 1268.3L424.4 1270.0L424.7 1268.1L425.0 1280.3L425.3 1265.8L425.6 1258.7L425.9 1283.6L426.1 1256.5L426.4 1269.9L426.7 1257.0L427.0 1265.6L427.3 1250.3L427.6 1269.1L427.9 1262.1L428.1 1256.8L428.4 1273.9L428.7 1267.9L429.0 1263.2L429.3 1258.1L429.6 1262.4L429.9 1261.7L430.1 1267.3L430.4 1267.7L430.7 1258.3L431.0 1259.1L431.3 1259.1L431.6 1248.9L431.9 1258.7L432.1 1261.7L432.4 1266.5L432.7 1270.5L433.0 1257.2L433.3 1265.9L433.6 1257.8L433.9 1276.3L434.1 1262.3L434.4 1266.1L434.7 1256.3L435.0 1253.8L435.3 1264.4L435.6 1260.3L435.9 1265.7L436.1 1251.6L436.4 1268.3L436.7 1256.5L437.0 1276.8L437.3 1259.9L437.6 1272.3L437.9 1252.5L438.1 1267.3L438.4 1256.5L438.7 1259.9L439.0 1264.2L439.3 1261.4L439.6 1266.5L439.9 1270.8L440.1 1270.1L440.4 1263.6L440.7 1252.1L441.0 1257.2L441.3 1261.8L441.6 1244.9L441.9 1271.8L442.1 1262.0L442.4 1260.0L442.7 1271.8L443.0 1268.7L443.3 1264.1L443.6 1252.9L443.9 1265.5L444.1 1263.6L444.4 1248.2L444.7 1268.4L445.0 1265.8L445.3 1242.7L445.6 1259.1L445.9 1247.7L446.1 1266.0L446.4 1262.8L446.7 1247.8L447.0 1249.1L447.3 1255.9L447.6 1252.9L447.9 1265.0L448.1 1261.9L448.4 1251.2L448.7 1256.6L449.0 1238.6L449.3 1253.7L449.6 1256.7L449.9 1249.5L450.1 1243.1L450.4 1253.1L450.7 1260.9L451.0 1249.8L451.3 1241.2L451.6 1255.4L451.9 1235.5L452.1 1248.4L452.4 1241.5L452.7 1252.4L453.0 1238.7L453.3 1249.8L453.6 1243.5L453.9 1226.4L454.1 1230.0L454.4 1237.0L454.7 1245.5L455.0 1238.8L455.3 1237.7L455.6 1235.5L455.9 1239.5L456.1 1237.0L456.4 1235.7L456.7 1229.0L457.0 1238.5L457.3 1238.5L457.6 1225.5L457.9 1241.0L458.1 1233.1L458.4 1227.1L458.7 1220.2L459.0 1230.5L459.3 1229.3L459.6 1223.7L459.9 1218.1L460.1 1229.5L460.4 1221.8L460.7 1221.8L461.0 1236.5L461.3 1233.1L461.6 1227.1L461.9 1219.6L462.1 1224.8L462.4 1208.5L462.7 1221.0L463.0 1213.0L463.3 1211.9L463.6 1209.4L463.9 1221.8L464.1 1218.6L464.4 1218.6L464.7 1222.7L465.0 1210.7L465.3 1207.3L465.6 1202.8L465.9 1212.6L466.1 1220.3L466.4 1212.9L466.7 1218.6L467.0 1203.6L467.3 1208.8L467.6 1201.9L467.9 1201.0L468.1 1227.2L468.4 1218.2L468.7 1203.3L469.0 1202.7L469.3 1208.8L469.6 1196.0L469.9 1212.9L470.1 1197.1L470.4 1205.2L470.7 1199.2L471.0 1203.9L471.3 1196.3L471.6 1194.1L471.9 1194.2L472.1 1201.4L472.4 1204.5L472.7 1207.3L473.0 1219.2L473.3 1213.0L473.6 1204.0L473.9 1211.8L474.1 1200.1L474.4 1217.0L474.7 1209.6L475.0 1194.4L475.3 1210.7L475.6 1214.6L475.9 1183.9L476.1 1198.5L476.4 1200.4L476.7 1189.4L477.0 1195.6L477.3 1196.4L477.6 1208.9L477.9 1205.0L478.1 1221.3L478.4 1199.2L478.7 1208.8L479.0 1200.2L479.3 1200.4L479.6 1189.7L479.9 1183.8L480.1 1190.2L480.4 1198.8L480.7 1202.7L481.0 1195.4L481.3 1195.4L481.6 1181.5L481.9 1197.3L482.1 1194.9L482.4 1183.0L482.7 1184.6L483.0 1178.3L483.3 1190.5L483.6 1183.6L483.9 1179.8L484.1 1181.3L484.4 1180.2L484.7 1174.9L485.0 1169.9L485.3 1168.6L485.6 1165.6L485.9 1174.4L486.1 1184.3L486.4 1162.8L486.7 1169.5L487.0 1169.5L487.3 1162.7L487.6 1166.7L487.9 1160.5L488.1 1170.4L488.4 1161.2L488.7 1164.2L489.0 1166.8L489.3 1160.0L489.6 1144.5L489.9 1158.0L490.1 1165.9L490.4 1159.7L490.7 1161.4L491.0 1151.1L491.3 1159.7L491.6 1163.9L491.9 1157.8L492.1 1173.4L492.4 1154.5L492.7 1140.5L493.0 1139.9L493.3 1165.9L493.6 1153.5L493.9 1164.0L494.1 1157.9L494.4 1170.1L494.7 1166.0L495.0 1147.0L495.3 1154.0L495.6 1163.3L495.9 1134.5L496.1 1167.4L496.4 1164.1L496.7 1160.8L497.0 1145.1L497.3 1151.1L497.6 1132.5L497.9 1147.2L498.1 1138.5L498.4 1146.7L498.7 1135.0L499.0 1148.4L499.3 1159.3L499.6 1127.2L499.9 1155.2L500.1 1117.8L500.4 1115.3L500.7 1140.7L501.0 1141.9L501.3 1150.3L501.6 1120.2L501.9 1139.8L502.1 1142.7L502.4 1155.4L502.7 1138.0L503.0 1145.5L503.3 1126.2L503.6 1135.7L503.9 1132.1L504.1 1145.9L504.4 1124.5L504.7 1126.0L505.0 1143.0L505.3 1157.6L505.6 1139.8L505.9 1138.5L506.1 1130.7L506.4 1146.5L506.7 1140.0L507.0 1151.5L507.3 1137.2L507.6 1125.5L507.9 1129.0L508.1 1125.9L508.4 1124.3L508.7 1142.0L509.0 1138.3L509.3 1125.9L509.6 1142.3L509.9 1133.9L510.1 1128.6L510.4 1133.9L510.7 1132.1L511.0 1130.2L511.3 1127.9L511.6 1132.0L511.9 1131.7L512.1 1123.8L512.4 1128.0L512.7 1126.2L513.0 1119.9L513.3 1119.9L513.6 1115.5L513.9 1109.6L514.1 1109.9L514.4 1119.9L514.7 1066.1L515.0 1107.2L515.3 1104.5L515.6 1088.9L515.9 1093.2L516.1 1079.6L516.4 1084.0L516.7 1093.6L517.0 1096.6L517.3 1081.6L517.6 1126.6L517.9 1084.3L518.1 1091.8L518.4 1087.0L518.7 1081.6L519.0 1103.4L519.3 1079.0L519.6 1102.5L519.9 1099.6L520.1 1074.0L520.4 1097.1L520.7 1077.3L521.0 1115.1L521.3 1079.1L521.6 1072.2L521.9 1060.6L522.1 1058.3L522.4 1074.4L522.7 1069.1L523.0 1066.0L523.3 1071.3L523.6 1076.1L523.9 1093.9L524.1 1058.4L524.4 1070.6L524.7 1065.6L525.0 1058.7L525.3 1061.0L525.6 1064.6L525.9 1082.9L526.1 1071.8L526.4 1067.3L526.7 1080.5L527.0 1076.1L527.3 1068.0L527.6 1076.5L527.9 1061.3L528.1 1083.4L528.4 1076.3L528.7 1064.9L529.0 1054.2L529.3 1088.5L529.6 1069.9L529.9 1106.9L530.1 1059.3L530.4 1078.5L530.7 1057.8L531.0 1069.8L531.3 1077.1L531.6 1054.8L531.9 1063.8L532.1 1066.8L532.4 1065.8L532.7 1072.0L533.0 1077.5L533.3 1073.4L533.6 1064.0L533.9 1054.2L534.1 1042.0L534.4 1046.0L534.7 1047.4L535.0 1062.5L535.3 1043.9L535.6 1023.4L535.9 1057.3L536.1 1036.6L536.4 1035.7L536.7 1041.5L537.0 1049.4L537.3 1009.5L537.6 1016.4L537.9 1041.1L538.1 1032.5L538.4 1017.7L538.7 1027.3L539.0 1051.1L539.3 1025.7L539.6 1039.1L539.9 1038.3L540.1 1021.8L540.4 1030.8L540.7 1019.1L541.0 1016.1L541.3 1009.4L541.6 1033.9L541.9 1014.4L542.1 1011.6L542.4 1005.1L542.7 1029.6L543.0 1018.6L543.3 1009.8L543.6 1004.1L543.9 990.1L544.1 1008.5L544.4 1008.0L544.7 994.8L545.0 1008.9L545.3 1004.9L545.6 994.4L545.9 993.9L546.1 996.2L546.4 999.7L546.7 996.3L547.0 984.5L547.3 1009.3L547.6 999.3L547.9 1007.6L548.1 1007.5L548.4 992.9L548.7 998.1L549.0 1006.7L549.3 1002.1L549.6 991.1L549.9 985.1L550.1 992.5L550.4 982.1L550.7 984.6L551.0 966.5L551.3 991.5L551.6 977.7L551.9 983.0L552.1 988.2L552.4 992.7L552.7 1011.3L553.0 992.0L553.3 970.5L553.6 988.8L553.9 979.6L554.1 994.2L554.4 977.7L554.7 977.0L555.0 978.9L555.3 977.1L555.6 962.0L555.9 975.8L556.1 983.4L556.4 997.9L556.7 979.1L557.0 977.8L557.3 989.1L557.6 988.2L557.9 1000.5L558.1 987.2L558.4 978.8L558.7 994.8L559.0 996.3L559.3 971.1L559.6 978.0L559.9 954.9L560.1 970.1L560.4 963.0L560.7 970.3L561.0 966.3L561.3 969.3L561.6 969.3L561.9 975.6L562.1 971.7L562.4 961.5L562.7 952.1L563.0 981.2L563.3 982.5L563.6 956.5L563.9 974.7L564.1 945.6L564.4 944.5L564.7 958.7L565.0 978.1L565.3 948.2L565.6 949.9L565.9 977.2L566.1 936.2L566.4 964.5L566.7 962.0L567.0 953.5L567.3 957.2L567.6 982.6L567.9 941.8L568.1 949.7L568.4 949.9L568.7 944.6L569.0 937.5L569.3 975.3L569.6 953.0L569.9 932.1L570.1 941.6L570.4 951.2L570.7 950.4L571.0 933.3L571.3 944.6L571.6 946.9L571.9 947.3L572.1 946.6L572.4 927.8L572.7 956.6L573.0 942.9L573.3 954.4L573.6 961.3L573.9 937.9L574.1 929.5L574.4 943.8L574.7 935.0L575.0 933.3L575.3 929.4L575.6 947.9L575.9 934.1L576.1 928.1L576.4 932.9L576.7 925.8L577.0 939.4L577.3 935.9L577.6 932.1L577.9 943.3L578.1 935.5L578.4 944.7L578.7 948.5L579.0 938.4L579.3 936.9L579.6 942.7L579.9 947.4L580.1 942.0L580.4 943.3L580.7 942.6L581.0 945.0L581.3 947.4L581.6 939.3L581.9 941.1L582.1 944.7L582.4 940.6L582.7 945.9L583.0 948.8L583.3 945.6L583.6 942.4L583.9 941.7L584.1 956.7L584.4 950.5L584.7 936.7L585.0 937.5L585.3 963.0L585.6 952.1L585.9 941.5L586.1 948.3L586.4 920.9L586.7 938.0L587.0 943.0L587.3 921.3L587.6 929.0L587.9 941.1L588.1 943.3L588.4 927.7L588.7 934.5L589.0 945.5L589.3 926.7L589.6 916.9L589.9 927.9L590.1 923.8L590.4 947.1L590.7 927.5L591.0 916.9L591.3 948.8L591.6 915.0L591.9 930.5L592.1 928.9L592.4 934.4L592.7 921.8L593.0 926.3L593.3 919.3L593.6 905.0L593.9 917.8L594.1 918.1L594.4 917.3L594.7 921.6L595.0 914.2L595.3 933.1L595.6 935.3L595.9 899.9L596.1 920.6L596.4 914.1L596.7 897.5L597.0 924.2L597.3 915.4L597.6 917.6L597.9 915.4L598.1 929.7L598.4 930.7L598.7 923.1L599.0 926.3L599.3 920.2L599.6 888.9L599.9 915.9L600.1 921.5L600.4 916.4L600.7 924.0L601.0 927.6L601.3 924.5L601.6 931.2L601.9 942.8L602.1 907.8L602.4 924.0L602.7 919.9L603.0 921.1L603.3 914.3L603.6 925.9L603.9 923.8L604.1 921.0L604.4 924.5L604.7 922.0L605.0 907.0L605.3 937.5L605.6 925.6L605.9 920.0L606.1 932.0L606.4 923.3L606.7 909.2L607.0 938.9L607.3 914.3L607.6 929.0L607.9 932.8L608.1 945.7L608.4 944.7L608.7 935.5L609.0 925.1L609.3 929.1L609.6 945.8L609.9 954.0L610.1 940.8L610.4 927.8L610.7 953.9L611.0 931.1L611.3 930.9L611.6 932.5L611.9 942.8L612.1 941.2L612.4 947.9L612.7 951.8L613.0 942.7L613.3 900.7L613.6 916.4L613.9 939.0L614.1 936.0L614.4 964.1L614.7 937.0L615.0 935.8L615.3 949.8L615.6 951.6L615.9 935.3L616.1 944.5L616.4 915.2L616.7 926.5L617.0 955.0L617.3 920.6L617.6 951.5L617.9 948.4L618.1 949.9L618.4 952.1L618.7 947.6L619.0 910.9L619.3 926.8L619.6 932.9L619.9 955.1L620.1 926.3L620.4 933.0L620.7 935.3L621.0 964.5L621.3 923.2L621.6 924.8L621.9 962.4L622.1 913.2L622.4 953.2L622.7 941.0L623.0 922.9L623.3 942.7L623.6 933.3L623.9 955.7L624.1 958.1L624.4 978.7L624.7 952.8L625.0 955.5L625.3 943.7L625.6 954.5L625.9 975.3L626.1 919.7L626.4 969.6L626.7 947.1L627.0 959.6L627.3 965.3L627.6 976.6L627.9 964.8L628.1 952.2L628.4 966.3L628.7 960.4L629.0 956.3L629.3 964.3L629.6 977.1L629.9 963.1L630.1 965.2L630.4 936.6L630.7 958.3L631.0 926.8L631.3 973.7L631.6 944.0L631.9 997.5L632.1 1013.3L632.4 954.1L632.7 983.9L633.0 968.0L633.3 951.8L633.6 947.3L633.9 970.5L634.1 984.0L634.4 970.5L634.7 937.5L635.0 945.2L635.3 958.1L635.6 995.0L635.9 968.6L636.1 966.7L636.4 990.5L636.7 959.0L637.0 961.1L637.3 960.1L637.6 938.1L637.9 969.8L638.1 969.2L638.4 977.1L638.7 948.5L639.0 954.0L639.3 976.9L639.6 969.3L639.9 982.7L640.1 955.3L640.4 968.6L640.7 958.5L641.0 970.5L641.3 961.6L641.6 973.5L641.9 979.8L642.1 975.5L642.4 949.1L642.7 978.7L643.0 973.7L643.3 952.5L643.6 955.7L643.9 970.1L644.1 975.9L644.4 966.5L644.7 956.2L645.0 973.9L645.3 973.2L645.6 997.9L645.9 961.5L646.1 998.1L646.4 987.8L646.7 976.3L647.0 995.6L647.3 975.4L647.6 982.8L647.9 966.5L648.1 976.6L648.4 968.8L648.7 965.2L649.0 975.3L649.3 973.0L649.6 982.2L649.9 987.4L650.1 977.9L650.4 979.9L650.7 981.1L651.0 963.0L651.3 982.5L651.6 981.3L651.9 981.3L652.1 975.5L652.4 970.8L652.7 981.5L653.0 985.2L653.3 991.3L653.6 990.4L653.9 992.4L654.1 988.2L654.4 991.9L654.7 985.2L655.0 990.7L655.3 993.3L655.6 1005.2L655.9 990.5L656.1 975.7L656.4 999.8L656.7 985.1L657.0 991.0L657.3 989.8L657.6 985.5L657.9 1004.3L658.1 999.0L658.4 989.4L658.7 995.9L659.0 992.0L659.3 1002.3L659.6 993.6L659.9 990.3L660.1 991.8L660.4 994.0L660.7 1001.1L661.0 990.2L661.3 997.6L661.6 1003.1L661.9 1019.9L662.1 1007.0L662.4 974.3L662.7 995.8L663.0 997.0L663.3 1003.2L663.6 1013.5L663.9 1007.0L664.1 983.2L664.4 1003.9L664.7 1002.6L665.0 1005.1L665.3 1018.3L665.6 994.6L665.9 1015.4L666.1 991.4L666.4 1003.6L666.7 1006.1L667.0 1019.0L667.3 999.4L667.6 993.4L667.9 1008.8L668.1 1000.6L668.4 1020.2L668.7 1001.0L669.0 1000.4L669.3 1012.8L669.6 1006.8L669.9 1013.5L670.1 1002.2L670.4 1019.9L670.7 1008.4L671.0 1018.8L671.3 1011.8L671.6 1011.2L671.9 1018.9L672.1 1022.4L672.4 1029.9L672.7 1026.5L673.0 1029.6L673.3 1030.9L673.6 1040.8L673.9 1029.2L674.1 1037.7L674.4 1034.9L674.7 1037.8L675.0 1037.2L675.3 1043.5L675.6 1039.1L675.9 1038.9L676.1 1045.1L676.4 1044.9L676.7 1050.4L677.0 1052.3L677.3 1051.2L677.6 1055.3L677.9 1055.0L678.1 981.0L678.4 1056.7L678.7 1059.6L679.0 1055.7L679.3 1053.0L679.6 1052.2L679.9 1057.7L680.1 1048.2L680.4 1051.4L680.7 1051.1L681.0 1039.7L681.3 1049.5L681.6 1055.8L681.9 1051.7L682.1 1045.3L682.4 1053.3L682.7 1052.0L683.0 1066.9L683.3 1040.3L683.6 1044.8L683.9 1047.2L684.1 1044.8L684.4 1046.6L684.7 1044.5L685.0 1039.2L685.3 1030.8L685.6 1038.9L685.9 1030.7L686.1 1033.0L686.4 1033.8L686.7 1046.8L687.0 1049.9L687.3 1029.8L687.6 1043.4L687.9 1048.5L688.1 1038.5L688.4 1019.4L688.7 1002.3L689.0 1047.2L689.3 1048.6L689.6 1040.9L689.9 1024.1L690.1 1056.9L690.4 1054.2L690.7 1037.8L691.0 1035.6L691.3 1011.8L691.6 1049.7L691.9 1016.5L692.1 1049.5L692.4 1056.7L692.7 1041.6L693.0 1064.1L693.3 1035.8L693.6 1050.0L693.9 1053.6L694.1 1047.5L694.4 1030.8L694.7 1061.9L695.0 1053.1L695.3 1039.4L695.6 1040.0L695.9 1045.3L696.1 1082.3L696.4 1045.4L696.7 1039.7L697.0 1025.3L697.3 1022.6L697.6 1010.4L697.9 1049.2L698.1 1045.7L698.4 1026.2L698.7 1017.7L699.0 1039.7L699.3 1035.7L699.6 1020.4L699.9 1053.4L700.1 1047.0L700.4 1043.2L700.7 1057.4L701.0 1032.0L701.3 1066.5L701.6 1025.4L701.9 1051.0L702.1 1058.6L702.4 1037.3L702.7 1046.9L703.0 1020.4L703.3 1016.9L703.6 1037.1L703.9 1028.6L704.1 1048.4L704.4 1039.6L704.7 1053.0L705.0 1043.0L705.3 1041.0L705.6 1039.0L705.9 1032.2L706.1 1030.7L706.4 1077.2L706.7 1013.1L707.0 1033.5L707.3 1048.3L707.6 1040.5L707.9 1062.3L708.1 1041.2L708.4 1010.0L708.7 1030.0L709.0 1017.4L709.3 1045.8L709.6 1051.7L709.9 1028.9L710.1 1041.3L710.4 1029.4L710.7 1016.0L711.0 1029.0L711.3 1013.8L711.6 1027.5L711.9 1038.4L712.1 1045.9L712.4 1065.2L712.7 1031.1L713.0 1039.6L713.3 1046.0L713.6 1044.9L713.9 992.4L714.1 1016.7L714.4 1056.7L714.7 1007.6L715.0 1041.2L715.3 1051.2L715.6 1005.6L715.9 1034.4L716.1 1041.9L716.4 1038.2L716.7 1011.0L717.0 1044.5L717.3 1028.2L717.6 1053.7L717.9 1046.7L718.1 1028.5L718.4 1042.4L718.7 1025.9L719.0 1026.3L719.3 1010.6L719.6 1035.8L719.9 1054.7L720.1 1042.7L720.4 1040.7L720.7 1030.9L721.0 1033.2L721.3 1053.7L721.6 1019.3L721.9 1073.7L722.1 1042.0L722.4 1074.3L722.7 1060.0L723.0 1038.3L723.3 1054.0L723.6 1047.9L723.9 1050.7L724.1 1054.8L724.4 1039.3L724.7 1039.1L725.0 1041.8L725.3 1023.1L725.6 1044.4L725.9 1049.6L726.1 1050.9L726.4 1049.8L726.7 1045.1L727.0 1055.3L727.3 1033.2L727.6 1046.6L727.9 1047.6L728.1 1056.2L728.4 1054.8L728.7 1056.0L729.0 1051.4L729.3 1057.9L729.6 1045.5L729.9 1052.9L730.1 1038.5L730.4 1065.0L730.7 1064.7L731.0 1049.7L731.3 1048.2L731.6 1039.4L731.9 1043.7L732.1 1056.3L732.4 1054.6L732.7 1044.8L733.0 1052.7L733.3 1051.7L733.6 1061.1L733.9 1063.5L734.1 1056.3L734.4 1059.5L734.7 1058.8L735.0 1041.5L735.3 1061.2L735.6 1059.5L735.9 1067.0L736.1 1044.4L736.4 1068.1L736.7 1055.8L737.0 1064.4L737.3 1073.6L737.6 1039.7L737.9 1050.6L738.1 1078.0L738.4 1052.7L738.7 1054.7L739.0 1070.3L739.3 1062.6L739.6 1072.6L739.9 1069.0L740.1 1064.1L740.4 1075.6L740.7 1088.1L741.0 1065.1L741.3 1081.6L741.6 1078.3L741.9 1068.0L742.1 1071.9L742.4 1057.5L742.7 1056.3L743.0 1070.8L743.3 1067.6L743.6 1082.4L743.9 1054.6L744.1 1065.7L744.4 1062.2L744.7 1067.7L745.0 1082.5L745.3 1047.5L745.6 1079.6L745.9 1063.8L746.1 1067.0L746.4 1082.2L746.7 1067.9L747.0 1079.0L747.3 1073.0L747.6 1069.9L747.9 1068.0L748.1 1052.2L748.4 1064.0L748.7 1075.2L749.0 1076.0L749.3 1056.1L749.6 1086.6L749.9 1081.8L750.1 1059.2L750.4 1062.7L750.7 1085.2L751.0 1054.3L751.3 1067.4L751.6 1075.2L751.9 1076.0L752.1 1077.3L752.4 1083.6L752.7 1068.4L753.0 1072.9L753.3 1107.0L753.6 1061.3L753.9 1074.4L754.1 1082.4L754.4 1072.5L754.7 1098.5L755.0 1083.1L755.3 1093.1L755.6 1046.3L755.9 1100.1L756.1 1100.0L756.4 1073.4L756.7 1103.3L757.0 1088.7L757.3 1098.6L757.6 1111.9L757.9 1087.2L758.1 1071.2L758.4 1086.2L758.7 1067.7L759.0 1066.9L759.3 1075.8L759.6 1076.8L759.9 1105.4L760.1 1100.7L760.4 1074.7L760.7 1105.9L761.0 1063.1L761.3 1079.1L761.6 1087.4L761.9 1108.3L762.1 1101.5L762.4 1097.5L762.7 1111.2L763.0 1102.3L763.3 1113.0L763.6 1079.0L763.9 1064.8L764.1 1085.5L764.4 1105.9L764.7 1097.0L765.0 1107.5L765.3 1104.9L765.6 1102.1L765.9 1107.4L766.1 1082.3L766.4 1112.6L766.7 1077.9L767.0 1092.6L767.3 1071.8L767.6 1102.1L767.9 1070.3L768.1 1115.1L768.4 1061.6L768.7 1097.5L769.0 1091.6L769.3 1081.4L769.6 1110.3L769.9 1087.6L770.1 1112.1L770.4 1080.1L770.7 1083.0L771.0 1068.7L771.3 1099.2L771.6 1103.0L771.9 1094.9L772.1 1089.1L772.4 1076.3L772.7 1123.4L773.0 1099.3L773.3 1074.1L773.6 1088.8L773.9 1068.0L774.1 1105.3L774.4 1108.1L774.7 1103.2L775.0 1090.7L775.3 1086.6L775.6 1080.3L775.9 1097.0L776.1 1086.3L776.4 1090.0L776.7 1087.9L777.0 1091.6L777.3 1105.0L777.6 1114.8L777.9 1098.3L778.1 1097.4L778.4 1083.9L778.7 1082.6L779.0 1084.8L779.3 1111.6L779.6 1103.6L779.9 1114.8L780.1 1107.5L780.4 1091.8L780.7 1083.8L781.0 1097.3L781.3 1082.0L781.6 1133.7L781.9 1108.3L782.1 1099.2L782.4 1135.3L782.7 1099.9L783.0 1114.7L783.3 1104.3L783.6 1112.7L783.9 1102.1L784.1 1115.8L784.4 1143.4L784.7 1089.8L785.0 1075.4L785.3 1131.2L785.6 1113.3L785.9 1124.8L786.1 1107.2L786.4 1150.5L786.7 1141.3L787.0 1094.7L787.3 1124.3L787.6 1104.5L787.9 1089.0L788.1 1110.3L788.4 1124.6L788.7 1094.1L789.0 1095.8L789.3 1148.2L789.6 1117.9L789.9 1124.4L790.1 1099.8L790.4 1108.1L790.7 1121.2L791.0 1122.7L791.3 1122.0L791.6 1145.2L791.9 1122.4L792.1 1095.7L792.4 1106.2L792.7 1119.0L793.0 1139.4L793.3 1109.6L793.6 1114.1L793.9 1119.6L794.1 1109.7L794.4 1108.2L794.7 1116.8L795.0 1134.2L795.3 1127.0L795.6 1116.3L795.9 1125.9L796.1 1103.1L796.4 1133.8L796.7 1135.2L797.0 1124.6L797.3 1099.8L797.6 1160.1L797.9 1085.3L798.1 1100.3L798.4 1109.8L798.7 1129.6L799.0 1103.4L799.3 1124.1L799.6 1119.7L799.9 1118.2L800.1 1131.3L800.4 1137.5L800.7 1126.2L801.0 1118.9L801.3 1097.8L801.6 1137.5L801.9 1119.1L802.1 1103.8L802.4 1124.9L802.7 1138.4L803.0 1121.9L803.3 1114.3L803.6 1147.6L803.9 1132.7L804.1 1132.2L804.4 1137.7L804.7 1109.8L805.0 1129.3L805.3 1129.2L805.6 1150.7L805.9 1127.4L806.1 1128.3L806.4 1122.3L806.7 1127.8L807.0 1133.4L807.3 1137.8L807.6 1135.0L807.9 1152.1L808.1 1141.5L808.4 1143.2L808.7 1154.3L809.0 1146.7L809.3 1137.3L809.6 1131.4L809.9 1144.6L810.1 1137.8L810.4 1151.9L810.7 1139.8L811.0 1132.0L811.3 1146.1L811.6 1152.7L811.9 1146.2L812.1 1149.0L812.4 1149.6L812.7 1158.3L813.0 1151.7L813.3 1149.8L813.6 1146.5L813.9 1140.6L814.1 1157.3L814.4 1155.8L814.7 1143.2L815.0 1152.4L815.3 1150.5L815.6 1145.8L815.9 1145.9L816.1 1153.0L816.4 1139.1L816.7 1143.6L817.0 1146.6L817.3 1146.9L817.6 1145.1L817.9 1148.2L818.1 1150.5L818.4 1138.7L818.7 1146.5L819.0 1141.1L819.3 1158.6L819.6 1132.6L819.9 1142.8L820.1 1154.5L820.4 1141.8L820.7 1141.1L821.0 1138.8L821.3 1147.0L821.6 1131.8L821.9 1142.6L822.1 1142.2L822.4 1127.4L822.7 1145.8L823.0 1137.5L823.3 1145.9L823.6 1152.0L823.9 1146.0L824.1 1128.4L824.4 1146.1L824.7 1124.1L825.0 1134.0L825.3 1173.4L825.6 1143.5L825.9 1161.6L826.1 1140.2L826.4 1144.3L826.7 1131.8L827.0 1155.5L827.3 1142.8L827.6 1156.2L827.9 1150.5L828.1 1151.9L828.4 1149.8L828.7 1146.0L829.0 1146.7L829.3 1139.2L829.6 1123.5L829.9 1153.0L830.1 1171.1L830.4 1160.2L830.7 1174.4L831.0 1154.1L831.3 1138.3L831.6 1138.4L831.9 1157.8L832.1 1153.6L832.4 1148.3L832.7 1158.6L833.0 1141.1L833.3 1156.7L833.6 1148.2L833.9 1153.2L834.1 1164.7L834.4 1150.5L834.7 1167.2L835.0 1166.9L835.3 1144.9L835.6 1179.0L835.9 1140.8L836.1 1153.8L836.4 1163.6L836.7 1131.1L837.0 1168.0L837.3 1169.8L837.6 1156.6L837.9 1161.4L838.1 1161.4L838.4 1157.2L838.7 1172.1L839.0 1156.6L839.3 1160.8L839.6 1168.5L839.9 1172.0L840.1 1175.4L840.4 1146.9L840.7 1141.1L841.0 1163.2L841.3 1164.7L841.6 1153.5L841.9 1169.9L842.1 1174.2L842.4 1172.0L842.7 1198.6L843.0 1156.8L843.3 1169.5L843.6 1192.2L843.9 1178.3L844.1 1158.0L844.4 1173.9L844.7 1185.9L845.0 1197.1L845.3 1181.0L845.6 1195.8L845.9 1161.3L846.1 1170.1L846.4 1188.9L846.7 1163.9L847.0 1174.5L847.3 1153.9L847.6 1192.4L847.9 1174.2L848.1 1182.2L848.4 1149.0L848.7 1152.7L849.0 1196.4L849.3 1172.6L849.6 1170.6L849.9 1182.3L850.1 1182.9L850.4 1145.3L850.7 1166.8L851.0 1178.2L851.3 1177.6L851.6 1181.3L851.9 1173.4L852.1 1175.1L852.4 1181.7L852.7 1171.3L853.0 1170.0L853.3 1173.1L853.6 1178.8L853.9 1177.4L854.1 1174.4L854.4 1176.8L854.7 1178.9L855.0 1182.6L855.3 1183.1L855.6 1167.6L855.9 1189.1L856.1 1165.2L856.4 1185.3L856.7 1173.9L857.0 1185.9L857.3 1190.6L857.6 1164.4L857.9 1187.5L858.1 1186.5L858.4 1178.8L858.7 1187.1L859.0 1179.6L859.3 1185.7L859.6 1175.6L859.9 1192.9L860.1 1191.6L860.4 1193.5L860.7 1181.3L861.0 1204.6L861.3 1206.4L861.6 1188.1L861.9 1185.6L862.1 1186.2L862.4 1196.8L862.7 1200.4L863.0 1184.7L863.3 1173.4L863.6 1199.2L863.9 1192.7L864.1 1195.2L864.4 1201.7L864.7 1178.2L865.0 1195.8L865.3 1193.0L865.6 1199.7L865.9 1208.0L866.1 1197.3L866.4 1189.9L866.7 1209.8L867.0 1205.4L867.3 1197.5L867.6 1183.2L867.9 1187.2L868.1 1202.7L868.4 1208.7L868.7 1195.8L869.0 1204.6L869.3 1194.6L869.6 1196.5L869.9 1205.3L870.1 1197.8L870.4 1201.5L870.7 1208.2L871.0 1210.5L871.3 1194.5L871.6 1197.6L871.9 1187.6L872.1 1187.7L872.4 1202.5L872.7 1194.8L873.0 1182.4L873.3 1207.1L873.6 1191.6L873.9 1196.5L874.1 1203.2L874.4 1204.8L874.7 1198.6L875.0 1180.6L875.3 1204.3L875.6 1193.5L875.9 1185.8L876.1 1178.4L876.4 1211.0L876.7 1200.0L877.0 1199.7L877.3 1204.2L877.6 1197.8L877.9 1176.3L878.1 1204.7L878.4 1207.6L878.7 1203.1L879.0 1212.5L879.3 1216.1L879.6 1191.6L879.9 1195.3L880.1 1212.3L880.4 1201.8L880.7 1202.5L881.0 1209.3L881.3 1207.9L881.6 1198.0L881.9 1203.4L882.1 1192.7L882.4 1201.5L882.7 1194.1L883.0 1187.5L883.3 1200.2L883.6 1199.9L883.9 1212.6L884.1 1218.5L884.4 1206.3L884.7 1210.3L885.0 1201.9L885.3 1200.0L885.6 1204.0L885.9 1206.0L886.1 1212.1L886.4 1209.9L886.7 1222.0L887.0 1208.2L887.3 1198.0L887.6 1211.6L887.9 1206.3L888.1 1213.0L888.4 1220.0L888.7 1204.9L889.0 1212.3L889.3 1216.8L889.6 1207.1L889.9 1215.5L890.1 1218.1L890.4 1220.1L890.7 1222.2L891.0 1218.4L891.3 1217.3L891.6 1203.8L891.9 1193.6L892.1 1206.7L892.4 1225.8L892.7 1215.3L893.0 1195.5L893.3 1210.7L893.6 1217.4L893.9 1198.0L894.1 1219.4L894.4 1203.8L894.7 1223.9L895.0 1214.5L895.3 1243.1L895.6 1201.3L895.9 1217.0L896.1 1199.5L896.4 1225.9L896.7 1215.5L897.0 1223.9L897.3 1215.3L897.6 1201.6L897.9 1207.1L898.1 1200.5L898.4 1202.5L898.7 1215.8L899.0 1233.8L899.3 1224.2L899.6 1220.2L899.9 1207.4L900.1 1220.3L900.4 1203.7L900.7 1216.7L901.0 1224.6L901.3 1211.9L901.6 1208.6L901.9 1209.2L902.1 1222.2L902.4 1211.1L902.7 1198.1L903.0 1210.3L903.3 1203.0L903.6 1232.8L903.9 1215.8L904.1 1199.2L904.4 1218.9L904.7 1228.8L905.0 1222.9L905.3 1212.6L905.6 1219.1L905.9 1219.7L906.1 1227.4L906.4 1220.8L906.7 1240.2L907.0 1215.3L907.3 1232.7L907.6 1217.9L907.9 1201.5L908.1 1206.9L908.4 1201.2L908.7 1202.5L909.0 1229.5L909.3 1212.8L909.6 1224.2L909.9 1211.2L910.1 1219.1L910.4 1210.4L910.7 1226.8L911.0 1217.6L911.3 1216.1L911.6 1218.7L911.9 1237.3L912.1 1223.8L912.4 1226.9L912.7 1211.1L913.0 1215.9L913.3 1223.2L913.6 1207.2L913.9 1231.4L914.1 1223.5L914.4 1221.6L914.7 1220.4L915.0 1219.3L915.3 1218.5L915.6 1232.4L915.9 1227.5L916.1 1231.6L916.4 1220.8L916.7 1216.9L917.0 1232.8L917.3 1215.0L917.6 1219.4L917.9 1228.7L918.1 1235.8L918.4 1215.2L918.7 1222.5L919.0 1224.7L919.3 1223.8L919.6 1219.2L919.9 1229.4L920.1 1219.7L920.4 1222.8L920.7 1211.1L921.0 1225.0L921.3 1206.8L921.6 1230.5L921.9 1231.1L922.1 1223.2L922.4 1227.6L922.7 1227.4L923.0 1226.0L923.3 1229.2L923.6 1226.4L923.9 1224.3L924.1 1219.3L924.4 1244.8L924.7 1228.9L925.0 1227.6L925.3 1232.7L925.6 1225.4L925.9 1225.5L926.1 1232.9L926.4 1235.7L926.7 1233.3L927.0 1217.9L927.3 1229.2L927.6 1228.6L927.9 1232.4L928.1 1222.4L928.4 1221.1L928.7 1228.4L929.0 1222.5L929.3 1221.1L929.6 1229.1L929.9 1237.4L930.1 1231.1L930.4 1244.9L930.7 1221.8L931.0 1236.3L931.3 1230.3L931.6 1222.9L931.9 1227.0L932.1 1223.2L932.4 1227.8L932.7 1224.3L933.0 1242.6L933.3 1228.0L933.6 1218.2L933.9 1229.7L934.1 1237.4L934.4 1228.9L934.7 1240.3L935.0 1223.8L935.3 1224.6L935.6 1257.5L935.9 1233.3L936.1 1238.6L936.4 1238.4L936.7 1242.7L937.0 1234.7L937.3 1232.8L937.6 1245.1L937.9 1227.6L938.1 1236.5L938.4 1242.1L938.7 1229.9L939.0 1221.7L939.3 1240.8L939.6 1246.9L939.9 1239.4L940.1 1221.4L940.4 1243.5L940.7 1256.3L941.0 1223.5L941.3 1212.8L941.6 1234.9L941.9 1239.6L942.1 1246.5L942.4 1247.1L942.7 1240.5L943.0 1245.0L943.3 1243.3L943.6 1241.6L943.9 1240.2L944.1 1239.6L944.4 1247.9L944.7 1247.6L945.0 1237.8L945.3 1252.4L945.6 1236.0L945.9 1241.1L946.1 1245.0L946.4 1216.7L946.7 1241.4L947.0 1257.5L947.3 1253.0L947.6 1235.8L947.9 1239.5L948.1 1238.0L948.4 1245.8L948.7 1247.8L949.0 1235.3L949.3 1252.0L949.6 1250.4L949.9 1249.7L950.1 1245.3L950.4 1249.8L950.7 1237.5L951.0 1254.2L951.3 1255.6L951.6 1252.5L951.9 1244.6L952.1 1264.3L952.4 1263.6L952.7 1241.1L953.0 1259.0L953.3 1257.6L953.6 1237.8L953.9 1261.2L954.1 1265.6L954.4 1263.7L954.7 1260.1L955.0 1254.8L955.3 1256.3L955.6 1264.1L955.9 1269.1L956.1 1256.0L956.4 1259.2L956.7 1265.6L957.0 1245.8L957.3 1263.3L957.6 1258.4L957.9 1244.7L958.1 1267.9L958.4 1253.0L958.7 1264.3L959.0 1268.0L959.3 1249.9L959.6 1250.0L959.9 1257.7L960.1 1238.6L960.4 1262.2L960.7 1258.3L961.0 1263.3L961.3 1244.1L961.6 1258.4L961.9 1259.0L962.1 1243.6L962.4 1261.4L962.7 1245.9L963.0 1256.0L963.3 1245.8L963.6 1262.8L963.9 1265.4L964.1 1254.2L964.4 1253.7L964.7 1261.9L965.0 1250.0L965.3 1253.1L965.6 1257.9L965.9 1255.0L966.1 1262.3L966.4 1259.6L966.7 1271.5L967.0 1251.1L967.3 1258.6L967.6 1246.1L967.9 1257.4L968.1 1269.8L968.4 1266.7L968.7 1244.3L969.0 1251.2L969.3 1256.8L969.6 1247.3L969.9 1256.0L970.1 1256.0L970.4 1250.2L970.7 1250.1L971.0 1248.0L971.3 1256.5L971.6 1260.6L971.9 1256.6L972.1 1268.9L972.4 1246.1L972.7 1251.1L973.0 1257.8L973.3 1248.5L973.6 1256.3L973.9 1258.8L974.1 1256.5L974.4 1253.9L974.7 1259.7L975.0 1257.2L975.3 1258.8L975.6 1258.1L975.9 1252.6L976.1 1248.1L976.4 1254.2L976.7 1256.8L977.0 1255.4L977.3 1263.0L977.6 1257.5L977.9 1260.6L978.1 1257.2L978.4 1252.3L978.7 1260.4L979.0 1259.0L979.3 1253.2L979.6 1255.1L979.9 1269.7L980.1 1242.3L980.4 1262.4L980.7 1257.3L981.0 1256.7L981.3 1255.6L981.6 1254.5L981.9 1269.5L982.1 1254.8L982.4 1255.5L982.7 1261.6L983.0 1260.8L983.3 1256.2L983.6 1255.6L983.9 1249.5L984.1 1263.8L984.4 1250.9L984.7 1242.4L985.0 1263.9L985.3 1262.1L985.6 1259.6L985.9 1254.0L986.1 1265.3L986.4 1246.0L986.7 1242.6L987.0 1258.6L987.3 1266.7L987.6 1262.0L987.9 1272.5L988.1 1263.7L988.4 1256.0L988.7 1256.2L989.0 1264.4L989.3 1257.3L989.6 1257.0L989.9 1244.5L990.1 1256.0L990.4 1248.4L990.7 1260.7L991.0 1260.9L991.3 1265.1L991.6 1274.1L991.9 1257.5L992.1 1271.9L992.4 1250.8L992.7 1261.7L993.0 1268.7L993.3 1277.5L993.6 1251.6L993.9 1259.1L994.1 1262.7L994.4 1260.8L994.7 1253.5L995.0 1247.6L995.3 1251.4L995.6 1261.9L995.9 1250.6L996.1 1279.3L996.4 1274.6L996.7 1245.8L997.0 1256.4L997.3 1276.4L997.6 1277.9L997.9 1275.0L998.1 1250.9L998.4 1261.3L998.7 1277.5L999.0 1266.3L999.3 1261.0L999.6 1270.7L999.9 1275.7L1000.1 1267.5L1000.4 1270.3L1000.7 1277.1L1001.0 1260.9L1001.3 1257.5L1001.6 1274.3L1001.9 1255.0L1002.1 1271.8L1002.4 1259.9L1002.7 1275.4L1003.0 1255.7L1003.3 1278.4L1003.6 1270.3L1003.9 1264.7L1004.1 1259.4L1004.4 1266.3L1004.7 1253.8L1005.0 1249.8L1005.3 1284.6L1005.6 1274.0L1005.9 1280.1L1006.1 1255.7L1006.4 1250.3L1006.7 1253.8L1007.0 1274.9L1007.3 1281.0L1007.6 1241.5L1007.9 1278.7L1008.1 1265.2L1008.4 1251.8L1008.7 1268.8L1009.0 1274.8L1009.3 1267.7L1009.6 1268.2L1009.9 1262.3L1010.1 1257.2L1010.4 1266.8L1010.7 1246.8L1011.0 1275.8L1011.3 1262.8L1011.6 1282.3L1011.9 1256.6L1012.1 1283.3L1012.4 1263.1L1012.7 1263.2L1013.0 1273.7L1013.3 1279.2L1013.6 1271.0L1013.9 1268.4L1014.1 1297.6L1014.4 1276.1L1014.7 1261.5L1015.0 1268.3L1015.3 1286.5L1015.6 1275.0L1015.9 1279.3L1016.1 1297.8L1016.4 1267.5L1016.7 1275.8L1017.0 1267.2L1017.3 1272.8L1017.6 1277.5L1017.9 1262.1L1018.1 1275.1L1018.4 1274.5L1018.7 1282.1L1019.0 1268.7L1019.3 1263.3L1019.6 1277.0L1019.9 1264.8L1020.1 1275.6L1020.4 1278.9L1020.7 1267.4L1021.0 1273.7L1021.3 1261.5L1021.6 1252.2L1021.9 1263.6L1022.1 1258.7L1022.4 1275.9L1022.7 1267.3L1023.0 1275.1L1023.3 1276.0L1023.6 1285.3L1023.9 1274.1L1024.1 1273.8L1024.4 1281.4L1024.7 1290.7L1025.0 1277.1L1025.3 1282.4L1025.6 1276.6L1025.9 1272.7L1026.1 1258.5L1026.4 1277.8L1026.7 1276.9L1027.0 1277.3L1027.3 1295.7L1027.6 1277.0L1027.9 1282.7L1028.1 1277.4L1028.4 1290.1L1028.7 1278.3L1029.0 1296.1L1029.3 1277.6L1029.6 1287.7L1029.9 1289.9L1030.1 1279.8L1030.4 1289.0L1030.7 1282.8L1031.0 1272.5L1031.3 1277.2L1031.6 1285.6L1031.9 1297.8L1032.1 1279.3L1032.4 1288.0L1032.7 1277.2L1033.0 1286.1L1033.3 1273.5L1033.6 1278.0L1033.9 1284.6L1034.1 1278.7L1034.4 1282.9L1034.7 1293.6L1035.0 1284.5L1035.3 1279.9L1035.6 1275.8L1035.9 1281.8L1036.1 1295.9L1036.4 1286.0L1036.7 1285.7L1037.0 1293.1L1037.3 1298.4L1037.6 1300.8L1037.9 1284.8L1038.1 1280.5L1038.4 1266.2L1038.7 1282.8L1039.0 1285.6L1039.3 1294.9L1039.6 1291.8L1039.9 1284.7L1040.1 1296.7L1040.4 1278.8L1040.7 1280.4L1041.0 1279.2L1041.3 1279.8L1041.6 1285.3L1041.9 1281.6L1042.1 1282.2L1042.4 1299.6L1042.7 1276.0L1043.0 1274.2L1043.3 1286.0L1043.6 1291.6L1043.9 1291.9L1044.1 1285.4L1044.4 1282.5L1044.7 1285.1L1045.0 1293.6L1045.3 1274.6L1045.6 1267.0L1045.9 1288.5L1046.1 1276.8L1046.4 1286.2L1046.7 1298.5L1047.0 1287.3L1047.3 1302.1L1047.6 1272.5L1047.9 1288.1L1048.1 1289.3L1048.4 1293.0L1048.7 1279.4L1049.0 1287.0L1049.3 1286.6L1049.6 1286.6L1049.9 1266.0L1050.1 1270.1L1050.4 1289.8L1050.7 1288.0L1051.0 1285.3L1051.3 1290.3L1051.6 1294.1L1051.9 1274.2L1052.1 1291.3L1052.4 1305.4L1052.7 1293.2L1053.0 1292.5L1053.3 1290.2L1053.6 1271.0L1053.9 1279.3L1054.1 1292.8L1054.4 1304.8L1054.7 1287.6L1055.0 1276.9L1055.3 1282.0L1055.6 1290.8L1055.9 1310.2L1056.1 1290.7L1056.4 1278.9L1056.7 1289.7L1057.0 1288.2L1057.3 1306.8L1057.6 1290.1L1057.9 1285.5L1058.1 1284.2L1058.4 1266.5L1058.7 1275.1L1059.0 1280.9L1059.3 1277.8L1059.6 1287.7L1059.9 1287.0L1060.1 1295.6L1060.4 1301.6L1060.7 1288.2L1061.0 1284.9L1061.3 1268.1L1061.6 1291.1L1061.9 1294.2L1062.1 1279.6L1062.4 1283.7L1062.7 1276.5L1063.0 1299.3L1063.3 1294.9L1063.6 1301.4L1063.9 1268.4L1064.1 1317.5L1064.4 1279.8L1064.7 1278.1L1065.0 1291.5L1065.3 1283.5L1065.6 1322.1L1065.9 1285.3L1066.1 1278.1L1066.4 1301.2L1066.7 1304.2L1067.0 1281.1L1067.3 1285.3L1067.6 1284.6L1067.9 1289.3L1068.1 1311.1L1068.4 1306.1L1068.7 1304.1L1069.0 1306.8L1069.3 1292.2L1069.6 1302.5L1069.9 1291.5L1070.1 1283.5L1070.4 1312.7L1070.7 1271.6L1071.0 1293.1L1071.3 1286.2L1071.6 1273.2L1071.9 1288.7L1072.1 1294.8L1072.4 1298.8L1072.7 1283.9L1073.0 1302.3L1073.3 1297.2L1073.6 1308.5L1073.9 1272.1L1074.1 1288.8L1074.4 1283.0L1074.7 1304.1L1075.0 1286.0L1075.3 1288.6L1075.6 1282.0L1075.9 1281.6L1076.1 1278.7L1076.4 1304.4L1076.7 1283.6L1077.0 1269.8L1077.3 1297.5L1077.6 1290.2L1077.9 1300.2L1078.1 1300.0L1078.4 1291.9L1078.7 1291.0L1079.0 1286.6L1079.3 1295.1L1079.6 1288.0L1079.9 1298.1L1080.1 1315.3L1080.4 1289.5L1080.7 1290.0L1081.0 1290.1L1081.3 1301.0L1081.6 1304.7L1081.9 1308.1L1082.1 1302.0L1082.4 1297.2L1082.7 1299.9L1083.0 1279.4L1083.3 1300.9L1083.6 1297.8L1083.9 1312.7L1084.1 1307.2L1084.4 1290.5L1084.7 1292.6L1085.0 1303.4L1085.3 1282.0L1085.6 1290.5L1085.9 1299.8L1086.1 1301.8L1086.4 1299.4L1086.7 1305.3L1087.0 1295.6L1087.3 1298.1L1087.6 1295.3L1087.9 1289.8L1088.1 1297.8L1088.4 1291.2L1088.7 1298.1L1089.0 1278.5L1089.3 1298.3L1089.6 1293.5L1089.9 1292.9L1090.1 1297.9L1090.4 1291.8L1090.7 1308.9L1091.0 1307.2L1091.3 1304.4L1091.6 1305.2L1091.9 1300.4L1092.1 1297.8L1092.4 1287.1L1092.7 1294.5L1093.0 1307.5L1093.3 1303.9L1093.6 1293.4L1093.9 1298.5L1094.1 1306.6L1094.4 1296.2L1094.7 1311.6L1095.0 1291.0L1095.3 1308.7L1095.6 1303.8L1095.9 1299.1L1096.1 1302.0L1096.4 1302.5L1096.7 1270.0L1097.0 1304.6L1097.3 1308.2L1097.6 1301.4L1097.9 1308.4L1098.1 1286.4L1098.4 1296.6L1098.7 1300.8L1099.0 1295.1L1099.3 1309.3L1099.6 1302.4L1099.9 1292.6L1100.1 1305.8L1100.4 1305.9L1100.7 1293.2L1101.0 1304.0L1101.3 1301.5L1101.6 1301.3L1101.9 1284.6L1102.1 1311.0L1102.4 1304.5L1102.7 1297.4L1103.0 1301.3L1103.3 1301.2L1103.6 1294.7L1103.9 1288.3L1104.1 1298.8L1104.4 1291.9L1104.7 1293.1L1105.0 1286.4L1105.3 1295.2L1105.6 1307.8L1105.9 1300.1L1106.1 1298.5L1106.4 1295.1L1106.7 1294.1L1107.0 1284.0L1107.3 1313.7L1107.6 1291.4L1107.9 1284.4L1108.1 1301.9L1108.4 1300.6L1108.7 1290.8L1109.0 1285.1L1109.3 1286.1L1109.6 1312.3L1109.9 1296.8L1110.1 1292.8L1110.4 1314.6L1110.7 1293.9L1111.0 1290.7L1111.3 1303.2L1111.6 1303.6L1111.9 1311.6L1112.1 1285.9L1112.4 1301.1L1112.7 1285.1L1113.0 1302.5L1113.3 1293.7L1113.6 1295.2L1113.9 1293.2L1114.1 1309.3L1114.4 1311.4L1114.7 1298.4L1115.0 1297.1L1115.3 1295.3L1115.6 1305.3L1115.9 1291.6L1116.1 1321.0L1116.4 1297.5L1116.7 1311.4L1117.0 1300.3L1117.3 1284.0L1117.6 1282.0L1117.9 1296.5L1118.1 1294.6L1118.4 1297.9L1118.7 1292.0L1119.0 1320.2L1119.3 1314.4L1119.6 1288.1L1119.9 1305.5L1120.1 1308.5L1120.4 1298.5L1120.7 1299.3L1121.0 1308.2L1121.3 1304.7L1121.6 1293.4L1121.9 1309.4L1122.1 1298.4L1122.4 1313.8L1122.7 1295.7L1123.0 1287.3L1123.3 1302.9L1123.6 1310.1L1123.9 1305.8L1124.1 1303.7L1124.4 1297.0L1124.7 1308.8L1125.0 1284.5L1125.3 1308.2L1125.6 1295.9L1125.9 1299.8L1126.1 1295.5L1126.4 1298.2L1126.7 1313.2L1127.0 1296.9L1127.3 1305.5L1127.6 1296.5L1127.9 1310.8L1128.1 1296.5L1128.4 1304.9L1128.7 1310.5L1129.0 1318.7L1129.3 1298.3L1129.6 1300.3L1129.9 1305.4L1130.1 1314.5L1130.4 1300.0L1130.7 1310.9L1131.0 1302.6L1131.3 1300.4L1131.6 1297.4L1131.9 1307.5L1132.1 1312.5L1132.4 1306.5L1132.7 1295.1L1133.0 1304.2L1133.3 1316.0L1133.6 1312.6L1133.9 1309.4L1134.1 1316.6L1134.4 1300.8L1134.7 1301.2L1135.0 1323.0L1135.3 1312.9L1135.6 1307.8L1135.9 1306.2L1136.1 1293.2L1136.4 1315.0L1136.7 1296.5L1137.0 1297.2L1137.3 1309.9L1137.6 1320.5L1137.9 1308.0L1138.1 1313.4L1138.4 1308.0L1138.7 1314.0L1139.0 1299.7L1139.3 1333.2L1139.6 1300.4L1139.9 1316.1L1140.1 1291.1L1140.4 1325.6L1140.7 1315.9L1141.0 1328.1L1141.3 1308.0L1141.6 1321.3L1141.9 1312.1L1142.1 1313.3L1142.4 1324.2L1142.7 1306.8L1143.0 1320.3L1143.3 1330.5L1143.6 1329.2L1143.9 1323.8L1144.1 1318.0L1144.4 1307.2L1144.7 1327.9L1145.0 1306.1L1145.3 1326.5L1145.6 1313.3L1145.9 1316.6L1146.1 1316.7L1146.4 1322.4L1146.7 1313.1L1147.0 1319.0L1147.3 1312.7L1147.6 1322.6L1147.9 1320.6L1148.1 1322.2L1148.4 1310.3L1148.7 1321.7L1149.0 1319.1L1149.3 1324.5L1149.6 1319.1L1149.9 1309.0L1150.1 1325.3L1150.4 1311.6L1150.7 1320.7L1151.0 1297.6L1151.3 1322.4L1151.6 1323.8L1151.9 1308.3L1152.1 1322.7L1152.4 1313.2L1152.7 1337.8L1153.0 1326.5L1153.3 1296.7L1153.6 1314.2L1153.9 1298.9L1154.1 1312.7L1154.4 1320.9L1154.7 1323.4L1155.0 1314.2L1155.3 1312.8L1155.6 1316.5L1155.9 1308.9L1156.1 1319.3L1156.4 1325.2L1156.7 1316.1L1157.0 1327.1L1157.3 1306.4L1157.6 1309.1L1157.9 1316.9L1158.1 1332.9L1158.4 1323.0L1158.7 1329.6L1159.0 1313.5L1159.3 1324.8L1159.6 1296.6L1159.9 1317.6L1160.1 1292.4L1160.4 1331.0L1160.7 1316.7L1161.0 1323.1L1161.3 1315.6L1161.6 1306.9L1161.9 1300.1L1162.1 1314.2L1162.4 1325.4L1162.7 1317.0L1163.0 1305.7L1163.3 1305.2L1163.6 1303.8L1163.9 1308.3L1164.1 1309.3L1164.4 1305.4L1164.7 1309.9L1165.0 1294.8L1165.3 1324.4L1165.6 1312.0L1165.9 1323.9L1166.1 1312.4L1166.4 1307.9L1166.7 1310.5L1167.0 1311.7L1167.3 1303.7L1167.6 1306.3L1167.9 1326.6L1168.1 1317.9L1168.4 1305.1L1168.7 1314.2L1169.0 1302.4L1169.3 1321.6L1169.6 1301.1L1169.9 1317.2L1170.1 1309.8L1170.4 1309.9L1170.7 1302.9L1171.0 1307.5L1171.3 1303.4L1171.6 1302.6L1171.9 1313.2L1172.1 1329.5L1172.4 1306.8L1172.7 1317.3L1173.0 1309.4L1173.3 1303.9L1173.6 1319.7L1173.9 1314.2L1174.1 1318.0L1174.4 1310.9L1174.7 1310.5L1175.0 1303.3L1175.3 1307.4L1175.6 1321.5L1175.9 1293.0L1176.1 1312.1L1176.4 1319.7L1176.7 1314.9L1177.0 1315.4L1177.3 1307.4L1177.6 1317.0L1177.9 1321.9L1178.1 1309.0L1178.4 1320.4L1178.7 1306.0L1179.0 1293.0L1179.3 1309.1L1179.6 1308.4L1179.9 1303.7L1180.1 1306.2L1180.4 1305.8L1180.7 1297.7L1181.0 1317.2L1181.3 1309.5L1181.6 1327.1L1181.9 1309.5L1182.1 1314.1L1182.4 1299.6L1182.7 1316.9L1183.0 1302.5L1183.3 1313.9L1183.6 1316.7L1183.9 1315.8L1184.1 1304.4L1184.4 1304.7L1184.7 1316.2L1185.0 1319.5L1185.3 1321.7L1185.6 1310.7L1185.9 1310.2L1186.1 1324.9L1186.4 1306.6L1186.7 1317.3L1187.0 1308.9L1187.3 1293.4L1187.6 1302.6L1187.9 1315.4L1188.1 1313.6L1188.4 1316.0L1188.7 1307.4L1189.0 1307.9L1189.3 1314.6L1189.6 1309.9L1189.9 1298.5L1190.1 1306.5L1190.4 1327.5L1190.7 1305.9L1191.0 1317.7L1191.3 1312.1L1191.6 1319.6L1191.9 1305.1L1192.1 1301.3L1192.4 1317.4L1192.7 1302.8L1193.0 1313.1L1193.3 1308.8L1193.6 1322.8L1193.9 1316.2L1194.1 1315.1L1194.4 1304.3L1194.7 1298.4L1195.0 1305.7L1195.3 1322.5L1195.6 1321.2L1195.9 1320.3L1196.1 1307.9L1196.4 1304.0L1196.7 1326.2L1197.0 1316.4L1197.3 1320.0L1197.6 1305.0L1197.9 1307.7L1198.1 1321.2L1198.4 1322.2L1198.7 1304.6L1199.0 1317.7L1199.3 1303.0L1199.6 1327.2L1199.9 1321.6L1200.1 1337.9L1200.4 1330.2L1200.7 1308.4L1201.0 1317.0L1201.3 1310.3L1201.6 1317.4L1201.9 1323.0L1202.1 1315.2L1202.4 1315.9L1202.7 1301.9L1203.0 1321.1L1203.3 1315.2L1203.6 1321.7L1203.9 1332.1L1204.1 1315.8L1204.4 1322.5L1204.7 1309.6L1205.0 1325.0L1205.3 1315.5L1205.6 1309.8L1205.9 1313.5L1206.1 1301.7L1206.4 1309.4L1206.7 1311.6L1207.0 1316.2L1207.3 1315.1L1207.6 1309.6L1207.9 1314.2L1208.1 1295.0L1208.4 1317.5L1208.7 1321.6L1209.0 1323.9L1209.3 1333.1L1209.6 1314.2L1209.9 1315.5L1210.1 1311.6L1210.4 1308.7L1210.7 1317.6L1211.0 1329.6L1211.3 1299.9L1211.6 1308.7L1211.9 1319.2L1212.1 1307.0L1212.4 1320.5L1212.7 1303.7L1213.0 1313.4L1213.3 1301.3L1213.6 1319.2L1213.9 1309.6L1214.1 1322.6L1214.4 1314.2L1214.7 1308.3L1215.0 1313.2L1215.3 1318.0L1215.6 1316.8L1215.9 1314.8L1216.1 1312.1L1216.4 1317.1L1216.7 1324.1L1217.0 1312.4L1217.3 1320.7L1217.6 1306.5L1217.9 1324.6L1218.1 1320.1L1218.4 1314.6L1218.7 1314.8L1219.0 1304.4L1219.3 1318.1L1219.6 1315.6L1219.9 1307.2L1220.1 1314.3L1220.4 1321.8L1220.7 1318.9L1221.0 1319.6L1221.3 1311.4L1221.6 1323.7L1221.9 1317.5L1222.1 1323.6L1222.4 1332.8L1222.7 1304.8L1223.0 1314.8L1223.3 1318.1L1223.6 1313.5L1223.9 1324.7L1224.1 1316.1L1224.4 1328.5L1224.7 1322.9L1225.0 1320.9L1225.3 1318.3L1225.6 1323.4L1225.9 1323.0L1226.1 1331.8L1226.4 1321.0L1226.7 1324.4L1227.0 1321.0L1227.3 1320.6L1227.6 1310.7L1227.9 1319.1L1228.1 1321.2L1228.4 1313.2L1228.7 1312.2L1229.0 1317.9L1229.3 1321.9L1229.6 1305.9L1229.9 1321.3L1230.1 1327.5L1230.4 1318.7L1230.7 1321.2L1231.0 1322.4L1231.3 1315.2L1231.6 1323.3L1231.9 1322.6L1232.1 1314.7L1232.4 1324.5L1232.7 1324.7L1233.0 1315.9L1233.3 1324.8L1233.6 1319.8L1233.9 1315.1L1234.1 1316.6L1234.4 1317.4L1234.7 1323.7L1235.0 1319.4L1235.3 1319.9L1235.6 1316.4L1235.9 1321.9L1236.1 1313.6L1236.4 1319.2L1236.7 1324.5L1237.0 1324.8L1237.3 1320.1L1237.6 1322.2L1237.9 1324.5L1238.1 1322.5L1238.4 1327.2L1238.7 1327.8L1239.0 1322.3L1239.3 1318.4L1239.6 1322.5L1239.9 1328.0L1240.1 1327.3L1240.4 1327.5L1240.7 1329.7L1241.0 1320.7L1241.3 1324.6L1241.6 1327.4L1241.9 1324.7L1242.1 1326.8L1242.4 1320.7L1242.7 1320.2L1243.0 1334.2L1243.3 1326.9L1243.6 1326.5L1243.9 1329.7L1244.1 1332.6L1244.4 1335.3L1244.7 1313.4L1245.0 1326.4L1245.3 1329.0L1245.6 1317.5L1245.9 1317.9L1246.1 1324.1L1246.4 1333.3L1246.7 1329.5L1247.0 1334.9L1247.3 1326.9L1247.6 1330.6L1247.9 1332.8L1248.1 1328.1L1248.4 1325.9L1248.7 1326.7L1249.0 1311.5L1249.3 1327.9L1249.6 1317.0L1249.9 1322.3L1250.1 1332.4L1250.4 1328.7L1250.7 1316.1L1251.0 1329.6L1251.3 1331.0L1251.6 1328.1L1251.9 1330.9L1252.1 1330.4L1252.4 1311.6L1252.7 1325.4L1253.0 1325.6L1253.3 1320.2L1253.6 1327.3L1253.9 1322.7L1254.1 1326.9L1254.4 1322.4L1254.7 1334.5L1255.0 1342.2L1255.3 1324.4L1255.6 1328.4L1255.9 1328.6L1256.1 1331.3L1256.4 1326.5L1256.7 1313.2L1257.0 1331.0L1257.3 1327.8L1257.6 1321.2L1257.9 1327.4L1258.1 1325.3L1258.4 1330.8L1258.7 1326.9L1259.0 1327.3L1259.3 1330.3L1259.6 1331.4L1259.9 1330.0L1260.1 1338.3L1260.4 1331.9L1260.7 1324.9L1261.0 1342.6L1261.3 1331.9L1261.6 1341.7L1261.9 1319.2L1262.1 1335.0L1262.4 1343.1L1262.7 1340.2L1263.0 1332.3L1263.3 1327.9L1263.6 1327.9L1263.9 1330.9L1264.1 1325.8L1264.4 1327.5L1264.7 1326.1L1265.0 1326.2L1265.3 1334.5L1265.6 1321.6L1265.9 1334.4L1266.1 1337.9L1266.4 1327.6L1266.7 1328.0L1267.0 1334.1L1267.3 1333.9L1267.6 1340.3L1267.9 1321.9L1268.1 1334.2L1268.4 1343.6L1268.7 1335.7L1269.0 1346.1L1269.3 1348.8L1269.6 1332.1L1269.9 1344.8L1270.1 1339.0L1270.4 1335.9L1270.7 1334.5L1271.0 1335.0L1271.3 1331.1L1271.6 1335.6L1271.9 1345.6L1272.1 1344.4L1272.4 1334.9L1272.7 1342.2L1273.0 1340.3L1273.3 1324.1L1273.6 1341.9L1273.9 1331.0L1274.1 1331.5L1274.4 1342.9L1274.7 1347.8L1275.0 1331.6L1275.3 1333.0L1275.6 1332.6L1275.9 1335.1L1276.1 1335.9L1276.4 1333.2L1276.7 1328.4L1277.0 1349.2L1277.3 1335.3L1277.6 1333.6L1277.9 1344.0L1278.1 1336.1L1278.4 1345.3L1278.7 1346.4L1279.0 1344.8L1279.3 1336.0L1279.6 1345.1L1279.9 1328.5L1280.1 1329.7L1280.4 1339.1L1280.7 1336.7L1281.0 1347.7L1281.3 1337.0L1281.6 1326.9L1281.9 1339.3L1282.1 1336.9L1282.4 1340.2L1282.7 1330.9L1283.0 1330.3L1283.3 1339.5L1283.6 1344.3L1283.9 1342.0L1284.1 1344.5L1284.4 1328.8L1284.7 1337.7L1285.0 1340.9L1285.3 1346.3L1285.6 1341.3L1285.9 1337.6L1286.1 1338.0L1286.4 1338.8L1286.7 1328.9L1287.0 1339.8L1287.3 1345.7L1287.6 1345.0L1287.9 1325.5L1288.1 1339.7L1288.4 1328.2L1288.7 1348.2L1289.0 1344.0L1289.3 1345.4L1289.6 1334.7L1289.9 1324.8L1290.1 1326.9L1290.4 1337.1L1290.7 1328.3L1291.0 1332.1L1291.3 1353.2L1291.6 1329.7L1291.9 1344.0L1292.1 1325.7L1292.4 1341.7L1292.7 1346.1L1293.0 1345.1L1293.3 1348.7L1293.6 1353.1L1293.9 1329.5L1294.1 1341.7L1294.4 1343.6L1294.7 1342.8L1295.0 1351.4L1295.3 1341.8L1295.6 1348.5L1295.9 1348.1L1296.1 1340.8L1296.4 1343.7L1296.7 1334.3L1297.0 1342.0L1297.3 1341.1L1297.6 1338.7L1297.9 1336.5L1298.1 1346.6L1298.4 1339.0L1298.7 1355.6L1299.0 1354.5L1299.3 1345.0L1299.6 1335.8L1299.9 1346.0L1300.1 1341.5L1300.4 1340.9L1300.7 1332.4L1301.0 1343.7L1301.3 1341.4L1301.6 1336.7L1301.9 1335.3L1302.1 1337.9L1302.4 1331.0L1302.7 1336.1L1303.0 1348.8L1303.3 1335.5L1303.6 1354.8L1303.9 1331.0L1304.1 1346.8L1304.4 1346.7L1304.7 1347.1L1305.0 1343.3L1305.3 1329.4L1305.6 1347.3L1305.9 1346.9L1306.1 1340.7L1306.4 1324.3L1306.7 1347.4L1307.0 1334.0L1307.3 1338.5L1307.6 1349.1L1307.9 1349.9L1308.1 1343.4L1308.4 1336.8L1308.7 1360.8L1309.0 1349.3L1309.3 1339.9L1309.6 1334.0L1309.9 1343.3L1310.1 1331.0L1310.4 1354.9L1310.7 1345.3L1311.0 1338.7L1311.3 1344.8L1311.6 1328.5L1311.9 1341.2L1312.1 1336.7L1312.4 1329.1L1312.7 1333.8L1313.0 1346.8L1313.3 1330.2L1313.6 1340.6L1313.9 1322.7L1314.1 1344.1L1314.4 1327.3L1314.7 1348.7L1315.0 1348.4L1315.3 1350.1L1315.6 1358.8L1315.9 1344.4L1316.1 1344.0L1316.4 1348.5L1316.7 1338.9L1317.0 1325.7L1317.3 1331.9L1317.6 1332.0L1317.9 1345.3L1318.1 1337.5L1318.4 1339.9L1318.7 1352.4L1319.0 1345.6L1319.3 1363.4L1319.6 1343.5L1319.9 1334.8L1320.1 1356.8L1320.4 1337.6L1320.7 1343.6L1321.0 1354.4L1321.3 1346.4L1321.6 1351.6L1321.9 1339.0L1322.1 1342.3L1322.4 1351.4L1322.7 1340.5L1323.0 1342.0L1323.3 1345.4L1323.6 1360.4L1323.9 1359.3L1324.1 1348.4L1324.4 1347.1L1324.7 1340.6L1325.0 1358.1L1325.3 1350.5L1325.6 1355.0L1325.9 1335.8L1326.1 1354.0L1326.4 1348.9L1326.7 1353.8L1327.0 1356.0L1327.3 1348.2L1327.6 1345.5L1327.9 1353.6L1328.1 1339.7L1328.4 1359.1L1328.7 1351.3L1329.0 1341.2L1329.3 1358.1L1329.6 1355.9L1329.9 1359.8L1330.1 1360.6L1330.4 1353.0L1330.7 1349.7L1331.0 1343.4L1331.3 1354.9L1331.6 1354.0L1331.9 1348.0L1332.1 1354.1L1332.4 1345.6L1332.7 1356.9L1333.0 1351.9L1333.3 1352.5L1333.6 1347.4L1333.9 1356.4L1334.1 1352.4L1334.4 1348.8L1334.7 1353.7L1335.0 1350.6L1335.3 1357.0L1335.6 1341.2L1335.9 1347.1L1336.1 1361.4L1336.4 1350.3L1336.7 1354.8L1337.0 1350.9L1337.3 1353.8L1337.6 1364.7L1337.9 1344.1L1338.1 1357.4L1338.4 1353.5L1338.7 1353.5L1339.0 1349.8L1339.3 1349.1L1339.6 1360.0L1339.9 1356.1L1340.1 1348.2L1340.4 1354.0L1340.7 1347.7L1341.0 1368.0L1341.3 1356.1L1341.6 1345.6L1341.9 1359.0L1342.1 1357.7L1342.4 1356.2L1342.7 1355.7L1343.0 1352.2L1343.3 1354.0L1343.6 1344.9L1343.9 1361.8L1344.1 1365.5L1344.4 1358.0L1344.7 1358.7L1345.0 1348.6L1345.3 1353.5L1345.6 1348.5L1345.9 1349.1L1346.1 1358.9L1346.4 1363.6L1346.7 1355.9L1347.0 1369.6L1347.3 1360.9L1347.6 1344.4L1347.9 1354.5L1348.1 1363.9L1348.4 1357.7L1348.7 1362.7L1349.0 1342.4L1349.3 1364.3L1349.6 1350.7L1349.9 1359.3L1350.1 1369.4L1350.4 1358.0L1350.7 1356.4L1351.0 1362.2L1351.3 1353.2L1351.6 1352.6L1351.9 1363.8L1352.1 1349.5L1352.4 1351.0L1352.7 1368.9L1353.0 1351.1L1353.3 1361.4L1353.6 1365.5L1353.9 1358.6L1354.1 1352.4L1354.4 1364.3L1354.7 1350.0L1355.0 1372.9L1355.3 1373.7L1355.6 1352.9L1355.9 1363.5L1356.1 1355.2L1356.4 1362.5L1356.7 1358.4L1357.0 1353.5L1357.3 1363.8L1357.6 1349.0L1357.9 1364.1L1358.1 1359.5L1358.4 1355.2L1358.7 1367.2L1359.0 1361.2L1359.3 1357.2L1359.6 1360.0L1359.9 1359.6L1360.1 1368.3L1360.4 1359.3L1360.7 1339.9L1361.0 1339.0L1361.3 1353.8L1361.6 1352.3L1361.9 1359.9L1362.1 1351.6L1362.4 1356.0L1362.7 1372.8L1363.0 1351.9L1363.3 1369.4L1363.6 1361.3L1363.9 1373.4L1364.1 1370.3L1364.4 1363.6L1364.7 1372.2L1365.0 1366.6L1365.3 1354.2L1365.6 1367.9L1365.9 1368.1L1366.1 1363.0L1366.4 1366.4L1366.7 1360.5L1367.0 1367.3L1367.3 1362.2L1367.6 1351.2L1367.9 1362.5L1368.1 1378.8L1368.4 1372.2L1368.7 1378.1L1369.0 1365.3L1369.3 1361.9L1369.6 1356.4L1369.9 1366.9L1370.1 1374.3L1370.4 1372.6L1370.7 1376.1L1371.0 1361.8L1371.3 1367.0L1371.6 1359.9L1371.9 1373.1L1372.1 1371.3L1372.4 1361.4L1372.7 1367.7L1373.0 1348.6L1373.3 1372.4L1373.6 1356.9L1373.9 1364.1L1374.1 1371.9L1374.4 1372.5L1374.7 1362.1L1375.0 1379.7L1375.3 1383.0L1375.6 1385.6L1375.9 1377.7L1376.1 1368.3L1376.4 1378.4L1376.7 1361.5L1377.0 1360.0L1377.3 1369.5L1377.6 1370.3L1377.9 1362.2L1378.1 1381.5L1378.4 1358.2L1378.7 1354.2L1379.0 1366.5L1379.3 1381.6L1379.6 1375.5L1379.9 1372.9L1380.1 1371.8L1380.4 1375.2L1380.7 1373.8L1381.0 1372.5L1381.3 1371.2L1381.6 1360.7L1381.9 1379.8L1382.1 1370.0L1382.4 1376.2L1382.7 1377.4L1383.0 1381.7L1383.3 1368.7L1383.6 1380.8L1383.9 1385.3L1384.1 1374.7L1384.4 1375.4L1384.7 1377.2L1385.0 1368.9L1385.3 1371.6L1385.6 1368.8L1385.9 1386.3L1386.1 1372.0L1386.4 1369.9L1386.7 1378.9L1387.0 1381.8L1387.3 1373.6L1387.6 1370.8L1387.9 1382.9L1388.1 1384.1L1388.4 1365.7L1388.7 1384.6L1389.0 1357.0L1389.3 1385.8L1389.6 1374.6L1389.9 1376.0L1390.1 1383.2L1390.4 1388.6L1390.7 1393.4L1391.0 1388.1L1391.3 1383.0L1391.6 1368.1L1391.9 1375.0L1392.1 1379.0L1392.4 1373.6L1392.7 1382.4L1393.0 1376.3L1393.3 1391.3L1393.6 1376.7L1393.9 1363.2L1394.1 1374.3L1394.4 1372.8L1394.7 1383.4L1395.0 1388.5L1395.3 1385.7L1395.6 1385.7L1395.9 1370.2L1396.1 1370.1L1396.4 1372.3L1396.7 1378.8L1397.0 1375.7L1397.3 1381.8L1397.6 1385.9L1397.9 1379.0L1398.1 1391.0L1398.4 1372.7L1398.7 1383.1L1399.0 1378.0L1399.3 1385.9L1399.6 1378.3L1399.9 1374.6L1400.1 1377.6L1400.4 1372.0L1400.7 1370.4L1401.0 1384.5L1401.3 1374.1L1401.6 1387.5L1401.9 1397.1L1402.1 1375.8L1402.4 1385.1L1402.7 1378.0L1403.0 1364.7L1403.3 1378.0L1403.6 1389.6L1403.9 1369.7L1404.1 1376.9L1404.4 1376.8L1404.7 1368.0L1405.0 1381.1L1405.3 1377.7L1405.6 1383.1L1405.9 1379.2L1406.1 1368.3L1406.4 1380.5L1406.7 1383.5L1407.0 1377.0L1407.3 1383.1L1407.6 1383.0L1407.9 1362.9L1408.1 1383.6L1408.4 1363.9L1408.7 1369.3L1409.0 1377.9L1409.3 1371.6L1409.6 1372.9L1409.9 1387.2L1410.1 1366.1L1410.4 1387.8L1410.7 1392.6L1411.0 1389.4L1411.3 1370.7L1411.6 1367.5L1411.9 1379.5L1412.1 1394.9L1412.4 1377.4L1412.7 1374.9L1413.0 1377.5L1413.3 1384.7L1413.6 1388.0L1413.9 1379.0L1414.1 1378.2L1414.4 1385.1L1414.7 1379.5L1415.0 1376.2L1415.3 1357.9L1415.6 1380.2L1415.9 1374.8L1416.1 1377.6L1416.4 1377.2L1416.7 1372.8L1417.0 1383.6L1417.3 1392.1L1417.6 1383.5L1417.9 1374.6L1418.1 1381.5L1418.4 1384.9L1418.7 1378.5L1419.0 1385.2L1419.3 1369.5L1419.6 1378.7L1419.9 1391.3L1420.1 1392.5L1420.4 1379.9L1420.7 1381.9L1421.0 1397.3L1421.3 1389.5L1421.6 1376.2L1421.9 1384.0L1422.1 1376.3L1422.4 1377.6L1422.7 1373.1L1423.0 1387.7L1423.3 1399.1L1423.6 1389.1L1423.9 1373.1L1424.1 1387.0L1424.4 1372.3L1424.7 1386.0L1425.0 1391.4L1425.3 1394.7L1425.6 1384.8L1425.9 1386.4L1426.1 1384.4L1426.4 1383.1L1426.7 1396.2L1427.0 1377.6L1427.3 1373.0L1427.6 1398.0L1427.9 1402.0L1428.1 1373.5L1428.4 1392.5L1428.7 1391.6L1429.0 1382.7L1429.3 1378.9L1429.6 1387.3L1429.9 1383.8L1430.1 1392.5L1430.4 1381.9L1430.7 1395.5L1431.0 1382.3L1431.3 1399.2L1431.6 1397.8L1431.9 1395.8L1432.1 1384.7L1432.4 1386.0L1432.7 1387.2L1433.0 1396.8L1433.3 1380.4L1433.6 1382.6L1433.9 1386.9L1434.1 1391.3L1434.4 1388.1L1434.7 1388.2L1435.0 1373.2L1435.3 1384.1L1435.6 1380.7L1435.9 1396.4L1436.1 1388.3L1436.4 1393.6L1436.7 1378.9L1437.0 1388.3L1437.3 1391.3L1437.6 1376.0L1437.9 1383.7L1438.1 1384.7L1438.4 1390.2L1438.7 1390.5L1439.0 1377.9L1439.3 1390.9L1439.6 1389.9L1439.9 1390.5L1440.1 1381.9L1440.4 1387.5L1440.7 1397.8L1441.0 1401.9L1441.3 1383.7L1441.6 1400.2L1441.9 1385.1L1442.1 1381.6L1442.4 1396.6L1442.7 1390.6L1443.0 1405.2L1443.3 1385.4L1443.6 1389.1L1443.9 1393.6L1444.1 1390.1L1444.4 1385.1L1444.7 1388.1L1445.0 1387.9L1445.3 1387.9L1445.6 1387.7L1445.9 1376.6L1446.1 1394.7L1446.4 1383.4L1446.7 1386.2L1447.0 1382.1L1447.3 1386.4L1447.6 1395.2L1447.9 1397.4L1448.1 1391.8L1448.4 1389.8L1448.7 1384.0L1449.0 1385.8L1449.3 1389.6L1449.6 1386.0L1449.9 1380.4L1450.1 1388.3L1450.4 1380.1L1450.7 1403.7L1451.0 1390.7L1451.3 1384.3L1451.6 1392.3L1451.9 1383.4L1452.1 1387.4L1452.4 1401.1L1452.7 1399.4L1453.0 1381.1L1453.3 1381.8L1453.6 1386.6L1453.9 1407.5L1454.1 1391.3L1454.4 1393.0L1454.7 1387.5L1455.0 1401.5L1455.3 1399.0L1455.6 1379.0L1455.9 1385.9L1456.1 1378.7L1456.4 1384.0L1456.7 1386.8L1457.0 1383.1L1457.3 1385.7L1457.6 1398.8L1457.9 1402.2L1458.1 1394.9L1458.4 1399.7L1458.7 1384.3L1459.0 1405.8L1459.3 1412.1L1459.6 1394.1L1459.9 1399.7L1460.1 1399.9L1460.4 1379.6L1460.7 1403.7L1461.0 1402.0L1461.3 1384.4L1461.6 1393.6L1461.9 1405.7L1462.1 1401.5L1462.4 1387.1L1462.7 1393.3L1463.0 1392.7L1463.3 1399.2L1463.6 1393.0L1463.9 1398.9L1464.1 1397.5L1464.4 1387.9L1464.7 1402.3L1465.0 1401.4L1465.3 1394.5L1465.6 1405.5L1465.9 1417.3L1466.1 1388.4L1466.4 1402.1L1466.7 1406.8L1467.0 1401.0L1467.3 1396.5L1467.6 1417.1L1467.9 1397.2L1468.1 1400.1L1468.4 1396.3L1468.7 1410.1L1469.0 1385.7L1469.3 1394.9L1469.6 1398.2L1469.9 1403.8L1470.1 1404.1L1470.4 1408.8L1470.7 1400.4L1471.0 1393.5L1471.3 1401.6L1471.6 1396.0L1471.9 1398.4L1472.1 1398.9L1472.4 1405.8L1472.7 1408.3L1473.0 1394.9L1473.3 1398.5L1473.6 1402.6L1473.9 1402.9L1474.1 1400.1L1474.4 1406.9L1474.7 1401.6L1475.0 1391.4L1475.3 1412.1L1475.6 1395.0L1475.9 1414.4L1476.1 1405.3L1476.4 1405.8L1476.7 1394.0L1477.0 1405.6L1477.3 1402.5L1477.6 1398.5L1477.9 1407.6L1478.1 1409.0L1478.4 1411.9L1478.7 1396.5L1479.0 1399.4L1479.3 1413.4L1479.6 1407.9L1479.9 1409.8L1480.1 1401.5L1480.4 1407.1L1480.7 1410.1L1481.0 1393.0L1481.3 1401.0L1481.6 1407.8L1481.9 1413.8L1482.1 1402.9L1482.4 1409.6L1482.7 1400.5L1483.0 1398.4L1483.3 1409.5L1483.6 1399.5L1483.9 1406.0L1484.1 1402.4L1484.4 1408.9L1484.7 1398.2L1485.0 1397.4L1485.3 1397.3L1485.6 1404.6L1485.9 1413.5L1486.1 1410.8L1486.4 1407.0L1486.7 1405.0L1487.0 1413.1L1487.3 1405.3L1487.6 1412.1L1487.9 1418.9L1488.1 1410.0L1488.4 1408.3L1488.7 1408.3L1489.0 1405.5L1489.3 1407.7L1489.6 1400.8L1489.9 1401.1L1490.1 1415.3L1490.4 1404.9L1490.7 1396.1L1491.0 1418.8L1491.3 1414.1L1491.6 1408.8L1491.9 1398.9L1492.1 1417.5L1492.4 1412.5L1492.7 1413.4L1493.0 1404.8L1493.3 1408.7L1493.6 1403.7L1493.9 1404.9L1494.1 1399.5L1494.4 1401.8L1494.7 1403.4L1495.0 1406.6L1495.3 1415.5L1495.6 1409.6L1495.9 1396.0L1496.1 1416.0L1496.4 1397.7L1496.7 1409.2L1497.0 1405.3L1497.3 1406.9L1497.6 1403.7L1497.9 1400.4L1498.1 1415.8L1498.4 1392.5L1498.7 1401.5L1499.0 1418.7L1499.3 1406.6L1499.6 1406.8L1499.9 1401.9L1500.1 1400.4L1500.4 1412.3L1500.7 1406.0L1501.0 1409.0L1501.3 1411.5L1501.6 1397.3L1501.9 1401.3L1502.1 1403.4L1502.4 1408.6L1502.7 1411.3L1503.0 1401.5L1503.3 1406.2L1503.6 1406.9L1503.9 1407.0L1504.1 1416.6L1504.4 1403.5L1504.7 1408.7L1505.0 1390.7L1505.3 1407.2L1505.6 1408.6L1505.9 1412.0L1506.1 1405.2L1506.4 1405.0L1506.7 1401.3L1507.0 1405.4L1507.3 1421.9L1507.6 1398.6L1507.9 1398.7L1508.1 1409.1L1508.4 1403.2L1508.7 1415.7L1509.0 1400.1L1509.3 1418.1L1509.6 1406.3L1509.9 1399.5L1510.1 1396.3L1510.4 1403.9L1510.7 1405.4L1511.0 1411.2L1511.3 1397.4L1511.6 1426.5L1511.9 1414.1L1512.1 1408.3L1512.4 1406.3L1512.7 1426.7L1513.0 1405.2L1513.3 1413.9L1513.6 1418.1L1513.9 1404.5L1514.1 1413.2L1514.4 1407.1L1514.7 1422.6L1515.0 1418.4L1515.3 1413.3L1515.6 1411.3L1515.9 1403.6L1516.1 1424.4L1516.4 1419.3L1516.7 1417.3L1517.0 1419.4L1517.3 1411.2L1517.6 1404.9L1517.9 1416.6L1518.1 1402.8L1518.4 1406.8L1518.7 1415.8L1519.0 1403.0L1519.3 1412.1L1519.6 1410.3L1519.9 1405.6L1520.1 1405.4L1520.4 1411.1L1520.7 1410.7L1521.0 1413.4L1521.3 1404.3L1521.6 1413.5L1521.9 1405.8L1522.1 1405.8L1522.4 1418.4L1522.7 1409.4L1523.0 1410.5L1523.3 1408.9L1523.6 1413.4L1523.9 1418.1L1524.1 1411.8L1524.4 1417.4L1524.7 1406.8L1525.0 1416.5L1525.3 1413.5L1525.6 1414.6L1525.9 1409.3L1526.1 1411.1L1526.4 1416.2L1526.7 1408.3L1527.0 1418.9L1527.3 1411.1L1527.6 1417.4L1527.9 1409.0L1528.1 1406.5L1528.4 1418.7L1528.7 1419.1L1529.0 1415.3L1529.3 1421.2L1529.6 1415.7L1529.9 1421.5L1530.1 1416.7L1530.4 1407.8L1530.7 1422.0L1531.0 1411.0L1531.3 1428.2L1531.6 1415.4L1531.9 1411.3L1532.1 1415.1L1532.4 1416.8L1532.7 1417.5L1533.0 1419.3L1533.3 1413.2L1533.6 1405.4L1533.9 1411.8L1534.1 1418.8L1534.4 1422.5L1534.7 1405.8L1535.0 1417.1L1535.3 1422.6L1535.6 1409.0L1535.9 1425.8L1536.1 1412.5L1536.4 1416.0L1536.7 1412.5L1537.0 1426.4L1537.3 1421.6L1537.6 1417.5L1537.9 1414.9L1538.1 1407.7L1538.4 1415.3L1538.7 1413.6L1539.0 1416.2L1539.3 1406.5L1539.6 1423.9L1539.9 1425.0L1540.1 1425.8L1540.4 1413.8L1540.7 1416.8L1541.0 1410.3L1541.3 1421.9L1541.6 1415.9L1541.9 1426.4L1542.1 1421.2L1542.4 1421.4L1542.7 1420.2L1543.0 1404.3L1543.3 1421.3L1543.6 1408.4L1543.9 1419.0L1544.1 1420.6L1544.4 1410.9L1544.7 1411.8L1545.0 1416.4L1545.3 1418.9L1545.6 1420.1L1545.9 1417.7L1546.1 1412.6L1546.4 1419.1L1546.7 1431.4L1547.0 1412.5L1547.3 1432.0L1547.6 1411.1L1547.9 1414.3L1548.1 1425.4L1548.4 1422.8L1548.7 1427.1L1549.0 1423.6L1549.3 1414.8L1549.6 1418.7L1549.9 1415.9L1550.1 1424.3L1550.4 1422.0L1550.7 1425.6L1551.0 1414.8L1551.3 1417.3L1551.6 1416.4L1551.9 1416.9L1552.1 1418.1L1552.4 1426.3L1552.7 1420.0L1553.0 1425.9L1553.3 1420.5L1553.6 1409.3L1553.9 1411.7L1554.1 1418.5L1554.4 1426.2L1554.7 1419.8L1555.0 1411.5L1555.3 1420.6L1555.6 1418.5L1555.9 1423.3L1556.1 1427.6L1556.4 1421.8L1556.7 1416.6L1557.0 1414.5L1557.3 1417.2L1557.6 1420.1L1557.9 1422.6L1558.1 1416.5L1558.4 1417.1L1558.7 1423.6L1559.0 1425.6L1559.3 1422.6L1559.6 1415.2L1559.9 1419.4L1560.1 1438.2L1560.4 1415.2L1560.7 1419.3L1561.0 1426.7L1561.3 1416.1L1561.6 1419.8L1561.9 1429.0L1562.1 1427.4L1562.4 1411.6L1562.7 1425.4L1563.0 1419.1L1563.3 1409.4L1563.6 1428.1L1563.9 1419.1L1564.1 1421.9L1564.4 1417.3L1564.7 1429.5L1565.0 1427.5L1565.3 1426.9L1565.6 1436.1L1565.9 1426.1L1566.1 1420.8L1566.4 1425.8L1566.7 1424.8L1567.0 1427.1L1567.3 1409.6L1567.6 1428.0L1567.9 1434.8L1568.1 1431.7L1568.4 1420.0L1568.7 1439.9L1569.0 1428.2L1569.3 1435.6L1569.6 1429.7L1569.9 1422.5L1570.1 1415.0L1570.4 1425.0L1570.7 1427.6L1571.0 1422.4L1571.3 1417.2L1571.6 1429.5L1571.9 1420.5L1572.1 1432.8L1572.4 1421.8L1572.7 1427.1L1573.0 1423.2L1573.3 1427.3L1573.6 1428.2L1573.9 1413.1L1574.1 1421.3L1574.4 1421.9L1574.7 1421.8L1575.0 1424.8L1575.3 1431.7L1575.6 1419.5L1575.9 1428.4L1576.1 1423.1L1576.4 1421.4L1576.7 1416.9L1577.0 1421.0L1577.3 1419.2L1577.6 1430.2L1577.9 1434.1L1578.1 1428.5L1578.4 1429.7L1578.7 1418.8L1579.0 1429.4L1579.3 1420.7L1579.6 1417.7L1579.9 1428.3L1580.1 1420.1L1580.4 1428.8L1580.7 1426.0L1581.0 1423.6L1581.3 1421.8L1581.6 1426.2L1581.9 1426.5L1582.1 1425.5L1582.4 1431.3L1582.7 1421.7L1583.0 1417.1L1583.3 1417.5L1583.6 1416.7L1583.9 1419.6L1584.1 1424.0L1584.4 1433.9L1584.7 1419.0L1585.0 1419.9L1585.3 1421.6L1585.6 1419.0L1585.9 1420.2L1586.1 1428.4L1586.4 1431.6L1586.7 1420.4L1587.0 1424.0L1587.3 1429.4L1587.6 1427.7L1587.9 1423.2L1588.1 1426.2L1588.4 1423.6L1588.7 1420.4L1589.0 1426.9L1589.3 1419.0L1589.6 1421.2L1589.9 1425.6L1590.1 1417.5L1590.4 1427.7L1590.7 1419.8L1591.0 1418.4L1591.3 1426.7L1591.6 1427.3L1591.9 1428.8L1592.1 1435.8L1592.4 1418.1L1592.7 1422.1L1593.0 1417.5L1593.3 1419.3L1593.6 1428.0L1593.9 1424.9L1594.1 1424.6L1594.4 1425.4L1594.7 1420.8L1595.0 1430.0L1595.3 1417.8L1595.6 1427.0L1595.9 1420.3L1596.1 1418.6L1596.4 1434.6L1596.7 1421.8L1597.0 1427.7L1597.3 1419.7L1597.6 1420.1L1597.9 1430.7L1598.1 1426.6L1598.4 1424.8L1598.7 1427.1L1599.0 1428.0L1599.3 1429.4L1599.6 1427.5L1599.9 1428.8L1600.1 1426.8L1600.4 1426.0L1600.7 1431.4L1601.0 1413.6L1601.3 1430.1L1601.6 1425.8L1601.9 1426.8L1602.1 1424.5L1602.4 1422.2L1602.7 1429.4L1603.0 1419.7L1603.3 1420.9L1603.6 1421.0L1603.9 1440.9L1604.1 1426.5L1604.4 1426.6L1604.7 1419.1L1605.0 1427.6L1605.3 1431.5L1605.6 1421.1L1605.9 1427.5L1606.1 1428.3L1606.4 1430.6L1606.7 1432.7L1607.0 1438.2L1607.3 1427.6L1607.6 1427.9L1607.9 1424.4L1608.1 1433.2L1608.4 1427.9L1608.7 1430.7L1609.0 1432.1L1609.3 1427.6L1609.6 1427.5L1609.9 1429.5L1610.1 1429.5L1610.4 1429.2L1610.7 1428.2L1611.0 1428.8L1611.3 1435.6L1611.6 1425.8L1611.9 1429.6L1612.1 1429.3L1612.4 1434.9L1612.7 1426.4L1613.0 1428.0L1613.3 1426.6L1613.6 1433.5L1613.9 1432.7L1614.1 1431.6L1614.4 1430.1L1614.7 1441.1L1615.0 1431.0L1615.3 1419.5L1615.6 1421.9L1615.9 1422.3L1616.1 1427.2L1616.4 1421.7L1616.7 1429.5L1617.0 1422.2L1617.3 1429.2L1617.6 1426.3L1617.9 1432.1L1618.1 1430.2L1618.4 1421.8L1618.7 1438.6L1619.0 1423.9L1619.3 1427.0L1619.6 1422.6L1619.9 1434.5L1620.1 1434.4L1620.4 1429.2L1620.7 1417.6L1621.0 1433.6L1621.3 1438.5L1621.6 1425.4L1621.9 1432.1L1622.1 1434.2L1622.4 1430.0L1622.7 1424.1L1623.0 1428.9L1623.3 1426.8L1623.6 1434.1L1623.9 1421.5L1624.1 1432.4L1624.4 1430.3L1624.7 1422.5L1625.0 1425.2L1625.3 1432.6L1625.6 1436.1L1625.9 1434.1L1626.1 1443.9L1626.4 1431.0L1626.7 1424.5L1627.0 1430.3L1627.3 1426.9L1627.6 1419.2L1627.9 1438.5L1628.1 1426.1L1628.4 1426.6L1628.7 1439.5L1629.0 1428.2L1629.3 1427.4L1629.6 1435.4L1629.9 1445.3L1630.1 1423.0L1630.4 1426.8L1630.7 1429.2L1631.0 1435.8L1631.3 1433.5L1631.6 1437.8L1631.9 1425.9L1632.1 1432.2L1632.4 1439.7L1632.7 1424.6L1633.0 1438.2L1633.3 1429.5L1633.6 1434.8L1633.9 1428.8L1634.1 1436.7L1634.4 1437.5L1634.7 1433.4L1635.0 1441.8L1635.3 1429.8L1635.6 1439.0L1635.9 1429.5L1636.1 1441.8L1636.4 1438.8L1636.7 1431.9L1637.0 1442.4L1637.3 1435.3L1637.6 1429.4L1637.9 1433.4L1638.1 1440.0L1638.4 1436.3L1638.7 1440.3L1639.0 1442.7L1639.3 1440.2L1639.6 1439.1L1639.9 1437.8L1640.1 1439.1L1640.4 1443.6L1640.7 1434.7L1641.0 1436.6L1641.3 1441.1L1641.6 1433.4L1641.9 1442.3L1642.1 1438.2L1642.4 1440.4L1642.7 1435.7L1643.0 1437.5L1643.3 1443.7L1643.6 1433.8L1643.9 1442.9L1644.1 1443.4L1644.4 1438.9L1644.7 1425.5L1645.0 1431.0L1645.3 1440.3L1645.6 1443.1L1645.9 1432.7L1646.1 1440.2L1646.4 1439.6L1646.7 1432.3L1647.0 1439.4L1647.3 1435.5L1647.6 1432.4L1647.9 1446.1L1648.1 1435.6L1648.4 1432.8L1648.7 1432.9L1649.0 1446.6L1649.3 1442.8L1649.6 1442.4L1649.9 1435.4L1650.1 1440.3L1650.4 1439.1L1650.7 1441.8L1651.0 1433.0L1651.3 1443.5L1651.6 1442.8L1651.9 1435.3L1652.1 1435.2L1652.4 1438.4L1652.7 1433.7L1653.0 1437.8L1653.3 1437.8L1653.6 1444.3L1653.9 1435.1L1654.1 1437.7L1654.4 1444.0L1654.7 1432.4L1655.0 1442.9L1655.3 1437.3L1655.6 1441.2L1655.9 1439.0L1656.1 1441.4L1656.4 1427.8L1656.7 1436.4L1657.0 1431.0L1657.3 1438.0L1657.6 1436.7L1657.9 1439.4L1658.1 1445.3L1658.4 1442.3L1658.7 1440.7L1659.0 1441.5L1659.3 1438.4L1659.6 1444.8L1659.9 1441.7L1660.1 1439.6L1660.4 1443.8L1660.7 1438.0L1661.0 1437.4L1661.3 1436.1L1661.6 1434.1L1661.9 1434.8L1662.1 1443.8L1662.4 1437.7L1662.7 1439.2L1663.0 1442.2L1663.3 1438.8L1663.6 1435.6L1663.9 1436.1L1664.1 1437.7L1664.4 1445.8L1664.7 1437.3L1665.0 1437.2L1665.3 1441.5L1665.6 1439.5L1665.9 1439.7L1666.1 1440.3L1666.4 1450.3L1666.7 1438.1L1667.0 1437.6L1667.3 1446.7L1667.6 1435.8L1667.9 1432.5L1668.1 1443.0L1668.4 1437.5L1668.7 1439.4L1669.0 1439.9L1669.3 1434.8L1669.6 1441.6L1669.9 1434.5L1670.1 1443.1L1670.4 1444.4L1670.7 1436.7L1671.0 1444.2L1671.3 1440.4L1671.6 1447.4L1671.9 1439.7L1672.1 1427.3L1672.4 1431.8L1672.7 1443.5L1673.0 1437.7L1673.3 1441.4L1673.6 1434.8L1673.9 1437.2L1674.1 1429.9L1674.4 1441.4L1674.7 1443.2L1675.0 1436.3L1675.3 1442.0L1675.6 1436.6L1675.9 1441.5L1676.1 1437.9L1676.4 1436.1L1676.7 1443.2L1677.0 1427.2L1677.3 1448.0L1677.6 1433.3L1677.9 1431.7L1678.1 1441.4L1678.4 1435.9L1678.7 1443.0L1679.0 1430.8L1679.3 1446.8L1679.6 1445.9L1679.9 1436.2L1680.1 1449.0L1680.4 1438.9L1680.7 1440.7L1681.0 1438.2L1681.3 1442.1L1681.6 1442.6L1681.9 1440.6L1682.1 1442.4L1682.4 1441.7L1682.7 1443.2L1683.0 1436.0L1683.3 1439.7L1683.6 1436.8L1683.9 1441.3L1684.1 1441.3L1684.4 1440.9L1684.7 1439.0L1685.0 1453.1L1685.3 1438.0L1685.6 1443.9L1685.9 1440.2L1686.1 1451.0L1686.4 1449.4L1686.7 1443.8L1687.0 1444.8L1687.3 1437.0L1687.6 1438.4L1687.9 1445.3L1688.1 1442.5L1688.4 1436.7L1688.7 1441.9L1689.0 1437.7L1689.3 1437.3L1689.6 1442.3L1689.9 1443.0L1690.1 1441.7L1690.4 1439.9L1690.7 1439.1L1691.0 1442.3L1691.3 1442.6L1691.6 1441.4L1691.9 1451.6L1692.1 1442.1L1692.4 1443.6L1692.7 1438.6L1693.0 1442.1L1693.3 1443.5L1693.6 1445.4L1693.9 1432.7L1694.1 1447.2L1694.4 1446.5L1694.7 1444.8L1695.0 1439.8L1695.3 1437.1L1695.6 1439.5L1695.9 1446.1L1696.1 1446.0L1696.4 1443.7L1696.7 1446.3L1697.0 1440.4L1697.3 1439.9L1697.6 1451.1L1697.9 1447.9L1698.1 1448.4L1698.4 1448.0L1698.7 1443.9L1699.0 1435.8L1699.3 1442.5L1699.6 1448.1L1699.9 1443.3L1700.1 1446.7L1700.4 1446.5L1700.7 1441.0L1701.0 1446.2L1701.3 1444.8L1701.6 1439.2L1701.9 1448.3L1702.1 1440.6L1702.4 1446.2L1702.7 1446.4L1703.0 1440.1L1703.3 1441.3L1703.6 1446.2L1703.9 1445.5L1704.1 1449.1L1704.4 1445.4L1704.7 1446.6L1705.0 1445.4L1705.3 1448.3L1705.6 1441.3L1705.9 1438.1L1706.1 1446.7L1706.4 1443.8L1706.7 1442.7L1707.0 1451.1L1707.3 1440.0L1707.6 1444.1L1707.9 1448.4L1708.1 1444.0L1708.4 1443.7L1708.7 1446.4L1709.0 1443.9L1709.3 1439.1L1709.6 1437.7L1709.9 1447.8L1710.1 1447.7L1710.4 1441.2L1710.7 1446.9L1711.0 1447.7L1711.3 1447.9L1711.6 1450.7L1711.9 1449.0L1712.1 1445.3L1712.4 1444.7L1712.7 1448.0L1713.0 1441.6L1713.3 1439.9L1713.6 1448.6L1713.9 1449.8L1714.1 1447.9L1714.4 1446.9L1714.7 1440.2L1715.0 1440.8L1715.3 1443.7L1715.6 1451.8L1715.9 1444.9L1716.1 1447.0L1716.4 1441.5L1716.7 1450.8L1717.0 1439.4L1717.3 1451.9L1717.6 1446.2L1717.9 1436.8L1718.1 1446.5L1718.4 1448.3L1718.7 1448.3L1719.0 1448.0L1719.3 1431.9L1719.6 1445.4L1719.9 1447.1L1720.1 1444.2L1720.4 1452.6L1720.7 1442.2L1721.0 1447.0L1721.3 1445.5L1721.6 1438.0L1721.9 1455.0L1722.1 1447.6L1722.4 1444.1L1722.7 1443.4L1723.0 1445.7L1723.3 1452.6L1723.6 1447.6L1723.9 1443.3L1724.1 1447.3L1724.4 1444.1L1724.7 1448.9L1725.0 1449.7L1725.3 1449.8L1725.6 1448.2L1725.9 1447.4L1726.1 1441.9L1726.4 1448.0L1726.7 1451.5L1727.0 1438.0L1727.3 1453.2L1727.6 1444.8L1727.9 1444.7L1728.1 1444.8L1728.4 1450.2L1728.7 1447.7L1729.0 1448.1L1729.3 1443.2L1729.6 1454.0L1729.9 1443.5L1730.1 1452.9L1730.4 1452.7L1730.7 1450.6L1731.0 1442.3L1731.3 1447.8L1731.6 1444.4L1731.9 1454.3L1732.1 1448.9L1732.4 1450.9L1732.7 1448.7L1733.0 1449.0L1733.3 1452.4L1733.6 1457.3L1733.9 1451.3L1734.1 1453.5L1734.4 1451.0L1734.7 1450.0L1735.0 1442.9L1735.3 1446.4L1735.6 1445.4L1735.9 1450.9L1736.1 1434.9L1736.4 1438.3L1736.7 1446.0L1737.0 1450.2L1737.3 1446.0L1737.6 1448.0L1737.9 1451.8L1738.1 1455.2L1738.4 1456.4L1738.7 1451.3L1739.0 1453.6L1739.3 1446.9L1739.6 1444.5L1739.9 1451.4L1740.1 1455.8L1740.4 1451.1L1740.7 1435.0L1741.0 1456.9L1741.3 1457.4L1741.6 1452.0L1741.9 1447.4L1742.1 1444.8L1742.4 1443.5L1742.7 1459.8L1743.0 1447.3L1743.3 1447.5L1743.6 1447.8L1743.9 1448.0L1744.1 1450.2L1744.4 1446.3L1744.7 1450.0L1745.0 1446.1L1745.3 1445.1L1745.6 1440.7L1745.9 1449.9L1746.1 1454.1L1746.4 1453.3L1746.7 1453.2L1747.0 1446.7L1747.3 1445.0L1747.6 1444.9L1747.9 1443.4L1748.1 1451.7L1748.4 1453.6L1748.7 1445.2L1749.0 1450.0L1749.3 1442.1L1749.6 1450.8L1749.9 1451.4L1750.1 1444.5L1750.4 1453.3L1750.7 1446.1L1751.0 1449.0L1751.3 1454.9L1751.6 1441.3L1751.9 1449.8L1752.1 1446.6L1752.4 1454.0L1752.7 1447.6L1753.0 1447.0L1753.3 1449.7L1753.6 1455.0L1753.9 1445.2L1754.1 1443.7L1754.4 1442.9L1754.7 1451.4L1755.0 1440.1L1755.3 1442.7L1755.6 1443.5L1755.9 1443.6L1756.1 1446.5L1756.4 1444.3L1756.7 1439.0L1757.0 1456.3L1757.3 1451.3L1757.6 1446.3L1757.9 1444.8L1758.1 1444.2L1758.4 1435.3L1758.7 1442.5L1759.0 1447.8L1759.3 1448.2L1759.6 1452.9L1759.9 1447.0L1760.1 1444.5L1760.4 1451.0L1760.7 1449.6L1761.0 1441.7L1761.3 1444.1L1761.6 1450.9L1761.9 1443.9L1762.1 1447.6L1762.4 1442.9L1762.7 1451.7L1763.0 1456.3L1763.3 1438.2L1763.6 1442.6L1763.9 1450.4L1764.1 1448.6L1764.4 1447.0L1764.7 1441.4L1765.0 1439.3L1765.3 1445.5L1765.6 1451.8L1765.9 1451.9L1766.1 1458.4L1766.4 1439.4L1766.7 1448.4L1767.0 1448.8L1767.3 1456.6L1767.6 1444.4L1767.9 1454.2L1768.1 1440.1L1768.4 1452.8L1768.7 1443.2L1769.0 1442.6L1769.3 1450.8L1769.6 1445.4L1769.9 1448.8L1770.1 1446.9L1770.4 1443.5L1770.7 1454.1L1771.0 1446.2L1771.3 1444.0L1771.6 1443.9L1771.9 1437.9L1772.1 1440.8L1772.4 1450.2L1772.7 1448.5L1773.0 1446.8L1773.3 1454.2L1773.6 1447.5L1773.9 1447.7L1774.1 1452.1L1774.4 1449.4L1774.7 1453.7L1775.0 1444.8L1775.3 1448.1L1775.6 1447.7L1775.9 1445.9L1776.1 1447.3L1776.4 1452.7L1776.7 1455.9L1777.0 1448.4L1777.3 1448.0L1777.6 1449.4L1777.9 1454.2L1778.1 1451.5L1778.4 1457.2L1778.7 1458.5L1779.0 1454.7L1779.3 1445.5L1779.6 1446.7L1779.9 1446.7L1780.1 1446.3L1780.4 1454.3L1780.7 1445.5L1781.0 1454.0L1781.3 1446.0L1781.6 1444.5L1781.9 1456.0L1782.1 1437.4L1782.4 1456.9L1782.7 1441.9L1783.0 1452.3L1783.3 1451.1L1783.6 1451.2L1783.9 1449.3L1784.1 1446.2L1784.4 1448.5L1784.7 1457.5L1785.0 1455.4L1785.3 1462.6L1785.6 1456.6L1785.9 1453.8L1786.1 1451.7L1786.4 1449.8L1786.7 1458.3L1787.0 1448.9L1787.3 1449.2L1787.6 1447.3L1787.9 1454.0L1788.1 1466.9L1788.4 1449.3L1788.7 1441.6L1789.0 1447.0L1789.3 1455.9L1789.6 1449.1L1789.9 1448.4L1790.1 1455.1L1790.4 1450.8L1790.7 1446.4L1791.0 1453.9L1791.3 1442.7L1791.6 1450.8L1791.9 1462.0L1792.1 1438.9L1792.4 1460.7L1792.7 1441.1L1793.0 1453.1L1793.3 1439.8L1793.6 1450.2L1793.9 1447.7L1794.1 1448.4L1794.4 1447.1L1794.7 1460.7L1795.0 1461.4L1795.3 1443.3L1795.6 1442.2L1795.9 1451.4L1796.1 1444.3L1796.4 1463.6L1796.7 1460.5L1797.0 1456.0L1797.3 1442.4L1797.6 1448.3L1797.9 1458.0L1798.1 1447.0L1798.4 1456.5L1798.7 1452.6L1799.0 1457.8L1799.3 1452.0L1799.6 1451.9L1799.9 1444.8L1800.1 1451.5L1800.4 1447.3L1800.7 1456.4L1801.0 1444.0L1801.3 1457.2L1801.6 1458.0L1801.9 1455.9L1802.1 1443.5L1802.4 1444.9L1802.7 1454.0L1803.0 1452.7L1803.3 1449.9L1803.6 1450.8L1803.9 1445.9L1804.1 1446.2L1804.4 1445.8L1804.7 1448.7L1805.0 1451.2L1805.3 1450.0L1805.6 1446.6L1805.9 1458.0L1806.1 1453.1L1806.4 1446.2L1806.7 1467.3L1807.0 1437.2L1807.3 1455.4L1807.6 1453.8L1807.9 1448.5L1808.1 1445.9L1808.4 1451.4L1808.7 1458.0L1809.0 1457.0L1809.3 1454.6L1809.6 1453.0L1809.9 1452.1L1810.1 1457.2L1810.4 1452.6L1810.7 1453.2L1811.0 1459.7L1811.3 1448.8L1811.6 1453.8L1811.9 1451.5L1812.1 1447.0L1812.4 1460.1L1812.7 1446.4L1813.0 1449.7L1813.3 1447.0L1813.6 1454.4L1813.9 1455.2L1814.1 1461.2L1814.4 1461.3L1814.7 1461.1L1815.0 1454.9L1815.3 1457.7L1815.6 1450.4L1815.9 1446.2L1816.1 1458.9L1816.4 1447.3L1816.7 1455.8L1817.0 1460.5L1817.3 1451.9L1817.6 1460.0L1817.9 1452.5L1818.1 1451.7L1818.4 1455.9L1818.7 1462.6L1819.0 1445.1L1819.3 1453.7L1819.6 1448.1L1819.9 1453.7L1820.1 1455.1L1820.4 1444.1L1820.7 1446.1L1821.0 1457.3L1821.3 1454.6L1821.6 1448.5L1821.9 1452.5L1822.1 1457.4L1822.4 1457.2L1822.7 1440.4L1823.0 1449.0L1823.3 1467.3L1823.6 1449.9L1823.9 1449.6L1824.1 1452.8L1824.4 1453.9L1824.7 1453.4L1825.0 1454.1L1825.3 1447.7L1825.6 1454.4L1825.9 1456.4L1826.1 1452.6L1826.4 1451.2L1826.7 1448.2L1827.0 1453.0L1827.3 1445.2L1827.6 1449.4L1827.9 1450.9L1828.1 1439.1L1828.4 1453.0L1828.7 1443.3L1829.0 1446.8L1829.3 1446.7L1829.6 1449.4L1829.9 1450.2L1830.1 1454.5L1830.4 1445.4L1830.7 1449.0L1831.0 1453.4L1831.3 1448.1L1831.6 1447.3L1831.9 1452.5L1832.1 1454.9L1832.4 1454.1L1832.7 1444.1L1833.0 1451.9L1833.3 1451.0L1833.6 1460.5L1833.9 1451.0L1834.1 1449.8L1834.4 1458.8L1834.7 1447.3L1835.0 1458.1L1835.3 1458.1L1835.6 1450.8L1835.9 1453.5L1836.1 1454.8L1836.4 1463.4L1836.7 1452.8L1837.0 1449.5L1837.3 1455.4L1837.6 1452.4L1837.9 1447.6L1838.1 1451.9L1838.4 1453.9L1838.7 1458.3L1839.0 1454.9L1839.3 1454.7L1839.6 1447.2L1839.9 1457.3L1840.1 1448.0L1840.4 1447.8L1840.7 1447.7L1841.0 1447.3L1841.3 1452.2L1841.6 1455.3L1841.9 1451.9L1842.1 1449.5L1842.4 1452.9L1842.7 1447.2L1843.0 1456.8L1843.3 1459.5L1843.6 1450.2L1843.9 1449.9L1844.1 1456.9L1844.4 1467.8L1844.7 1450.4L1845.0 1458.9L1845.3 1454.4L1845.6 1446.9L1845.9 1451.6L1846.1 1455.0L1846.4 1449.3L1846.7 1461.9L1847.0 1438.8L1847.3 1448.6L1847.6 1448.4L1847.9 1447.1L1848.1 1447.5L1848.4 1451.4L1848.7 1453.8L1849.0 1451.6L1849.3 1456.8L1849.6 1450.2L1849.9 1445.5L1850.1 1447.3L1850.4 1457.7L1850.7 1447.9L1851.0 1448.7L1851.3 1453.0L1851.6 1454.1L1851.9 1450.6L1852.1 1455.3L1852.4 1458.6L1852.7 1459.7L1853.0 1452.7L1853.3 1443.6L1853.6 1445.2L1853.9 1445.2L1854.1 1452.5L1854.4 1457.5L1854.7 1455.0L1855.0 1455.8L1855.3 1467.1L1855.6 1444.7L1855.9 1458.1L1856.1 1451.0L1856.4 1447.9L1856.7 1449.1L1857.0 1449.6L1857.3 1461.4L1857.6 1454.9L1857.9 1458.6L1858.1 1440.6L1858.4 1459.3L1858.7 1453.9L1859.0 1456.4L1859.3 1444.2L1859.6 1456.5L1859.9 1452.4L1860.1 1450.7L1860.4 1451.9L1860.7 1452.8L1861.0 1453.6L1861.3 1447.8L1861.6 1455.7L1861.9 1442.1L1862.1 1447.0L1862.4 1443.6L1862.7 1438.4L1863.0 1460.4L1863.3 1460.4L1863.6 1449.5L1863.9 1448.6L1864.1 1447.5L1864.4 1452.1L1864.7 1451.8L1865.0 1443.5L1865.3 1451.6L1865.6 1441.4L1865.9 1450.9L1866.1 1457.5L1866.4 1455.4L1866.7 1453.2L1867.0 1450.9L1867.3 1461.3L1867.6 1451.2L1867.9 1442.3L1868.1 1450.8L1868.4 1441.8L1868.7 1452.1L1869.0 1451.4L1869.3 1459.0L1869.6 1458.7L1869.9 1451.1L1870.1 1451.7L1870.4 1455.8L1870.7 1448.0L1871.0 1447.1L1871.3 1462.9L1871.6 1448.3L1871.9 1453.7L1872.1 1463.5L1872.4 1450.2L1872.7 1461.2L1873.0 1447.3L1873.3 1449.3L1873.6 1459.0L1873.9 1458.1L1874.1 1453.3L1874.4 1452.7L1874.7 1457.8L1875.0 1461.2L1875.3 1448.2L1875.6 1451.6L1875.9 1457.3L1876.1 1452.0L1876.4 1457.4L1876.7 1447.1L1877.0 1459.3L1877.3 1456.6L1877.6 1454.6L1877.9 1455.0L1878.1 1460.4L1878.4 1448.5L1878.7 1454.8L1879.0 1449.9L1879.3 1449.8L1879.6 1459.6L1879.9 1455.5L1880.1 1454.5L1880.4 1456.6L1880.7 1450.3L1881.0 1458.8L1881.3 1451.8L1881.6 1458.3L1881.9 1454.0L1882.1 1457.6L1882.4 1449.8L1882.7 1457.0L1883.0 1457.1L1883.3 1454.2L1883.6 1451.5L1883.9 1449.1L1884.1 1450.9L1884.4 1455.1L1884.7 1451.6L1885.0 1446.5L1885.3 1456.3L1885.6 1455.7L1885.9 1451.9L1886.1 1448.0L1886.4 1450.9L1886.7 1451.3L1887.0 1450.7L1887.3 1454.2L1887.6 1444.9L1887.9 1453.7L1888.1 1451.9L1888.4 1457.0L1888.7 1449.5L1889.0 1452.8L1889.3 1451.9L1889.6 1444.7L1889.9 1463.1L1890.1 1452.1L1890.4 1455.4L1890.7 1453.8L1891.0 1452.2L1891.3 1453.1L1891.6 1445.0L1891.9 1455.0L1892.1 1451.1L1892.4 1452.4L1892.7 1461.2L1893.0 1453.8L1893.3 1466.7L1893.6 1459.2L1893.9 1458.4L1894.1 1455.8L1894.4 1449.9L1894.7 1464.0L1895.0 1462.0L1895.3 1454.0L1895.6 1455.0L1895.9 1448.2L1896.1 1460.2L1896.4 1456.3L1896.7 1456.4L1897.0 1453.8L1897.3 1454.6L1897.6 1454.0L1897.9 1452.5L1898.1 1453.4L1898.4 1453.1L1898.7 1463.7L1899.0 1466.2L1899.3 1446.8L1899.6 1455.4L1899.9 1452.8L1900.1 1452.9L1900.4 1459.1L1900.7 1442.3L1901.0 1459.5L1901.3 1447.2L1901.6 1456.8L1901.9 1454.0L1902.1 1453.0L1902.4 1455.9L1902.7 1451.3L1903.0 1464.6L1903.3 1448.5L1903.6 1444.4L1903.9 1455.8L1904.1 1456.7L1904.4 1462.8L1904.7 1456.1L1905.0 1451.4L1905.3 1454.3L1905.6 1453.4L1905.9 1455.4L1906.1 1459.6L1906.4 1455.8L1906.7 1454.3L1907.0 1460.4L1907.3 1453.1L1907.6 1457.3L1907.9 1459.3L1908.1 1454.7L1908.4 1462.9L1908.7 1456.9L1909.0 1466.5L1909.3 1457.0L1909.6 1455.8L1909.9 1452.7L1910.1 1458.8L1910.4 1461.6L1910.7 1446.8L1911.0 1449.6L1911.3 1452.5L1911.6 1458.7L1911.9 1458.7L1912.1 1454.2L1912.4 1456.5L1912.7 1458.2L1913.0 1460.4L1913.3 1452.6L1913.6 1449.5L1913.9 1455.9L1914.1 1466.3L1914.4 1455.5L1914.7 1455.9L1915.0 1458.4L1915.3 1449.6L1915.6 1460.8L1915.9 1453.5L1916.1 1448.7L1916.4 1456.3L1916.7 1455.5L1917.0 1461.8L1917.3 1459.5L1917.6 1454.9L1917.9 1461.0L1918.1 1460.7L1918.4 1465.2L1918.7 1453.3L1919.0 1457.2L1919.3 1453.1L1919.6 1457.5L1919.9 1462.7L1920.1 1460.8L1920.4 1454.9L1920.7 1442.4L1921.0 1453.0L1921.3 1453.9L1921.6 1457.7L1921.9 1461.4L1922.1 1460.8L1922.4 1457.1L1922.7 1459.8L1923.0 1451.4L1923.3 1451.8L1923.6 1464.7L1923.9 1456.6L1924.1 1459.2L1924.4 1458.7L1924.7 1457.7L1925.0 1453.9L1925.3 1458.2L1925.6 1454.5L1925.9 1460.6L1926.1 1458.8L1926.4 1453.6L1926.7 1462.6L1927.0 1454.5L1927.3 1460.3L1927.6 1449.1L1927.9 1457.6L1928.1 1448.4L1928.4 1449.5L1928.7 1446.9L1929.0 1452.1L1929.3 1453.5L1929.6 1451.0L1929.9 1466.1L1930.1 1457.1L1930.4 1448.6L1930.7 1453.0L1931.0 1451.8L1931.3 1454.0L1931.6 1452.8L1931.9 1446.8L1932.1 1461.1L1932.4 1461.4L1932.7 1455.9L1933.0 1458.4L1933.3 1455.1L1933.6 1448.8L1933.9 1448.6L1934.1 1456.5L1934.4 1450.0L1934.7 1452.3L1935.0 1448.9L1935.3 1456.9L1935.6 1451.5L1935.9 1455.9L1936.1 1452.6L1936.4 1446.4L1936.7 1456.8L1937.0 1454.2L1937.3 1451.0L1937.6 1458.3L1937.9 1460.3L1938.1 1463.0L1938.4 1458.7L1938.7 1456.5L1939.0 1459.6L1939.3 1451.9L1939.6 1455.2L1939.9 1456.0L1940.1 1443.6L1940.4 1458.2L1940.7 1460.1L1941.0 1455.0L1941.3 1461.4L1941.6 1451.8L1941.9 1460.7L1942.1 1461.1L1942.4 1454.1L1942.7 1456.7L1943.0 1454.4L1943.3 1451.4L1943.6 1450.3L1943.9 1451.6L1944.1 1458.4L1944.4 1449.4L1944.7 1456.2L1945.0 1468.5L1945.3 1462.2L1945.6 1458.7L1945.9 1455.1L1946.1 1446.6L1946.4 1463.4L1946.7 1462.0L1947.0 1456.9L1947.3 1453.8L1947.6 1457.6L1947.9 1454.1L1948.1 1462.4L1948.4 1457.5L1948.7 1461.6L1949.0 1453.9L1949.3 1451.4L1949.6 1446.9L1949.9 1459.8L1950.1 1451.9L1950.4 1464.4L1950.7 1458.7L1951.0 1458.7L1951.3 1449.8L1951.6 1464.1L1951.9 1461.6L1952.1 1465.5L1952.4 1457.0L1952.7 1460.0L1953.0 1460.6L1953.3 1462.2L1953.6 1463.1L1953.9 1460.1L1954.1 1461.2L1954.4 1462.5L1954.7 1470.1L1955.0 1463.7L1955.3 1460.7L1955.6 1457.9L1955.9 1457.0L1956.1 1465.2L1956.4 1454.8L1956.7 1454.2L1957.0 1459.0L1957.3 1456.6L1957.6 1457.9L1957.9 1460.9L1958.1 1458.6L1958.4 1460.6L1958.7 1460.8L1959.0 1459.0L1959.3 1455.3L1959.6 1462.2L1959.9 1459.5L1960.1 1456.6L1960.4 1454.7L1960.7 1459.8L1961.0 1468.5L1961.3 1459.4L1961.6 1463.3L1961.9 1457.2L1962.1 1455.6L1962.4 1464.8L1962.7 1461.0L1963.0 1451.0L1963.3 1465.1L1963.6 1458.8L1963.9 1464.7L1964.1 1465.2L1964.4 1458.9L1964.7 1455.3L1965.0 1465.8L1965.3 1474.0L1965.6 1460.7L1965.9 1447.5L1966.1 1457.4L1966.4 1462.3L1966.7 1450.4L1967.0 1455.8L1967.3 1455.1L1967.6 1457.0L1967.9 1469.6L1968.1 1460.4L1968.4 1473.0L1968.7 1460.7L1969.0 1459.8L1969.3 1458.9L1969.6 1459.8L1969.9 1466.7L1970.1 1464.7L1970.4 1463.4L1970.7 1464.7L1971.0 1454.0L1971.3 1456.4L1971.6 1448.6L1971.9 1456.4L1972.1 1465.1L1972.4 1455.0L1972.7 1455.2L1973.0 1456.8L1973.3 1453.2L1973.6 1460.2L1973.9 1463.1L1974.1 1466.4L1974.4 1461.0L1974.7 1463.0L1975.0 1465.5L1975.3 1457.4L1975.6 1457.3L1975.9 1462.1L1976.1 1460.8L1976.4 1459.3L1976.7 1460.2L1977.0 1457.5L1977.3 1455.1L1977.6 1461.5L1977.9 1457.8L1978.1 1456.3L1978.4 1464.3L1978.7 1461.4L1979.0 1466.4L1979.3 1457.6L1979.6 1466.6L1979.9 1470.8L1980.1 1458.5L1980.4 1458.0L1980.7 1456.7L1981.0 1457.0L1981.3 1459.6L1981.6 1462.3L1981.9 1458.3L1982.1 1463.4L1982.4 1455.6L1982.7 1459.3L1983.0 1465.7L1983.3 1471.5L1983.6 1469.8L1983.9 1469.0L1984.1 1467.0L1984.4 1452.7L1984.7 1457.6L1985.0 1458.4L1985.3 1460.9L1985.6 1463.3L1985.9 1473.4L1986.1 1458.7L1986.4 1447.6L1986.7 1454.3L1987.0 1463.2L1987.3 1464.7L1987.6 1455.8L1987.9 1466.3L1988.1 1462.7L1988.4 1468.8L1988.7 1448.1L1989.0 1462.4L1989.3 1460.9L1989.6 1462.1L1989.9 1459.7L1990.1 1455.6L1990.4 1460.0L1990.7 1455.0L1991.0 1449.5L1991.3 1465.1L1991.6 1458.9L1991.9 1456.5L1992.1 1468.5L1992.4 1460.4L1992.7 1460.5L1993.0 1465.0L1993.3 1459.8L1993.6 1462.7L1993.9 1457.3L1994.1 1467.4L1994.4 1462.0L1994.7 1470.5L1995.0 1465.1L1995.3 1468.3L1995.6 1459.5L1995.9 1458.8L1996.1 1466.4L1996.4 1466.3L1996.7 1460.5L1997.0 1465.0L1997.3 1460.6L1997.6 1464.3L1997.9 1457.9L1998.1 1465.7L1998.4 1459.4L1998.7 1466.0L1999.0 1459.9L1999.3 1461.9L1999.6 1462.5L1999.9 1462.7L2000.1 1468.2L2000.4 1470.7L2000.7 1464.3L2001.0 1455.5L2001.3 1461.5L2001.6 1456.3L2001.9 1468.6L2002.1 1461.7L2002.4 1460.5L2002.7 1463.5L2003.0 1459.3L2003.3 1464.8L2003.6 1463.2L2003.9 1455.0L2004.1 1465.2L2004.4 1458.8L2004.7 1465.6L2005.0 1450.9L2005.3 1470.2L2005.6 1459.4L2005.9 1459.9L2006.1 1467.5L2006.4 1457.6L2006.7 1466.3L2007.0 1453.1L2007.3 1468.7L2007.6 1469.3L2007.9 1467.7L2008.1 1453.9L2008.4 1463.8L2008.7 1462.9L2009.0 1459.3L2009.3 1457.0L2009.6 1459.3L2009.9 1458.1L2010.1 1461.4L2010.4 1466.2L2010.7 1460.8L2011.0 1464.4L2011.3 1461.8L2011.6 1457.5L2011.9 1462.5L2012.1 1460.6L2012.4 1464.1L2012.7 1470.5L2013.0 1452.4L2013.3 1462.8L2013.6 1451.8L2013.9 1460.2L2014.1 1449.9L2014.4 1463.5L2014.7 1475.0L2015.0 1457.6L2015.3 1462.5L2015.6 1456.3L2015.9 1461.9L2016.1 1467.8L2016.4 1455.9L2016.7 1458.0L2017.0 1453.2L2017.3 1462.3L2017.6 1463.2L2017.9 1458.4L2018.1 1464.0L2018.4 1447.4L2018.7 1462.4L2019.0 1459.7L2019.3 1453.0L2019.6 1452.7L2019.9 1452.8L2020.1 1463.6L2020.4 1465.7L2020.7 1462.1L2021.0 1466.5L2021.3 1460.5L2021.6 1456.4L2021.9 1466.8L2022.1 1462.6L2022.4 1454.4L2022.7 1458.1L2023.0 1464.4L2023.3 1468.0L2023.6 1462.1L2023.9 1452.4L2024.1 1461.0L2024.4 1468.7L2024.7 1464.1L2025.0 1466.7L2025.3 1452.4L2025.6 1458.5L2025.9 1462.3L2026.1 1462.1L2026.4 1459.7L2026.7 1452.1L2027.0 1462.1L2027.3 1461.5L2027.6 1457.4L2027.9 1465.1L2028.1 1472.7L2028.4 1461.3L2028.7 1460.2L2029.0 1465.5L2029.3 1471.3L2029.6 1461.6L2029.9 1460.2L2030.1 1459.2L2030.4 1471.2L2030.7 1465.3L2031.0 1465.4L2031.3 1461.4L2031.6 1458.8L2031.9 1458.3L2032.1 1466.6L2032.4 1469.8L2032.7 1457.2L2033.0 1466.9L2033.3 1452.4L2033.6 1449.8L2033.9 1459.6L2034.1 1462.9L2034.4 1465.3L2034.7 1458.6L2035.0 1456.9L2035.3 1466.8L2035.6 1447.2L2035.9 1463.8L2036.1 1461.8L2036.4 1454.6L2036.7 1457.6L2037.0 1473.7L2037.3 1446.3L2037.6 1457.9L2037.9 1453.0L2038.1 1459.8L2038.4 1460.9L2038.7 1460.9L2039.0 1462.8L2039.3 1464.0L2039.6 1462.2L2039.9 1453.7L2040.1 1456.1L2040.4 1464.9L2040.7 1458.1L2041.0 1463.9L2041.3 1465.4L2041.6 1445.7L2041.9 1470.2L2042.1 1463.8L2042.4 1463.5L2042.7 1468.4L2043.0 1464.3L2043.3 1465.5L2043.6 1457.0L2043.9 1460.1L2044.1 1458.1L2044.4 1459.2L2044.7 1461.4L2045.0 1460.9L2045.3 1458.9L2045.6 1457.2L2045.9 1455.9L2046.1 1459.0L2046.4 1455.7L2046.7 1456.3L2047.0 1463.6L2047.3 1464.4L2047.6 1457.7L2047.9 1456.5L2048.1 1449.6L2048.4 1458.3L2048.7 1461.1L2049.0 1458.2L2049.3 1458.0L2049.6 1467.4L2049.9 1463.2L2050.1 1457.4L2050.4 1468.7L2050.7 1466.6L2051.0 1471.3L2051.3 1460.8L2051.6 1457.7L2051.9 1459.8L2052.1 1459.9L2052.4 1455.8L2052.7 1467.7L2053.0 1456.8L2053.3 1449.4L2053.6 1463.3L2053.9 1459.7L2054.1 1462.5L2054.4 1457.4L2054.7 1449.8L2055.0 1468.9L2055.3 1463.5L2055.6 1459.9L2055.9 1461.8L2056.1 1467.5L2056.4 1462.4L2056.7 1459.5L2057.0 1460.4L2057.3 1453.6L2057.6 1461.9L2057.9 1459.9L2058.1 1463.4L2058.4 1457.1L2058.7 1457.4L2059.0 1451.3L2059.3 1457.8L2059.6 1459.0L2059.9 1457.9L2060.1 1469.8L2060.4 1464.4L2060.7 1460.7L2061.0 1455.5L2061.3 1461.2L2061.6 1475.4L2061.9 1458.8L2062.1 1459.3L2062.4 1464.0L2062.7 1455.6L2063.0 1462.8L2063.3 1453.2L2063.6 1460.5L2063.9 1461.1L2064.1 1461.4L2064.4 1465.3L2064.7 1460.3L2065.0 1459.5L2065.3 1464.6L2065.6 1459.6L2065.9 1466.4L2066.1 1457.6L2066.4 1461.2L2066.7 1458.4L2067.0 1460.5L2067.3 1458.1L2067.6 1460.1L2067.9 1446.8L2068.1 1466.4L2068.4 1454.6L2068.7 1461.0L2069.0 1455.2L2069.3 1470.5L2069.6 1468.7L2069.9 1469.5L2070.1 1457.6L2070.4 1460.9L2070.7 1465.4L2071.0 1458.3L2071.3 1471.9L2071.6 1464.7L2071.9 1463.8L2072.1 1460.0L2072.4 1467.2L2072.7 1460.3L2073.0 1453.1L2073.3 1460.3L2073.6 1454.9L2073.9 1460.4L2074.1 1462.6L2074.4 1459.1L2074.7 1459.0L2075.0 1451.5L2075.3 1454.7L2075.6 1473.5L2075.9 1454.5L2076.1 1449.8L2076.4 1459.1L2076.7 1471.8L2077.0 1464.7L2077.3 1460.4L2077.6 1460.7L2077.9 1458.3L2078.1 1462.2L2078.4 1461.3L2078.7 1459.7L2079.0 1450.8L2079.3 1457.4L2079.6 1454.3L2079.9 1454.5L2080.1 1460.8L2080.4 1461.3L2080.7 1456.2L2081.0 1463.3L2081.3 1458.9L2081.6 1456.8L2081.9 1463.7L2082.1 1462.9L2082.4 1475.8L2082.7 1464.6L2083.0 1462.0L2083.3 1460.7L2083.6 1456.5L2083.9 1446.0L2084.1 1458.6L2084.4 1456.7L2084.7 1460.5L2085.0 1464.1L2085.3 1459.3L2085.6 1463.5L2085.9 1472.8L2086.1 1459.3L2086.4 1458.2L2086.7 1467.1L2087.0 1470.1L2087.3 1468.9L2087.6 1455.8L2087.9 1451.8L2088.1 1473.3L2088.4 1467.2L2088.7 1461.1L2089.0 1447.4L2089.3 1470.7L2089.6 1468.5L2089.9 1466.4L2090.1 1450.6L2090.4 1460.9L2090.7 1455.7L2091.0 1460.6L2091.3 1467.6L2091.6 1458.5L2091.9 1454.2L2092.1 1453.1L2092.4 1463.0L2092.7 1454.6L2093.0 1457.4L2093.3 1456.2L2093.6 1454.6L2093.9 1455.0L2094.1 1451.9L2094.4 1467.0L2094.7 1461.7L2095.0 1457.4L2095.3 1470.6L2095.6 1460.1L2095.9 1464.5L2096.1 1460.8L2096.4 1456.9L2096.7 1454.9L2097.0 1457.0L2097.3 1466.8L2097.6 1455.1L2097.9 1459.5L2098.1 1456.6L2098.4 1460.9L2098.7 1460.1L2099.0 1455.1L2099.3 1461.5L2099.6 1456.2L2099.9 1463.6L2100.1 1461.7L2100.4 1460.1L2100.7 1461.5L2101.0 1462.8L2101.3 1466.0L2101.6 1466.2L2101.9 1466.1L2102.1 1463.5L2102.4 1460.1L2102.7 1463.2L2103.0 1458.8L2103.3 1458.1L2103.6 1462.5L2103.9 1463.2L2104.1 1455.6L2104.4 1464.1L2104.7 1461.3L2105.0 1460.0L2105.3 1460.1L2105.6 1461.1L2105.9 1468.3L2106.1 1448.8L2106.4 1464.4L2106.7 1453.2L2107.0 1463.9L2107.3 1458.3L2107.6 1452.9L2107.9 1466.9L2108.1 1452.1L2108.4 1456.6L2108.7 1454.9L2109.0 1459.4L2109.3 1453.6L2109.6 1462.8L2109.9 1467.0L2110.1 1468.2L2110.4 1467.1L2110.7 1457.3L2111.0 1459.2L2111.3 1462.4L2111.6 1460.8L2111.9 1458.3L2112.1 1448.2L2112.4 1457.7L2112.7 1463.1L2113.0 1460.3L2113.3 1473.4L2113.6 1444.9L2113.9 1451.9L2114.1 1453.3L2114.4 1465.5L2114.7 1468.4L2115.0 1455.2L2115.3 1461.0L2115.6 1465.9L2115.9 1462.6L2116.1 1462.1L2116.4 1454.4L2116.7 1455.6L2117.0 1453.2L2117.3 1449.7L2117.6 1464.5L2117.9 1459.6L2118.1 1458.8L2118.4 1455.2L2118.7 1461.5L2119.0 1466.6L2119.3 1454.8L2119.6 1468.9L2119.9 1465.3L2120.1 1446.9L2120.4 1462.8L2120.7 1462.8L2121.0 1468.7L2121.3 1460.5L2121.6 1448.4L2121.9 1452.0L2122.1 1453.1L2122.4 1463.9L2122.7 1455.7L2123.0 1454.3L2123.3 1464.0L2123.6 1465.7L2123.9 1447.9L2124.1 1461.5L2124.4 1467.3L2124.7 1465.2L2125.0 1469.2L2125.3 1473.1L2125.6 1466.1L2125.9 1458.8L2126.1 1473.4L2126.4 1465.9L2126.7 1462.1L2127.0 1460.1L2127.3 1465.2L2127.6 1459.3L2127.9 1461.8L2128.1 1468.5L2128.4 1464.9L2128.7 1455.9L2129.0 1463.4L2129.3 1460.2L2129.6 1455.1L2129.9 1457.0L2130.1 1457.5L2130.4 1463.2L2130.7 1468.9L2131.0 1461.3L2131.3 1469.9L2131.6 1457.9L2131.9 1461.2L2132.1 1470.6L2132.4 1463.4L2132.7 1464.1L2133.0 1464.3L2133.3 1459.7L2133.6 1475.0L2133.9 1462.8L2134.1 1467.5L2134.4 1465.5L2134.7 1468.1L2135.0 1470.9L2135.3 1450.4L2135.6 1455.0L2135.9 1451.4L2136.1 1458.2L2136.4 1461.7L2136.7 1465.1L2137.0 1459.9L2137.3 1465.8L2137.6 1466.6L2137.9 1463.4L2138.1 1456.8L2138.4 1459.7L2138.7 1461.9L2139.0 1466.9L2139.3 1462.1L2139.6 1464.8L2139.9 1454.1L2140.1 1447.9L2140.4 1464.0L2140.7 1463.6L2141.0 1457.8L2141.3 1460.7L2141.6 1466.0L2141.9 1466.2L2142.1 1469.7L2142.4 1469.4L2142.7 1461.7L2143.0 1467.6L2143.3 1474.2L2143.6 1472.1L2143.9 1458.8L2144.1 1465.2L2144.4 1471.1L2144.7 1464.1L2145.0 1466.6L2145.3 1470.2L2145.6 1464.9L2145.9 1465.8L2146.1 1460.3L2146.4 1458.4L2146.7 1461.0L2147.0 1467.1L2147.3 1462.6L2147.6 1464.2L2147.9 1474.6L2148.1 1459.6L2148.4 1468.6L2148.7 1461.0L2149.0 1466.8L2149.3 1468.3L2149.6 1470.6L2149.9 1459.8L2150.1 1462.0L2150.4 1465.1L2150.7 1463.5L2151.0 1449.5L2151.3 1466.1L2151.6 1457.7L2151.9 1463.9L2152.1 1453.2L2152.4 1465.3L2152.7 1463.8L2153.0 1477.6L2153.3 1467.6L2153.6 1462.2L2153.9 1468.3L2154.1 1451.1L2154.4 1469.2L2154.7 1470.1L2155.0 1461.9L2155.3 1463.0L2155.6 1455.1L2155.9 1466.3L2156.1 1468.7L2156.4 1457.8L2156.7 1467.9L2157.0 1459.0L2157.3 1472.5L2157.6 1449.3L2157.9 1463.4L2158.1 1469.6L2158.4 1458.4L2158.7 1461.1L2159.0 1465.0L2159.3 1464.1L2159.6 1460.9L2159.9 1461.0L2160.1 1462.7L2160.4 1463.1L2160.7 1462.3L2161.0 1469.4L2161.3 1465.8L2161.6 1467.2L2161.9 1467.8L2162.1 1454.3L2162.4 1459.2L2162.7 1474.9L2163.0 1454.2L2163.3 1461.3L2163.6 1468.2L2163.9 1464.0L2164.1 1463.4L2164.4 1473.6L2164.7 1459.5L2165.0 1470.9L2165.3 1457.4L2165.6 1451.6L2165.9 1463.5L2166.1 1466.5L2166.4 1477.3L2166.7 1467.3L2167.0 1466.6L2167.3 1471.3L2167.6 1465.4L2167.9 1462.0L2168.1 1462.9L2168.4 1470.4L2168.7 1463.4L2169.0 1457.7L2169.3 1462.1L2169.6 1456.8L2169.9 1472.8L2170.1 1456.9L2170.4 1468.8L2170.7 1464.3L2171.0 1472.3L2171.3 1475.0L2171.6 1464.0L2171.9 1469.2L2172.1 1467.0L2172.4 1458.0L2172.7 1473.7L2173.0 1470.1L2173.3 1469.1L2173.6 1470.1L2173.9 1467.8L2174.1 1462.6L2174.4 1467.8L2174.7 1460.2L2175.0 1477.5L2175.3 1460.1L2175.6 1471.7L2175.9 1463.1L2176.1 1467.0L2176.4 1469.2L2176.7 1461.5L2177.0 1466.9L2177.3 1451.6L2177.6 1467.2L2177.9 1473.1L2178.1 1465.2L2178.4 1462.4L2178.7 1462.4L2179.0 1453.6L2179.3 1459.4L2179.6 1468.4L2179.9 1475.7L2180.1 1470.4L2180.4 1466.6L2180.7 1466.4L2181.0 1469.1L2181.3 1475.6L2181.6 1466.0L2181.9 1467.0L2182.1 1468.9L2182.4 1469.8L2182.7 1468.2L2183.0 1460.0L2183.3 1458.3L2183.6 1466.8L2183.9 1471.2L2184.1 1476.8L2184.4 1469.1L2184.7 1461.2L2185.0 1465.1L2185.3 1459.2L2185.6 1466.2L2185.9 1472.8L2186.1 1467.9L2186.4 1478.1L2186.7 1466.1L2187.0 1467.7L2187.3 1469.0L2187.6 1469.6L2187.9 1468.2L2188.1 1468.9L2188.4 1474.6L2188.7 1464.8L2189.0 1467.6L2189.3 1469.6L2189.6 1465.8L2189.9 1462.4L2190.1 1469.4L2190.4 1469.5L2190.7 1464.0L2191.0 1462.9L2191.3 1456.9L2191.6 1457.5L2191.9 1468.9L2192.1 1456.4L2192.4 1466.4L2192.7 1468.3L2193.0 1465.2L2193.3 1464.2L2193.6 1472.6L2193.9 1470.1L2194.1 1462.6L2194.4 1472.9L2194.7 1476.5L2195.0 1463.7L2195.3 1462.9L2195.6 1465.1L2195.9 1469.9L2196.1 1467.9L2196.4 1465.4L2196.7 1462.6L2197.0 1471.9L2197.3 1468.1L2197.6 1468.8L2197.9 1468.2L2198.1 1469.9L2198.4 1460.8L2198.7 1465.9L2199.0 1468.8L2199.3 1470.1L2199.6 1470.9L2199.9 1473.2L2200.1 1468.4L2200.4 1474.9L2200.7 1471.9L2201.0 1470.4L2201.3 1467.9L2201.6 1467.2L2201.9 1468.9L2202.1 1472.6L2202.4 1465.1L2202.7 1464.9L2203.0 1471.2L2203.3 1470.1L2203.6 1473.8L2203.9 1475.0L2204.1 1471.4L2204.4 1461.7L2204.7 1474.1L2205.0 1471.3L2205.3 1475.2L2205.6 1471.9L2205.9 1469.4L2206.1 1471.5L2206.4 1463.5L2206.7 1460.9L2207.0 1469.4L2207.3 1476.6L2207.6 1470.8L2207.9 1475.6L2208.1 1469.5L2208.4 1470.4L2208.7 1474.3L2209.0 1474.0L2209.3 1470.3L2209.6 1467.6L2209.9 1473.8L2210.1 1472.0L2210.4 1467.5L2210.7 1468.4L2211.0 1462.5L2211.3 1470.0L2211.6 1475.6L2211.9 1458.6L2212.1 1466.4L2212.4 1463.1L2212.7 1466.9L2213.0 1466.5L2213.3 1460.2L2213.6 1469.2L2213.9 1462.6L2214.1 1464.3L2214.4 1462.0L2214.7 1464.9L2215.0 1470.5L2215.3 1466.5L2215.6 1473.9L2215.9 1467.1L2216.1 1465.2L2216.4 1473.2L2216.7 1469.6L2217.0 1471.5L2217.3 1470.0L2217.6 1474.3L2217.9 1471.8L2218.1 1473.3L2218.4 1463.9L2218.7 1470.3L2219.0 1471.5L2219.3 1467.7L2219.6 1472.9L2219.9 1468.1L2220.1 1466.5L2220.4 1469.6L2220.7 1462.1L2221.0 1460.8L2221.3 1466.3L2221.6 1457.4L2221.9 1471.6L2222.1 1464.6L2222.4 1473.6L2222.7 1467.6L2223.0 1464.0L2223.3 1463.1L2223.6 1469.3L2223.9 1470.7L2224.1 1465.9L2224.4 1461.2L2224.7 1467.4L2225.0 1468.9L2225.3 1469.5L2225.6 1461.2L2225.9 1462.7L2226.1 1469.1L2226.4 1473.8L2226.7 1466.2L2227.0 1461.4L2227.3 1468.4L2227.6 1453.6L2227.9 1466.5L2228.1 1463.9L2228.4 1472.8L2228.7 1463.9L2229.0 1460.8L2229.3 1475.9L2229.6 1467.1L2229.9 1465.7L2230.1 1463.0L2230.4 1461.8L2230.7 1458.5L2231.0 1467.7L2231.3 1461.9L2231.6 1468.3L2231.9 1466.9L2232.1 1468.7L2232.4 1463.1L2232.7 1465.8L2233.0 1462.6L2233.3 1463.8L2233.6 1461.3L2233.9 1455.8L2234.1 1465.5L2234.4 1459.8L2234.7 1473.4L2235.0 1464.5L2235.3 1458.2L2235.6 1463.5L2235.9 1468.0L2236.1 1466.0L2236.4 1461.4L2236.7 1465.2L2237.0 1464.8L2237.3 1461.6L2237.6 1463.2L2237.9 1464.9L2238.1 1464.0L2238.4 1465.8L2238.7 1467.4L2239.0 1468.6L2239.3 1459.7" fill="none" stroke="#ff0000" stroke-width="6.2" stroke-linejoin="bevel" shape-rendering="crispEdges"/>
</g>
<g font-size="63.5" fill="#000">
<text x="364" y="1549.5" text-anchor="end">0.0</text>
<text x="364" y="1321.0" text-anchor="end">5.0x10<tspan dy="-26" font-size="42.3">3</tspan></text>
<text x="364" y="1088.9" text-anchor="end">1.0x10<tspan dy="-26" font-size="42.3">4</tspan></text>
<text x="364" y="856.9" text-anchor="end">1.5x10<tspan dy="-26" font-size="42.3">4</tspan></text>
<text x="364" y="624.9" text-anchor="end">2.0x10<tspan dy="-26" font-size="42.3">4</tspan></text>
<text x="364" y="392.8" text-anchor="end">2.5x10<tspan dy="-26" font-size="42.3">4</tspan></text>
<text x="364" y="160.8" text-anchor="end">3.0x10<tspan dy="-26" font-size="42.3">4</tspan></text>
<text x="395.5" y="1611.5" text-anchor="middle">10</text>
<text x="658.9" y="1611.5" text-anchor="middle">20</text>
<text x="922.4" y="1611.5" text-anchor="middle">30</text>
<text x="1185.8" y="1611.5" text-anchor="middle">40</text>
<text x="1449.2" y="1611.5" text-anchor="middle">50</text>
<text x="1712.6" y="1611.5" text-anchor="middle">60</text>
<text x="1976.1" y="1611.5" text-anchor="middle">70</text>
<text x="2239.5" y="1611.5" text-anchor="middle">80</text>
</g>
<text x="1317" y="1734" font-size="77" text-anchor="middle" fill="#000">Two-Theta (deg)</text>
<text transform="translate(82 759.5) rotate(-90)" x="0" y="0" font-size="77" text-anchor="middle" fill="#000">Intensity (counts)</text>
<text x="1510" y="1111" font-size="63" fill="#0000ff">High crystallinity dextran</text>
<text x="1589" y="1375" font-size="62.7" fill="#ff0000">Amorphous Dextran</text>
</svg></body></html>
